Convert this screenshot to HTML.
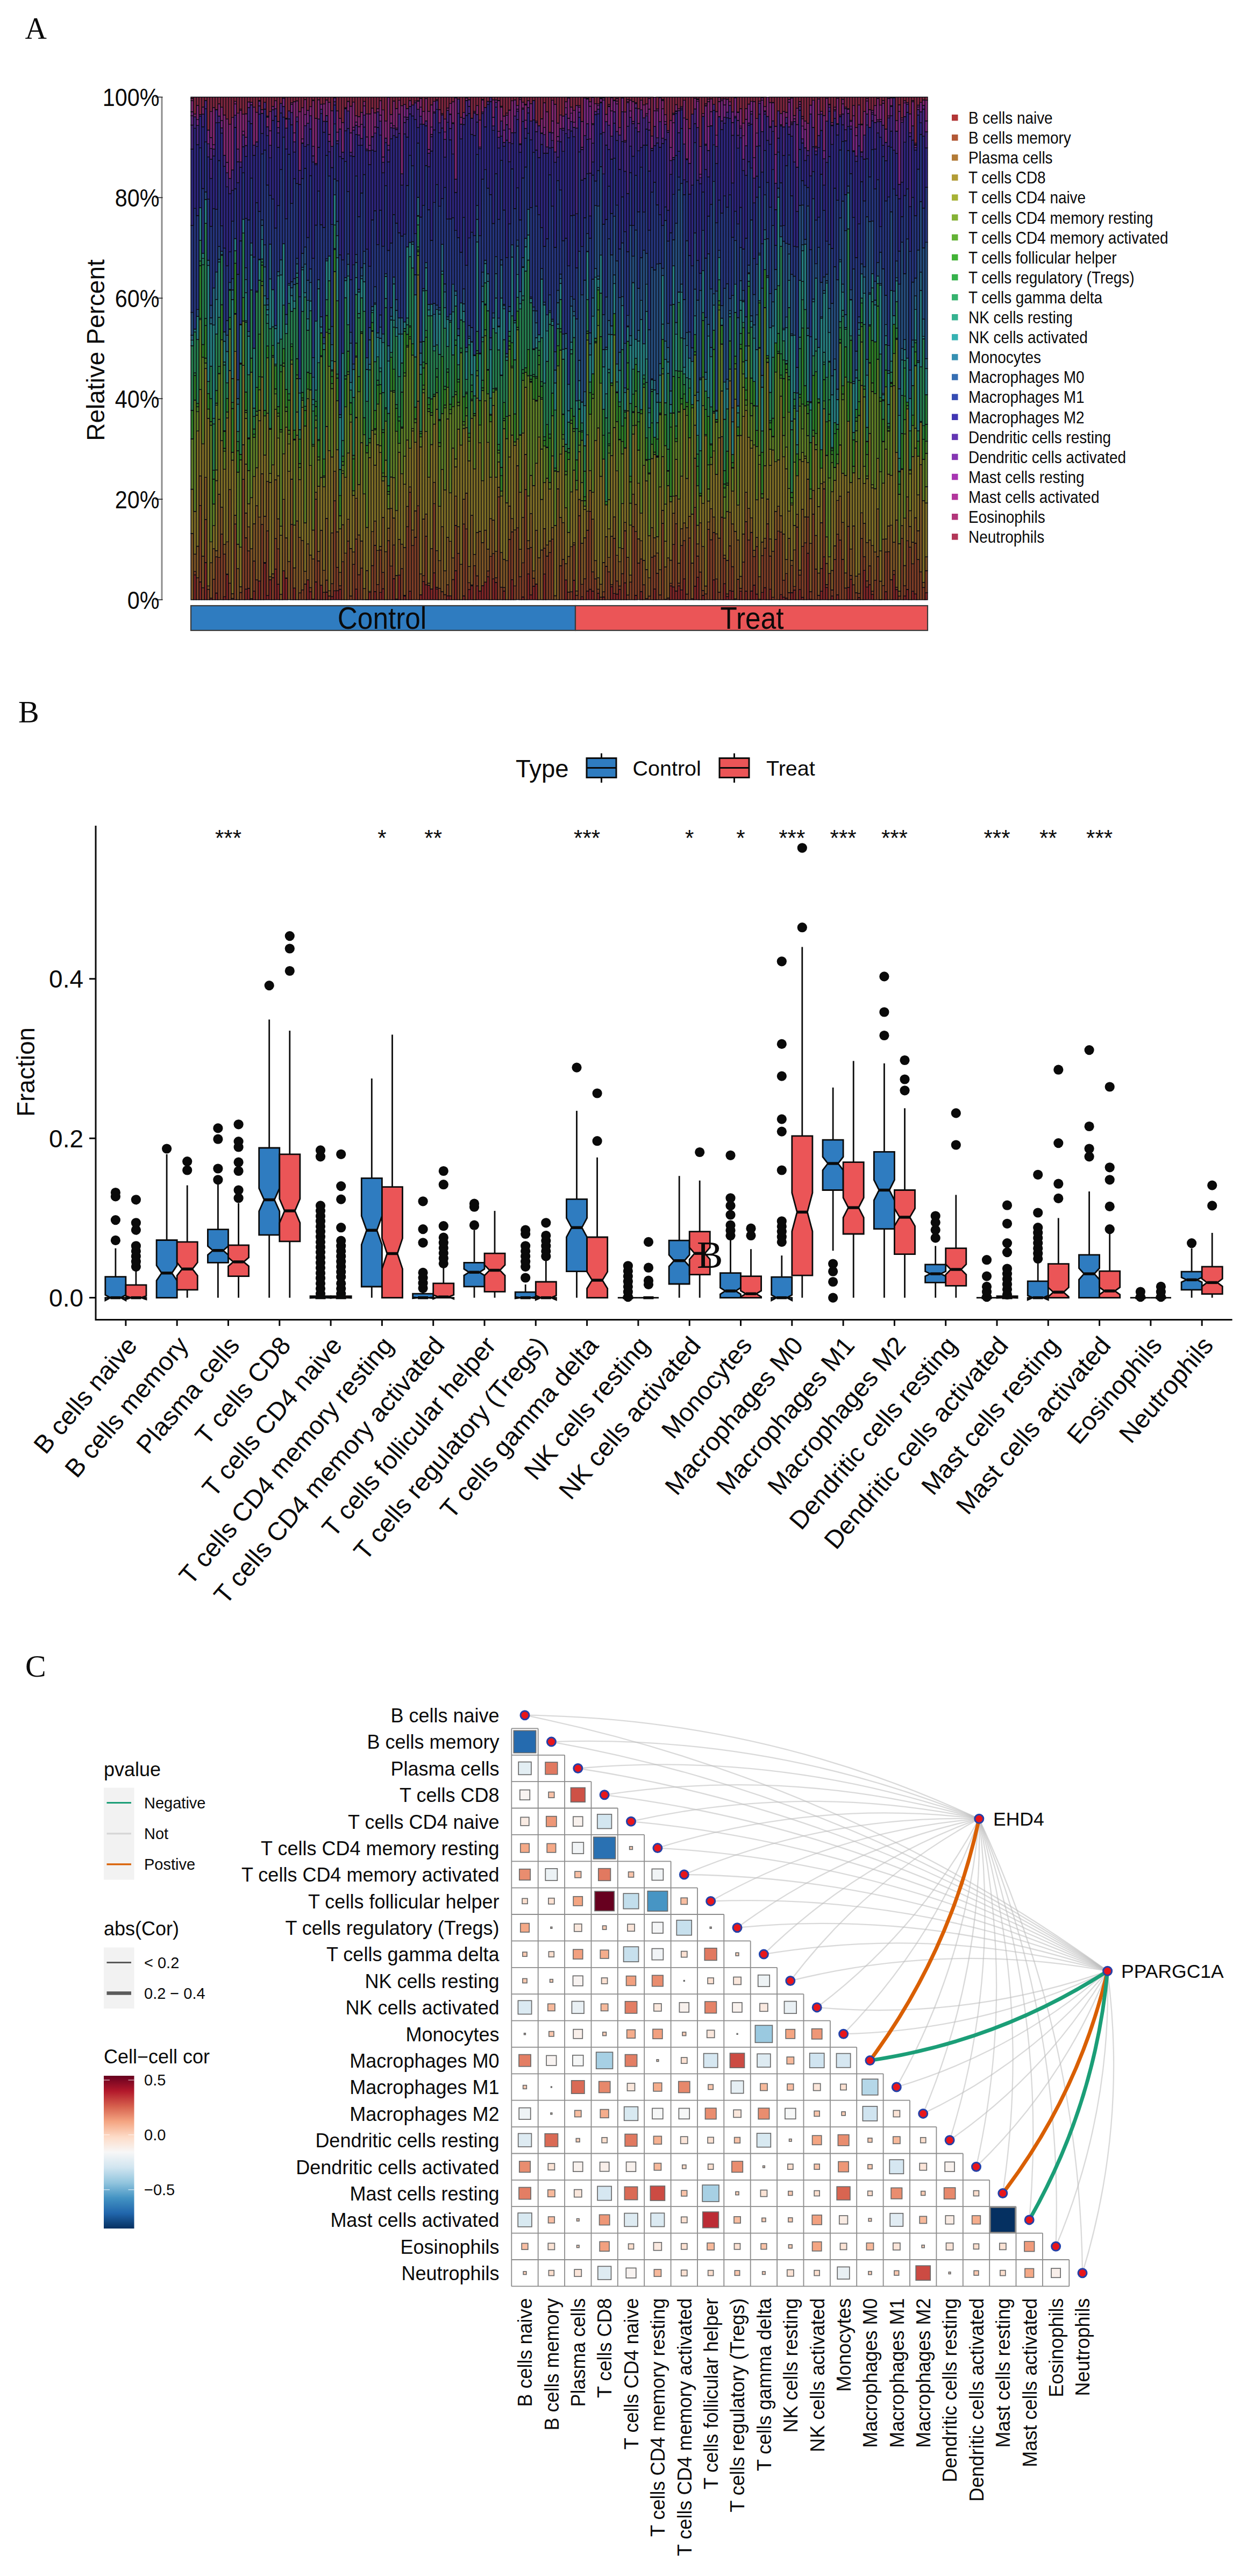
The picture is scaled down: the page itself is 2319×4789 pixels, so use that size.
<!DOCTYPE html>
<html><head><meta charset="utf-8"><title>Figure</title>
<style>html,body{margin:0;padding:0;background:#fff}svg{display:block}text{font-family:"Liberation Sans",sans-serif;fill:#0a0a0a}text.sf{font-family:"Liberation Serif",serif}</style>
</head><body>
<svg width="2319" height="4789" viewBox="0 0 2319 4789">
<rect width="2319" height="4789" fill="#fff"/>
<g id="panelA">
<g stroke="#0b0b12" stroke-width="1.4" stroke-linejoin="miter">
<path fill="#7d2525" d="M360 1115.0v-46.4h5v46.4zM370 1115.0v-33.2h5v33.2zM380 1115.0v-69.2h5v69.2zM390 1115.0v-3.1h5v3.1zM400 1115.0v-12.5h5v12.5zM415 1115.0v-5.6h5v5.6zM420 1115.0v-46.7h5v46.7zM455 1115.0v-19.8h5v19.8zM460 1115.0v-21.3h5v21.3zM470 1115.0v-16.1h5v16.1zM480 1115.0v-34.7h5v34.7zM490 1115.0v-67.8h5v67.8zM495 1115.0v-7.9h5v7.9zM500 1115.0v-37.3h5v37.3zM510 1115.0v-57.1h5v57.1zM515 1115.0v-28.8h5v28.8zM525 1115.0v-53.8h5v53.8zM530 1115.0v-39.8h5v39.8zM545 1115.0v-21.7h5v21.7zM570 1115.0v-37.1h5v37.1zM575 1115.0v-14.8h5v14.8zM580 1115.0v-1.1h5v1.1zM585 1115.0v-33.2h5v33.2zM595 1115.0v-27.1h5v27.1zM605 1115.0v-14.2h5v14.2zM615 1115.0v-5.9h5v5.9zM620 1115.0v-16.6h5v16.6zM625 1115.0v-16.7h5v16.7zM630 1115.0v-19.5h5v19.5zM660 1115.0v-19.8h5v19.8zM685 1115.0v-13.6h5v13.6zM695 1115.0v-15.2h5v15.2zM705 1115.0v-13.6h5v13.6zM710 1115.0v-20.5h5v20.5zM730 1115.0v-39.3h5v39.3zM740 1115.0v-45.8h5v45.8zM750 1115.0v-7.0h5v7.0zM760 1115.0v-15.8h5v15.8zM780 1115.0v-9.2h5v9.2zM785 1115.0v-33.8h5v33.8zM790 1115.0v-27.9h5v27.9zM795 1115.0v-26.8h5v26.8zM800 1115.0v-20.0h5v20.0zM805 1115.0v-50.1h5v50.1zM810 1115.0v-20.1h5v20.1zM830 1115.0v-7.4h5v7.4zM835 1115.0v-7.4h5v7.4zM845 1115.0v-54.0h5v54.0zM860 1115.0v-7.2h5v7.2zM870 1115.0v-19.1h5v19.1zM875 1115.0v-25.9h5v25.9zM885 1115.0v-25.7h5v25.7zM890 1115.0v-16.3h5v16.3zM895 1115.0v-26.3h5v26.3zM900 1115.0v-32.9h5v32.9zM905 1115.0v-42.7h5v42.7zM915 1115.0v-38.9h5v38.9zM920 1115.0v-32.3h5v32.3zM935 1115.0v-16.3h5v16.3zM950 1115.0v-37.4h5v37.4zM970 1115.0v-5.2h5v5.2zM980 1115.0v-48.1h5v48.1zM985 1115.0v-9.1h5v9.1zM990 1115.0v-25.3h5v25.3zM995 1115.0v-29.2h5v29.2zM1010 1115.0v-47.9h5v47.9zM1050 1115.0v-36.7h5v36.7zM1065 1115.0v-36.3h5v36.3zM1080 1115.0v-5.6h5v5.6zM1090 1115.0v-16.3h5v16.3zM1095 1115.0v-19.5h5v19.5zM1100 1115.0v-16.0h5v16.0zM1110 1115.0v-12.1h5v12.1zM1120 1115.0v-5.2h5v5.2zM1135 1115.0v-24.4h5v24.4zM1140 1115.0v-11.6h5v11.6zM1145 1115.0v-10.5h5v10.5zM1150 1115.0v-19.4h5v19.4zM1160 1115.0v-31.5h5v31.5zM1180 1115.0v-8.3h5v8.3zM1190 1115.0v-15.3h5v15.3zM1215 1115.0v-20.1h5v20.1zM1245 1115.0v-25.7h5v25.7zM1250 1115.0v-23.7h5v23.7zM1255 1115.0v-16.2h5v16.2zM1260 1115.0v-25.9h5v25.9zM1265 1115.0v-18.4h5v18.4zM1270 1115.0v-38.9h5v38.9zM1290 1115.0v-25.3h5v25.3zM1295 1115.0v-41.7h5v41.7zM1305 1115.0v-8.2h5v8.2zM1325 1115.0v-37.0h5v37.0zM1345 1115.0v-29.8h5v29.8zM1350 1115.0v-5.9h5v5.9zM1355 1115.0v-16.9h5v16.9zM1360 1115.0v-15.8h5v15.8zM1375 1115.0v-15.9h5v15.9zM1385 1115.0v-16.0h5v16.0zM1395 1115.0v-16.3h5v16.3zM1400 1115.0v-27.3h5v27.3zM1405 1115.0v-10.5h5v10.5zM1415 1115.0v-13.6h5v13.6zM1420 1115.0v-22.5h5v22.5zM1430 1115.0v-19.6h5v19.6zM1450 1115.0v-9.6h5v9.6zM1455 1115.0v-4.9h5v4.9zM1460 1115.0v-3.0h5v3.0zM1470 1115.0v-13.2h5v13.2zM1475 1115.0v-18.0h5v18.0zM1485 1115.0v-19.1h5v19.1zM1490 1115.0v-4.5h5v4.5zM1500 1115.0v-86.5h5v86.5zM1505 1115.0v-0.8h5v0.8zM1525 1115.0v-15.8h5v15.8zM1530 1115.0v-79.9h5v79.9zM1535 1115.0v-22.8h5v22.8zM1545 1115.0v-7.1h5v7.1zM1555 1115.0v-9.3h5v9.3zM1575 1115.0v-22.7h5v22.7zM1580 1115.0v-38.1h5v38.1zM1595 1115.0v-4.0h5v4.0zM1605 1115.0v-54.6h5v54.6zM1610 1115.0v-23.6h5v23.6zM1615 1115.0v-28.1h5v28.1zM1620 1115.0v-9.8h5v9.8zM1645 1115.0v-15.0h5v15.0zM1660 1115.0v-46.9h5v46.9zM1665 1115.0v-18.7h5v18.7zM1680 1115.0v-7.1h5v7.1zM1685 1115.0v-19.2h5v19.2zM1695 1115.0v-15.7h5v15.7zM1700 1115.0v-10.9h5v10.9zM1720 1115.0v-13.1h5v13.1z"/>
<path fill="#7d3d25" d="M360 1068.6v-6.2h5v6.2zM365 1115.0v-40.9h5v40.9zM370 1081.8v-142.2h5v142.2zM375 1115.0v-22.4h5v22.4zM380 1045.8v-80.1h5v80.1zM385 1115.0v-19.4h5v19.4zM395 1115.0v-38.1h5v38.1zM400 1102.5v-67.2h5v67.2zM405 1115.0v-78.6h5v78.6zM410 1115.0v-122.1h5v122.1zM415 1109.4v-79.2h5v79.2zM420 1068.3v-1.1h5v1.1zM425 1115.0v-30.9h5v30.9zM430 1115.0v-2.5h5v2.5zM435 1115.0v-140.9h5v140.9zM445 1115.0v-13.5h5v13.5zM450 1115.0v-223.7h5v223.7zM455 1095.2v-95.5h5v95.5zM460 1093.7v-69.6h5v69.6zM465 1115.0v-2.1h5v2.1zM470 1098.9v-55.9h5v55.9zM475 1115.0v-37.1h5v37.1zM485 1115.0v-140.1h5v140.1zM490 1047.2v-1.4h5v1.4zM495 1107.1v-120.2h5v120.2zM505 1115.0v-41.0h5v41.0zM510 1057.9v-56.6h5v56.6zM515 1086.2v-65.9h5v65.9zM530 1075.2v-0.8h5v0.8zM540 1115.0v-140.1h5v140.1zM555 1115.0v-12.7h5v12.7zM560 1115.0v-18.4h5v18.4zM565 1115.0v-29.3h5v29.3zM575 1100.2v-7.7h5v7.7zM585 1081.8v-153.7h5v153.7zM590 1115.0v-72.2h5v72.2zM600 1115.0v-13.8h5v13.8zM605 1100.8v-22.3h5v22.3zM610 1115.0v-7.0h5v7.0zM615 1109.1v-23.9h5v23.9zM620 1098.4v-167.5h5v167.5zM625 1098.3v-43.7h5v43.7zM630 1095.5v-6.5h5v6.5zM635 1115.0v-70.6h5v70.6zM645 1115.0v-109.1h5v109.1zM650 1115.0v-7.0h5v7.0zM655 1115.0v-65.9h5v65.9zM660 1095.2v-93.0h5v93.0zM665 1115.0v-46.5h5v46.5zM670 1115.0v-58.8h5v58.8zM680 1115.0v-0.4h5v0.4zM690 1115.0v-63.5h5v63.5zM695 1099.8v-86.0h5v86.0zM700 1115.0v-28.4h5v28.4zM705 1101.4v-78.9h5v78.9zM710 1094.5v-30.1h5v30.1zM720 1115.0v-109.7h5v109.7zM725 1115.0v-62.6h5v62.6zM730 1075.7v-62.3h5v62.3zM735 1115.0v-1.3h5v1.3zM745 1115.0v-57.7h5v57.7zM750 1108.0v-1.4h5v1.4zM755 1115.0v-135.9h5v135.9zM760 1099.2v-184.1h5v184.1zM765 1115.0v-100.9h5v100.9zM770 1115.0v-116.3h5v116.3zM775 1115.0v-174.6h5v174.6zM785 1081.2v-11.1h5v11.1zM790 1087.1v-90.2h5v90.2zM805 1064.9v-128.5h5v128.5zM810 1094.9v-3.1h5v3.1zM815 1115.0v-21.4h5v21.4zM820 1115.0v-15.0h5v15.0zM825 1115.0v-9.5h5v9.5zM830 1107.6v-20.3h5v20.3zM840 1115.0v-37.5h5v37.5zM845 1061.0v-84.3h5v84.3zM850 1115.0v-86.4h5v86.4zM860 1107.8v-133.5h5v133.5zM865 1115.0v-131.6h5v131.6zM870 1095.9v-12.5h5v12.5zM875 1089.1v-1.6h5v1.6zM880 1115.0v-63.4h5v63.4zM885 1089.3v-18.8h5v18.8zM905 1072.3v-10.8h5v10.8zM910 1115.0v-80.6h5v80.6zM915 1076.1v-46.9h5v46.9zM920 1082.7v-8.4h5v8.4zM925 1115.0v-191.4h5v191.4zM930 1115.0v-23.4h5v23.4zM935 1098.7v-6.4h5v6.4zM945 1115.0v-112.2h5v112.2zM950 1077.6v-88.9h5v88.9zM955 1115.0v-25.6h5v25.6zM960 1114.8v-133.4h5v133.4zM965 1115.0v-42.7h5v42.7zM970 1109.8v-63.4h5v63.4zM975 1115.0v-204.7h5v204.7zM980 1066.9v-46.9h5v46.9zM985 1105.9v-88.3h5v88.3zM990 1089.7v-14.6h5v14.6zM1010 1067.1v-48.0h5v48.0zM1015 1115.0v-81.2h5v81.2zM1020 1115.0v-87.8h5v87.8zM1025 1115.0v-112.6h5v112.6zM1040 1115.0v-63.3h5v63.3zM1045 1115.0v-75.0h5v75.0zM1055 1115.0v-14.2h5v14.2zM1060 1115.0v-14.9h5v14.9zM1065 1078.7v-65.9h5v65.9zM1070 1115.0v-8.4h5v8.4zM1075 1115.0v-156.2h5v156.2zM1080 1109.4v-23.0h5v23.0zM1085 1115.0v-39.1h5v39.1zM1090 1098.7v-112.9h5v112.9zM1095 1095.5v-144.9h5v144.9zM1100 1099.0v-35.6h5v35.6zM1105 1115.0v-38.9h5v38.9zM1110 1102.9v-7.6h5v7.6zM1115 1115.0v-4.7h5v4.7zM1120 1109.8v-9.6h5v9.6zM1125 1115.0v-62.2h5v62.2zM1130 1115.0v-51.7h5v51.7zM1135 1090.6v-3.7h5v3.7zM1140 1103.4v-102.7h5v102.7zM1145 1104.5v-24.4h5v24.4zM1150 1095.6v-6.2h5v6.2zM1155 1115.0v-48.5h5v48.5zM1160 1083.5v-96.8h5v96.8zM1165 1115.0v-8.8h5v8.8zM1170 1115.0v-32.7h5v32.7zM1175 1115.0v-136.1h5v136.1zM1180 1106.7v-118.6h5v118.6zM1185 1114.9v-68.1h5v68.1zM1190 1099.7v-60.3h5v60.3zM1195 1115.0v-27.8h5v27.8zM1200 1115.0v-2.4h5v2.4zM1205 1115.0v-6.8h5v6.8zM1210 1115.0v-79.1h5v79.1zM1215 1094.9v-61.4h5v61.4zM1220 1115.0v-49.3h5v49.3zM1225 1115.0v-9.0h5v9.0zM1230 1115.0v-142.0h5v142.0zM1235 1115.0v-0.7h5v0.7zM1240 1115.0v-3.3h5v3.3zM1245 1089.3v-4.9h5v4.9zM1250 1091.3v-79.3h5v79.3zM1255 1098.8v-125.2h5v125.2zM1260 1089.1v-5.0h5v5.0zM1265 1096.6v-82.4h5v82.4zM1270 1076.1v-70.8h5v70.8zM1275 1115.0v-10.5h5v10.5zM1280 1115.0v-114.7h5v114.7zM1285 1115.0v-1.9h5v1.9zM1290 1089.7v-146.3h5v146.3zM1295 1073.3v-39.6h5v39.6zM1300 1115.0v-51.5h5v51.5zM1305 1106.8v-9.1h5v9.1zM1310 1115.0v-10.8h5v10.8zM1315 1115.0v-130.7h5v130.7zM1320 1115.0v-111.5h5v111.5zM1325 1078.0v-88.0h5v88.0zM1330 1115.0v-38.6h5v38.6zM1335 1115.0v-14.0h5v14.0zM1340 1115.0v-153.5h5v153.5zM1345 1085.2v-46.9h5v46.9zM1350 1109.1v-4.8h5v4.8zM1355 1098.1v-83.4h5v83.4zM1360 1099.2v-45.7h5v45.7zM1365 1115.0v-1.6h5v1.6zM1370 1115.0v-38.0h5v38.0zM1375 1099.1v-5.5h5v5.5zM1380 1115.0v-70.1h5v70.1zM1385 1099.0v-129.2h5v129.2zM1390 1115.0v-111.1h5v111.1zM1395 1098.7v-108.9h5v108.9zM1400 1087.7v-53.1h5v53.1zM1405 1104.5v-88.4h5v88.4zM1410 1115.0v-0.9h5v0.9zM1415 1101.4v-68.5h5v68.5zM1420 1092.5v-73.2h5v73.2zM1425 1115.0v-141.2h5v141.2zM1430 1095.4v-61.7h5v61.7zM1435 1115.0v-4.6h5v4.6zM1440 1115.0v-112.4h5v112.4zM1445 1115.0v-127.6h5v127.6zM1450 1105.4v-116.2h5v116.2zM1455 1110.1v-31.5h5v31.5zM1460 1112.0v-45.6h5v45.6zM1465 1115.0v-13.3h5v13.3zM1470 1101.8v-50.4h5v50.4zM1475 1097.0v-6.6h5v6.6zM1480 1115.0v-135.2h5v135.2zM1485 1095.9v-26.7h5v26.7zM1490 1110.5v-94.9h5v94.9zM1495 1115.0v-105.7h5v105.7zM1500 1028.5v-67.4h5v67.4zM1505 1114.2v-14.2h5v14.2zM1510 1115.0v-159.2h5v159.2zM1515 1115.0v-57.0h5v57.0zM1520 1115.0v-8.2h5v8.2zM1525 1099.2v-42.3h5v42.3zM1530 1035.1v-126.3h5v126.3zM1535 1092.2v-5.5h5v5.5zM1540 1115.0v-48.6h5v48.6zM1545 1107.9v-11.1h5v11.1zM1550 1115.0v-74.7h5v74.7zM1555 1105.7v-112.5h5v112.5zM1560 1115.0v-111.0h5v111.0zM1565 1115.0v-75.0h5v75.0zM1570 1115.0v-21.8h5v21.8zM1575 1092.3v-113.7h5v113.7zM1580 1076.9v-7.2h5v7.2zM1585 1115.0v-27.7h5v27.7zM1590 1115.0v-13.0h5v13.0zM1595 1111.0v-7.8h5v7.8zM1600 1115.0v-113.7h5v113.7zM1605 1060.4v-25.5h5v25.5zM1610 1091.4v-11.5h5v11.5zM1615 1086.9v-34.9h5v34.9zM1620 1105.2v-6.1h5v6.1zM1625 1115.0v-36.4h5v36.4zM1630 1115.0v-80.3h5v80.3zM1635 1115.0v-0.3h5v0.3zM1640 1115.0v-26.4h5v26.4zM1645 1100.0v-73.8h5v73.8zM1650 1115.0v-89.4h5v89.4zM1655 1115.0v-37.3h5v37.3zM1660 1068.1v-7.5h5v7.5zM1665 1096.3v-4.7h5v4.7zM1670 1115.0v-6.8h5v6.8zM1675 1115.0v-114.1h5v114.1zM1680 1107.9v-19.0h5v19.0zM1685 1095.8v-90.4h5v90.4zM1690 1115.0v-97.7h5v97.7zM1695 1099.3v-51.1h5v51.1zM1700 1104.1v-94.3h5v94.3zM1705 1115.0v-74.7h5v74.7zM1710 1115.0v-51.8h5v51.8zM1715 1115.0v-22.8h5v22.8zM1720 1101.9v-40.9h5v40.9z"/>
<path fill="#7d5525" d="M355 1115.0v-123.2h5v123.2zM360 1062.4v-32.2h5v32.2zM365 1074.1v-58.5h5v58.5zM370 939.6v-55.0h5v55.0zM375 1092.6v-58.6h5v58.6zM380 965.6v-78.2h5v78.2zM385 1095.6v-6.2h5v6.2zM390 1111.9v-65.7h5v65.7zM395 1076.9v-56.7h5v56.7zM400 1035.3v-11.6h5v11.6zM405 1036.4v-117.7h5v117.7zM410 992.9v-50.0h5v50.0zM415 1030.1v-18.0h5v18.0zM420 1067.2v-59.8h5v59.8zM425 1084.1v-173.9h5v173.9zM430 1112.5v-8.9h5v8.9zM435 974.1v-16.1h5v16.1zM440 1115.0v-57.9h5v57.9zM445 1101.5v-10.7h5v10.7zM450 891.3v-64.5h5v64.5zM455 999.7v-45.9h5v45.9zM460 1024.2v-44.7h5v44.7zM465 1112.9v-92.7h5v92.7zM470 1043.0v-69.3h5v69.3zM475 1077.9v-137.7h5v137.7zM480 1080.3v-118.9h5v118.9zM485 974.9v-94.1h5v94.1zM490 1045.7v-85.9h5v85.9zM495 986.9v-92.1h5v92.1zM500 1077.7v-5.6h5v5.6zM505 1074.0v-7.2h5v7.2zM510 1001.3v-109.3h5v109.3zM515 1020.4v-55.9h5v55.9zM520 1115.0v-10.1h5v10.1zM525 1061.2v-132.8h5v132.8zM530 1074.4v-74.4h5v74.4zM535 1114.8v-71.0h5v71.0zM540 974.9v-84.2h5v84.2zM545 1093.3v-37.7h5v37.7zM550 1115.0v-146.5h5v146.5zM555 1102.3v-103.2h5v103.2zM560 1096.6v-91.8h5v91.8zM565 1085.7v-23.7h5v23.7zM570 1077.9v-66.8h5v66.8zM575 1092.4v-60.4h5v60.4zM580 1113.9v-74.7h5v74.7zM585 928.1v-12.8h5v12.8zM590 1042.8v-17.8h5v17.8zM595 1087.9v-101.9h5v101.9zM600 1101.2v-40.9h5v40.9zM605 1078.5v-114.7h5v114.7zM610 1108.0v-9.6h5v9.6zM615 1085.3v-94.7h5v94.7zM620 930.9v-54.8h5v54.8zM625 1054.6v-65.9h5v65.9zM630 1088.9v-24.8h5v24.8zM635 1044.4v-68.9h5v68.9zM640 1115.0v-86.6h5v86.6zM645 1005.9v-40.5h5v40.5zM650 1108.0v-88.2h5v88.2zM655 1049.1v-23.0h5v23.0zM660 1002.1v-75.7h5v75.7zM665 1068.5v-74.0h5v74.0zM670 1056.2v-50.5h5v50.5zM675 1115.0v-20.7h5v20.7zM680 1114.6v-53.9h5v53.9zM685 1101.4v-2.0h5v2.0zM690 1051.5v-63.2h5v63.2zM695 1013.8v-45.2h5v45.2zM700 1086.6v-63.2h5v63.2zM705 1022.5v-6.8h5v6.8zM710 1064.3v-102.3h5v102.3zM715 1115.0v-89.4h5v89.4zM720 1005.3v-23.3h5v23.3zM725 1052.4v-107.3h5v107.3zM730 1013.3v-50.3h5v50.3zM735 1113.7v-43.7h5v43.7zM740 1069.2v-66.5h5v66.5zM745 1057.3v-45.7h5v45.7zM750 1106.6v-88.7h5v88.7zM755 979.1v-37.6h5v37.6zM760 915.2v-10.0h5v10.0zM765 1014.1v-28.7h5v28.7zM770 998.7v-48.9h5v48.9zM775 940.4v-194.7h5v194.7zM780 1105.8v-38.9h5v38.9zM785 1070.1v-105.0h5v105.0zM790 996.9v-41.3h5v41.3zM795 1088.2v-4.0h5v4.0zM800 1095.0v-75.1h5v75.1zM805 936.4v-39.8h5v39.8zM810 1091.8v-68.2h5v68.2zM815 1093.6v-51.2h5v51.2zM820 1100.0v-120.7h5v120.7zM825 1105.5v-44.3h5v44.3zM830 1087.3v-88.4h5v88.4zM835 1107.6v-101.2h5v101.2zM840 1077.5v-40.3h5v40.3zM845 976.7v-54.3h5v54.3zM850 1028.6v-49.4h5v49.4zM855 1115.0v-65.9h5v65.9zM860 974.3v-46.2h5v46.2zM865 983.4v-66.6h5v66.6zM870 1083.4v-30.3h5v30.3zM875 1087.5v-129.5h5v129.5zM880 1051.6v-21.0h5v21.0zM885 1070.5v-80.5h5v80.5zM890 1098.7v-111.0h5v111.0zM895 1088.7v-80.0h5v80.0zM900 1082.1v-96.5h5v96.5zM905 1061.4v-40.5h5v40.5zM910 1034.4v-70.3h5v70.3zM915 1029.2v-62.2h5v62.2zM920 1074.3v-49.4h5v49.4zM925 923.6v-17.9h5v17.9zM930 1091.6v-64.4h5v64.4zM935 1092.2v-52.4h5v52.4zM940 1115.0v-72.6h5v72.6zM945 1002.8v-62.0h5v62.0zM950 988.7v-24.6h5v24.6zM955 1089.4v-104.1h5v104.1zM960 981.4v-115.7h5v115.7zM965 1072.3v-51.2h5v51.2zM970 1046.4v-84.5h5v84.5zM975 910.3v-65.6h5v65.6zM980 1020.0v-14.8h5v14.8zM985 1017.6v-62.9h5v62.9zM990 1075.0v-13.6h5v13.6zM995 1085.8v-99.9h5v99.9zM1000 1115.0v-78.0h5v78.0zM1005 1115.0v-92.5h5v92.5zM1010 1019.2v-36.4h5v36.4zM1015 1033.8v-20.5h5v20.5zM1020 1027.2v-21.5h5v21.5zM1025 1002.4v-21.8h5v21.8zM1030 1115.0v-7.5h5v7.5zM1035 1115.0v-206.3h5v206.3zM1040 1051.7v-89.6h5v89.6zM1045 1040.0v-68.4h5v68.4zM1050 1078.3v-30.4h5v30.4zM1055 1100.8v-66.3h5v66.3zM1060 1100.1v-83.7h5v83.7zM1065 1012.9v-4.0h5v4.0zM1070 1106.6v-8.0h5v8.0zM1075 958.8v-30.3h5v30.3zM1080 1086.4v-76.4h5v76.4zM1085 1075.9v-76.1h5v76.1zM1090 985.8v-35.4h5v35.4zM1095 950.6v-38.9h5v38.9zM1100 1063.3v-98.1h5v98.1zM1105 1076.1v-33.8h5v33.8zM1110 1095.4v-21.2h5v21.2zM1115 1110.3v-24.1h5v24.1zM1120 1100.2v-54.5h5v54.5zM1125 1052.8v-55.1h5v55.1zM1130 1063.3v-26.9h5v26.9zM1135 1086.9v-89.9h5v89.9zM1140 1000.7v-39.8h5v39.8zM1145 1080.1v-47.7h5v47.7zM1150 1089.5v-45.1h5v45.1zM1155 1066.5v-46.9h5v46.9zM1160 986.7v-15.6h5v15.6zM1165 1106.2v-70.0h5v70.0zM1170 1082.3v-13.0h5v13.0zM1175 978.9v-60.3h5v60.3zM1180 988.1v-50.5h5v50.5zM1185 1046.8v-45.1h5v45.1zM1190 1039.3v-33.9h5v33.9zM1195 1087.2v-45.4h5v45.4zM1200 1112.6v-53.6h5v53.6zM1205 1108.2v-34.1h5v34.1zM1210 1035.9v-55.0h5v55.0zM1215 1033.5v-33.9h5v33.9zM1220 1065.7v-37.6h5v37.6zM1225 1106.0v-46.9h5v46.9zM1230 973.0v-24.2h5v24.2zM1235 1114.3v-60.5h5v60.5zM1240 1111.7v-74.4h5v74.4zM1245 1084.4v-42.9h5v42.9zM1250 1012.1v-57.9h5v57.9zM1255 973.6v-52.1h5v52.1zM1260 1084.1v-37.0h5v37.0zM1265 1014.2v-31.3h5v31.3zM1270 1005.2v-33.0h5v33.0zM1275 1104.5v-123.1h5v123.1zM1280 1000.3v-40.3h5v40.3zM1285 1113.1v-66.2h5v66.2zM1290 943.4v-91.5h5v91.5zM1295 1033.8v-22.6h5v22.6zM1300 1063.5v-91.6h5v91.6zM1305 1097.7v-81.8h5v81.8zM1310 1104.2v-14.6h5v14.6zM1315 984.3v-13.9h5v13.9zM1320 1003.5v-58.0h5v58.0zM1325 990.0v-28.8h5v28.8zM1330 1076.4v-84.0h5v84.0zM1335 1101.0v-100.5h5v100.5zM1340 961.5v-149.9h5v149.9zM1345 1038.2v-5.9h5v5.9zM1350 1104.3v-62.6h5v62.6zM1355 1014.7v-62.3h5v62.3zM1360 1053.5v-79.5h5v79.5zM1365 1113.4v-125.4h5v125.4zM1370 1077.0v-73.1h5v73.1zM1375 1093.7v-22.1h5v22.1zM1380 1044.9v-52.2h5v52.2zM1385 969.7v-54.4h5v54.4zM1390 1003.9v-58.7h5v58.7zM1395 989.7v-27.2h5v27.2zM1400 1034.6v-11.4h5v11.4zM1405 1016.2v-17.0h5v17.0zM1410 1114.1v-41.8h5v41.8zM1415 1032.9v-25.1h5v25.1zM1420 1019.3v-18.7h5v18.7zM1425 973.8v-46.0h5v46.0zM1430 1033.7v-31.8h5v31.8zM1435 1110.4v-85.6h5v85.6zM1440 1002.6v-51.7h5v51.7zM1445 987.4v-46.3h5v46.3zM1450 989.2v-30.5h5v30.5zM1455 1078.6v-85.8h5v85.8zM1460 1066.4v-26.1h5v26.1zM1465 1101.7v-101.0h5v101.0zM1470 1051.4v-9.4h5v9.4zM1475 1090.4v-68.0h5v68.0zM1480 979.8v-23.6h5v23.6zM1485 1069.1v-9.4h5v9.4zM1490 1015.6v-68.9h5v68.9zM1495 1009.3v-48.3h5v48.3zM1500 961.1v-70.4h5v70.4zM1505 1100.0v-89.7h5v89.7zM1510 955.8v-44.2h5v44.2zM1515 1058.0v-62.5h5v62.5zM1520 1106.8v-41.3h5v41.3zM1525 1056.9v-85.2h5v85.2zM1530 908.8v-12.6h5v12.6zM1535 1086.7v-39.2h5v39.2zM1540 1066.4v-0.3h5v0.3zM1545 1096.8v-36.3h5v36.3zM1550 1040.3v-25.5h5v25.5zM1555 993.2v-62.9h5v62.9zM1560 1004.0v-81.5h5v81.5zM1565 1040.0v-68.8h5v68.8zM1570 1093.2v-28.0h5v28.0zM1575 978.5v-63.8h5v63.8zM1580 1069.7v-49.1h5v49.1zM1585 1087.3v-109.5h5v109.5zM1590 1102.0v-30.7h5v30.7zM1595 1103.1v-36.0h5v36.0zM1600 1001.3v-47.9h5v47.9zM1605 1034.9v-61.9h5v61.9zM1610 1079.9v-71.3h5v71.3zM1615 1052.0v-48.1h5v48.1zM1620 1099.1v-84.8h5v84.8zM1625 1078.6v-52.4h5v52.4zM1630 1034.7v-88.4h5v88.4zM1635 1114.7v-34.1h5v34.1zM1640 1088.6v-86.2h5v86.2zM1645 1026.2v-24.3h5v24.3zM1650 1025.6v-47.8h5v47.8zM1655 1077.7v-101.3h5v101.3zM1660 1060.6v-52.6h5v52.6zM1665 1091.6v-124.9h5v124.9zM1670 1108.2v-9.2h5v9.2zM1675 1000.9v-23.6h5v23.6zM1680 1088.9v-37.4h5v37.4zM1685 1005.4v-81.8h5v81.8zM1690 1017.3v-38.6h5v38.6zM1695 1048.2v-40.2h5v40.2zM1700 1009.8v-47.3h5v47.3zM1705 1040.3v-53.5h5v53.5zM1710 1063.2v-199.6h5v199.6zM1715 1092.2v-9.6h5v9.6zM1720 1061.0v-25.9h5v25.9z"/>
<path fill="#7d6d25" d="M355 991.8v-82.3h5v82.3zM360 1030.2v-79.5h5v79.5zM365 1015.5v-214.4h5v214.4zM370 884.7v-160.4h5v160.4zM375 1034.0v-208.9h5v208.9zM380 887.4v-202.6h5v202.6zM385 1089.4v-311.7h5v311.7zM390 1046.2v-38.8h5v38.8zM395 1020.1v-43.0h5v43.0zM400 1023.7v-130.2h5v130.2zM405 918.7v-139.2h5v139.2zM410 942.9v-123.7h5v123.7zM415 1012.1v-139.7h5v139.7zM420 1007.4v-230.4h5v230.4zM425 910.2v-221.4h5v221.4zM430 1103.7v-248.1h5v248.1zM435 958.0v-304.6h5v304.6zM440 1057.1v-45.4h5v45.4zM445 1090.8v-73.7h5v73.7zM450 826.8v-147.5h5v147.5zM455 953.8v-91.0h5v91.0zM460 979.4v-42.9h5v42.9zM465 1020.2v-95.1h5v95.1zM470 973.7v-88.1h5v88.1zM475 940.3v-70.8h5v70.8zM480 961.4v-179.1h5v179.1zM485 880.8v-180.1h5v180.1zM490 959.8v-113.8h5v113.8zM495 894.9v-126.6h5v126.6zM500 1072.2v-175.4h5v175.4zM505 1066.8v-202.5h5v202.5zM510 892.0v-131.1h5v131.1zM515 964.5v-80.0h5v80.0zM520 1104.9v-109.6h5v109.6zM525 928.4v-84.8h5v84.8zM530 1000.0v-205.7h5v205.7zM535 1043.9v-167.8h5v167.8zM540 890.7v-213.8h5v213.8zM545 1055.7v-79.4h5v79.4zM550 968.5v-159.1h5v159.1zM555 999.1v-107.5h5v107.5zM560 1004.9v-247.5h5v247.5zM565 1062.1v-90.1h5v90.1zM570 1011.1v-269.9h5v269.9zM575 1032.0v-166.6h5v166.6zM580 1039.2v-53.7h5v53.7zM585 915.3v-119.8h5v119.8zM590 1025.1v-121.1h5v121.1zM595 986.0v-98.5h5v98.5zM600 1060.4v-155.5h5v155.5zM605 963.8v-171.0h5v171.0zM610 1098.4v-260.8h5v260.8zM615 990.6v-141.1h5v141.1zM620 876.1v-203.9h5v203.9zM625 988.7v-152.4h5v152.4zM630 1064.1v-80.9h5v80.9zM635 975.5v-95.2h5v95.2zM640 1028.4v-141.1h5v141.1zM645 965.4v-123.1h5v123.1zM650 1019.8v-235.2h5v235.2zM655 1026.1v-105.1h5v105.1zM660 926.4v-149.9h5v149.9zM665 994.5v-93.7h5v93.7zM670 1005.7v-182.7h5v182.7zM675 1094.3v-176.2h5v176.2zM680 1060.7v-80.2h5v80.2zM685 1099.4v-248.7h5v248.7zM690 988.4v-188.0h5v188.0zM695 968.6v-103.7h5v103.7zM700 1023.4v-196.6h5v196.6zM705 1015.7v-174.6h5v174.6zM710 962.0v-68.0h5v68.0zM715 1025.6v-139.7h5v139.7zM720 982.0v-36.2h5v36.2zM725 945.1v-58.4h5v58.4zM730 963.0v-75.1h5v75.1zM735 1070.0v-120.9h5v120.9zM740 1002.6v-161.8h5v161.8zM745 1011.6v-131.0h5v131.0zM750 1018.0v-117.8h5v117.8zM755 941.4v-123.5h5v123.5zM760 905.1v-71.7h5v71.7zM765 985.4v-184.2h5v184.2zM770 949.8v-127.7h5v127.7zM775 745.7v-234.6h5v234.6zM780 1066.9v-236.2h5v236.2zM785 965.0v-234.9h5v234.9zM790 955.6v-153.2h5v153.2zM795 1084.2v-196.9h5v196.9zM800 1019.9v-193.4h5v193.4zM805 896.6v-108.1h5v108.1zM810 1023.6v-262.7h5v262.7zM815 1042.4v-101.1h5v101.1zM820 979.3v-106.7h5v106.7zM825 1061.2v-150.6h5v150.6zM830 999.0v-220.1h5v220.1zM835 1006.4v-90.1h5v90.1zM840 1037.2v-204.2h5v204.2zM845 922.4v-54.4h5v54.4zM850 979.2v-181.5h5v181.5zM855 1049.1v-221.6h5v221.6zM860 928.1v-131.6h5v131.6zM865 916.8v-121.5h5v121.5zM870 1053.2v-196.4h5v196.4zM875 957.9v-180.3h5v180.3zM880 1030.6v-159.0h5v159.0zM885 990.0v-249.7h5v249.7zM890 987.7v-164.4h5v164.4zM895 1008.6v-115.1h5v115.1zM900 985.6v-240.5h5v240.5zM905 1020.9v-198.6h5v198.6zM910 964.1v-76.9h5v76.9zM915 967.0v-213.3h5v213.3zM920 1024.9v-137.7h5v137.7zM925 905.7v-46.9h5v46.9zM930 1027.2v-105.1h5v105.1zM935 1039.9v-242.9h5v242.9zM940 1042.4v-107.7h5v107.7zM945 940.7v-91.2h5v91.2zM950 964.1v-155.4h5v155.4zM955 985.3v-157.1h5v157.1zM960 865.7v-49.6h5v49.6zM965 1021.1v-106.0h5v106.0zM970 961.9v-156.8h5v156.8zM975 844.7v-124.7h5v124.7zM980 1005.2v-83.3h5v83.3zM985 954.6v-70.9h5v70.9zM990 1061.4v-158.6h5v158.6zM995 985.9v-124.8h5v124.8zM1000 1037.0v-224.6h5v224.6zM1005 1022.5v-94.0h5v94.0zM1010 982.8v-85.6h5v85.6zM1015 1013.3v-124.3h5v124.3zM1020 1005.6v-96.4h5v96.4zM1025 980.6v-133.1h5v133.1zM1030 1107.5v-130.5h5v130.5zM1035 908.7v-31.9h5v31.9zM1040 962.0v-117.9h5v117.9zM1045 971.6v-141.5h5v141.5zM1050 1047.9v-104.0h5v104.0zM1055 1034.5v-44.8h5v44.8zM1060 1016.4v-102.0h5v102.0zM1065 1008.9v-134.9h5v134.9zM1070 1098.6v-188.0h5v188.0zM1075 928.5v-88.9h5v88.9zM1080 1010.0v-79.4h5v79.4zM1085 999.8v-52.7h5v52.7zM1090 950.4v-142.0h5v142.0zM1095 911.8v-36.9h5v36.9zM1100 965.2v-50.1h5v50.1zM1105 1042.2v-223.4h5v223.4zM1110 1074.2v-278.7h5v278.7zM1115 1086.2v-200.7h5v200.7zM1120 1045.7v-192.2h5v192.2zM1125 997.8v-59.2h5v59.2zM1130 1036.4v-53.0h5v53.0zM1135 997.0v-150.0h5v150.0zM1140 961.0v-166.3h5v166.3zM1145 1032.4v-157.0h5v157.0zM1150 1044.4v-26.0h5v26.0zM1155 1019.6v-83.4h5v83.4zM1160 971.1v-138.1h5v138.1zM1165 1036.1v-272.4h5v272.4zM1170 1069.3v-93.1h5v93.1zM1175 918.6v-111.6h5v111.6zM1180 937.6v-147.1h5v147.1zM1185 1001.7v-103.4h5v103.4zM1190 1005.4v-51.5h5v51.5zM1195 1041.8v-176.7h5v176.7zM1200 1059.0v-165.0h5v165.0zM1205 1074.1v-78.1h5v78.1zM1210 980.9v-128.4h5v128.4zM1215 999.7v-155.0h5v155.0zM1220 1028.1v-30.5h5v30.5zM1225 1059.2v-154.0h5v154.0zM1230 948.8v-99.9h5v99.9zM1235 1053.9v-47.7h5v47.7zM1240 1037.3v-134.6h5v134.6zM1245 1041.5v-108.7h5v108.7zM1250 954.2v-31.8h5v31.8zM1255 921.5v-67.5h5v67.5zM1260 1047.0v-119.5h5v119.5zM1265 982.9v-97.7h5v97.7zM1270 972.2v-211.0h5v211.0zM1275 981.3v-91.8h5v91.8zM1280 959.9v-146.2h5v146.2zM1285 1046.8v-91.1h5v91.1zM1290 851.8v-61.3h5v61.3zM1295 1011.2v-34.7h5v34.7zM1300 971.9v-49.6h5v49.6zM1305 1015.9v-80.3h5v80.3zM1310 1089.5v-279.1h5v279.1zM1315 970.4v-38.9h5v38.9zM1320 945.6v-82.0h5v82.0zM1325 961.1v-122.7h5v122.7zM1330 992.5v-110.6h5v110.6zM1335 1000.5v-186.8h5v186.8zM1340 811.6v-84.8h5v84.8zM1345 1032.3v-69.3h5v69.3zM1350 1041.7v-90.7h5v90.7zM1355 952.4v-244.1h5v244.1zM1360 974.0v-61.1h5v61.1zM1365 988.0v-246.0h5v246.0zM1370 1003.9v-65.0h5v65.0zM1375 1071.5v-262.0h5v262.0zM1380 992.7v-218.7h5v218.7zM1385 915.3v-152.4h5v152.4zM1390 945.1v-132.2h5v132.2zM1395 962.6v-129.5h5v129.5zM1400 1023.2v-196.1h5v196.1zM1405 999.2v-70.0h5v70.0zM1410 1072.3v-208.9h5v208.9zM1415 1007.8v-82.0h5v82.0zM1420 1000.6v-134.9h5v134.9zM1425 927.7v-253.8h5v253.8zM1430 1001.9v-136.7h5v136.7zM1435 1024.9v-188.4h5v188.4zM1440 950.8v-92.4h5v92.4zM1445 941.1v-86.1h5v86.1zM1450 958.7v-222.2h5v222.2zM1455 992.8v-143.7h5v143.7zM1460 1040.2v-168.7h5v168.7zM1465 1000.7v-50.4h5v50.4zM1470 1042.0v-103.4h5v103.4zM1475 1022.4v-45.7h5v45.7zM1480 956.2v-71.8h5v71.8zM1485 1059.7v-205.2h5v205.2zM1490 946.6v-88.3h5v88.3zM1495 961.0v-109.0h5v109.0zM1500 890.7v-30.9h5v30.9zM1505 1010.3v-83.1h5v83.1zM1510 911.6v-100.6h5v100.6zM1515 995.4v-159.7h5v159.7zM1520 1065.4v-123.6h5v123.6zM1525 971.7v-72.4h5v72.4zM1530 896.2v-136.2h5v136.2zM1535 1047.5v-49.3h5v49.3zM1540 1066.1v-30.8h5v30.8zM1545 1060.5v-146.4h5v146.4zM1550 1014.8v-121.8h5v121.8zM1555 930.4v-68.3h5v68.3zM1560 922.5v-95.0h5v95.0zM1565 971.2v-91.5h5v91.5zM1570 1065.2v-181.2h5v181.2zM1575 914.7v-131.6h5v131.6zM1580 1020.6v-123.6h5v123.6zM1585 977.8v-98.8h5v98.8zM1590 1071.3v-250.3h5v250.3zM1595 1067.1v-177.3h5v177.3zM1600 953.4v-236.9h5v236.9zM1605 972.9v-74.3h5v74.3zM1610 1008.6v-118.8h5v118.8zM1615 1003.9v-198.0h5v198.0zM1620 1014.3v-107.4h5v107.4zM1625 1026.2v-117.7h5v117.7zM1630 946.3v-94.2h5v94.2zM1635 1080.5v-56.3h5v56.3zM1640 1002.5v-104.3h5v104.3zM1645 1001.9v-167.0h5v167.0zM1650 977.8v-96.3h5v96.3zM1655 976.4v-92.9h5v92.9zM1660 1008.0v-291.0h5v291.0zM1665 966.7v-125.4h5v125.4zM1670 1099.0v-88.1h5v88.1zM1675 977.3v-104.7h5v104.7zM1680 1051.5v-88.4h5v88.4zM1685 923.6v-163.5h5v163.5zM1690 978.7v-29.2h5v29.2zM1695 1008.0v-159.2h5v159.2zM1700 962.5v-129.5h5v129.5zM1705 986.8v-66.9h5v66.9zM1710 863.6v-78.3h5v78.3zM1715 1082.6v-151.8h5v151.8zM1720 1035.1v-100.1h5v100.1z"/>
<path fill="#757d25" d="M400 893.5v-20.0h5v20.0zM455 862.7v-85.1h5v85.1zM480 782.3v-19.6h5v19.6zM500 896.8v-16.6h5v16.6zM515 884.5v-70.1h5v70.1zM520 995.2v-17.0h5v17.0zM535 876.1v-50.7h5v50.7zM550 809.3v-43.3h5v43.3zM635 880.3v-4.9h5v4.9zM660 776.5v-0.8h5v0.8zM695 864.8v-57.7h5v57.7zM705 841.2v-12.6h5v12.6zM715 885.9v-30.4h5v30.4zM750 900.2v-52.1h5v52.1zM765 801.1v-4.6h5v4.6zM845 868.0v-14.7h5v14.7zM945 849.5v-77.0h5v77.0zM1005 928.5v-93.8h5v93.8zM1080 930.7v-33.3h5v33.3zM1085 947.1v-6.1h5v6.1zM1130 983.3v-54.5h5v54.5zM1235 1006.2v-68.8h5v68.8zM1290 790.5v-55.8h5v55.8zM1305 935.6v-181.4h5v181.4zM1325 838.4v-70.6h5v70.6zM1380 774.1v-54.1h5v54.1zM1395 833.1v-14.0h5v14.0zM1410 863.4v-16.9h5v16.9zM1430 865.3v-30.0h5v30.0zM1460 871.5v-40.3h5v40.3zM1465 950.3v-42.0h5v42.0zM1475 976.7v-117.5h5v117.5zM1490 858.3v-17.1h5v17.1zM1495 851.9v-3.9h5v3.9zM1520 941.8v-33.5h5v33.5zM1525 899.3v-28.9h5v28.9zM1560 827.5v-0.6h5v0.6zM1605 898.6v-31.7h5v31.7zM1620 906.9v-5.6h5v5.6zM1690 949.4v-68.6h5v68.6zM1700 833.0v-37.1h5v37.1zM1705 919.9v-71.6h5v71.6zM1720 935.0v-30.3h5v30.3z"/>
<path fill="#5d7d25" d="M355 909.5v-93.4h5v93.4zM360 950.7v-206.9h5v206.9zM365 801.1v-35.7h5v35.7zM370 724.2v-129.8h5v129.8zM375 825.1v-161.0h5v161.0zM380 684.9v-10.2h5v10.2zM385 777.7v-17.3h5v17.3zM390 1007.4v-216.8h5v216.8zM395 977.1v-40.1h5v40.1zM400 873.6v-120.2h5v120.2zM405 779.5v-84.6h5v84.6zM410 819.2v-187.6h5v187.6zM415 872.4v-33.8h5v33.8zM420 776.9v-11.0h5v11.0zM425 688.8v-77.0h5v77.0zM430 855.5v-14.8h5v14.8zM435 653.4v-69.1h5v69.1zM440 1011.7v-134.0h5v134.0zM445 1017.1v-162.2h5v162.2zM450 679.3v-82.5h5v82.5zM455 777.7v-11.0h5v11.0zM460 936.5v-61.7h5v61.7zM465 925.1v-233.1h5v233.1zM470 885.6v-72.6h5v72.6zM475 869.5v-97.7h5v97.7zM480 762.7v-38.1h5v38.1zM485 700.6v-169.9h5v169.9zM490 846.0v-72.7h5v72.7zM495 768.3v-103.0h5v103.0zM500 880.2v-82.0h5v82.0zM505 864.3v-200.6h5v200.6zM510 760.9v-28.5h5v28.5zM515 814.4v-40.8h5v40.8zM520 978.2v-175.0h5v175.0zM525 843.6v-162.7h5v162.7zM530 794.3v-29.6h5v29.6zM535 825.4v-18.4h5v18.4zM540 676.9v-7.5h5v7.5zM545 976.3v-158.4h5v158.4zM550 766.0v-62.2h5v62.2zM555 891.6v-22.3h5v22.3zM560 757.4v-13.7h5v13.7zM565 972.0v-180.0h5v180.0zM570 741.2v-17.8h5v17.8zM575 865.4v-140.6h5v140.6zM580 985.5v-155.9h5v155.9zM585 795.4v-14.5h5v14.5zM590 904.0v-48.7h5v48.7zM595 887.5v-224.5h5v224.5zM600 904.9v-17.7h5v17.7zM605 792.7v-175.2h5v175.2zM610 837.6v-156.7h5v156.7zM615 849.5v-127.0h5v127.0zM620 672.1v-167.4h5v167.4zM625 836.3v-91.4h5v91.4zM630 983.2v-24.4h5v24.4zM635 875.4v-10.6h5v10.6zM640 887.4v-131.0h5v131.0zM645 842.3v-146.2h5v146.2zM650 784.6v-14.1h5v14.1zM655 921.0v-8.6h5v8.6zM660 775.8v-111.4h5v111.4zM665 900.8v-172.4h5v172.4zM670 823.0v-203.2h5v203.2zM675 918.1v-109.8h5v109.8zM680 980.5v-138.7h5v138.7zM685 850.7v-27.6h5v27.6zM690 800.3v-184.5h5v184.5zM695 807.1v-7.9h5v7.9zM700 826.8v-75.7h5v75.7zM705 828.5v-96.6h5v96.6zM710 894.0v-8.3h5v8.3zM715 855.5v-72.6h5v72.6zM720 945.8v-27.2h5v27.2zM725 886.7v-159.7h5v159.7zM730 887.9v-158.7h5v158.7zM735 949.1v-147.5h5v147.5zM740 840.8v-16.7h5v16.7zM745 880.6v-84.6h5v84.6zM750 848.1v-149.0h5v149.0zM755 818.0v-173.0h5v173.0zM760 833.4v-203.5h5v203.5zM765 796.6v-136.4h5v136.4zM770 822.1v-36.5h5v36.5zM775 511.1v-36.4h5v36.4zM780 830.7v-18.7h5v18.7zM785 730.1v-6.4h5v6.4zM790 802.3v-126.3h5v126.3zM795 887.3v-122.3h5v122.3zM800 826.5v-54.5h5v54.5zM805 788.5v-51.5h5v51.5zM810 760.8v-30.6h5v30.6zM815 941.3v-111.4h5v111.4zM820 872.6v-103.6h5v103.6zM825 910.7v-152.4h5v152.4zM830 778.8v-58.9h5v58.9zM835 916.3v-147.1h5v147.1zM840 833.0v-77.1h5v77.1zM845 853.2v-119.7h5v119.7zM850 797.8v-43.5h5v43.5zM855 827.4v-171.5h5v171.5zM860 796.5v-6.2h5v6.2zM865 795.3v-22.4h5v22.4zM870 856.8v-36.7h5v36.7zM875 777.6v-32.8h5v32.8zM880 871.6v-98.9h5v98.9zM885 740.3v-41.8h5v41.8zM890 823.3v-33.1h5v33.1zM895 893.6v-167.5h5v167.5zM900 745.1v-120.8h5v120.8zM905 822.4v-90.2h5v90.2zM910 887.2v-103.3h5v103.3zM915 753.6v-24.6h5v24.6zM920 887.2v-161.8h5v161.8zM925 858.8v-16.6h5v16.6zM930 922.1v-9.2h5v9.2zM935 797.0v-15.3h5v15.3zM940 934.7v-119.2h5v119.2zM945 772.5v-123.2h5v123.2zM950 808.7v-125.1h5v125.1zM955 828.2v-6.7h5v6.7zM960 816.1v-203.1h5v203.1zM965 915.2v-105.8h5v105.8zM970 805.1v-98.0h5v98.0zM975 720.0v-27.8h5v27.8zM980 921.9v-223.4h5v223.4zM985 883.8v-173.3h5v173.3zM990 902.8v-160.4h5v160.4zM995 861.1v-115.6h5v115.6zM1000 812.5v-75.8h5v75.8zM1005 834.7v-92.6h5v92.6zM1010 897.2v-68.1h5v68.1zM1015 889.0v-56.6h5v56.6zM1020 909.2v-12.2h5v12.2zM1025 847.5v-74.8h5v74.8zM1030 977.0v-101.2h5v101.2zM1035 876.8v-196.6h5v196.6zM1040 844.1v-193.3h5v193.3zM1045 830.0v-13.6h5v13.6zM1050 943.9v-61.4h5v61.4zM1055 989.7v-135.5h5v135.5zM1060 914.5v-127.2h5v127.2zM1065 873.9v-71.7h5v71.7zM1075 839.7v-12.2h5v12.2zM1080 897.3v-78.8h5v78.8zM1090 808.4v-176.2h5v176.2zM1095 874.9v-104.8h5v104.8zM1100 915.1v-174.6h5v174.6zM1105 818.9v-181.3h5v181.3zM1110 795.5v-190.4h5v190.4zM1115 885.5v-173.2h5v173.2zM1130 928.8v-86.4h5v86.4zM1135 847.0v-130.4h5v130.4zM1140 794.7v-172.2h5v172.2zM1145 875.4v-91.7h5v91.7zM1150 1018.4v-200.9h5v200.9zM1155 936.3v-92.6h5v92.6zM1165 763.7v-40.2h5v40.2zM1170 976.3v-40.8h5v40.8zM1175 807.0v-15.9h5v15.9zM1180 790.5v-34.7h5v34.7zM1185 898.4v-61.5h5v61.5zM1190 953.9v-184.6h5v184.6zM1195 865.1v-145.0h5v145.0zM1200 894.0v-38.1h5v38.1zM1205 995.9v-114.9h5v114.9zM1210 852.5v-26.8h5v26.8zM1220 997.7v-147.9h5v147.9zM1225 905.1v-134.0h5v134.0zM1230 848.8v-153.8h5v153.8zM1235 937.3v-108.8h5v108.8zM1250 922.4v-154.3h5v154.3zM1255 854.0v-33.1h5v33.1zM1260 927.6v-161.5h5v161.5zM1265 885.2v-134.2h5v134.2zM1275 889.5v-117.2h5v117.2zM1285 955.7v-197.6h5v197.6zM1290 734.7v-74.9h5v74.9zM1295 976.5v-73.6h5v73.6zM1305 754.2v-53.3h5v53.3zM1315 931.5v-22.5h5v22.5zM1320 863.5v-13.4h5v13.4zM1325 767.8v-2.7h5v2.7zM1330 881.8v-97.1h5v97.1zM1335 813.7v-237.3h5v237.3zM1340 726.8v-87.0h5v87.0zM1345 963.1v-39.1h5v39.1zM1350 951.0v-49.2h5v49.2zM1355 708.3v-21.9h5v21.9zM1360 912.9v-42.5h5v42.5zM1365 742.1v-56.2h5v56.2zM1370 938.9v-128.6h5v128.6zM1375 809.5v-161.0h5v161.0zM1380 720.0v-24.7h5v24.7zM1385 762.9v-9.6h5v9.6zM1390 812.9v-170.0h5v170.0zM1395 819.1v-46.3h5v46.3zM1400 827.1v-72.6h5v72.6zM1405 929.2v-99.0h5v99.0zM1410 846.4v-199.0h5v199.0zM1420 865.7v-293.6h5v293.6zM1425 673.9v-0.6h5v0.6zM1430 835.3v-36.8h5v36.8zM1435 836.5v-24.5h5v24.5zM1440 858.4v-166.8h5v166.8zM1445 855.0v-198.0h5v198.0zM1450 736.5v-33.1h5v33.1zM1455 849.1v-39.6h5v39.6zM1460 831.2v-138.4h5v138.4zM1465 908.3v-141.9h5v141.9zM1470 938.6v-3.4h5v3.4zM1475 859.1v-80.4h5v80.4zM1485 854.5v-99.6h5v99.6zM1490 841.3v-43.9h5v43.9zM1495 848.0v-93.4h5v93.4zM1500 859.9v-50.2h5v50.2zM1515 835.8v-8.9h5v8.9zM1520 908.3v-159.2h5v159.2zM1535 998.2v-151.5h5v151.5zM1540 1035.3v-146.8h5v146.8zM1545 914.1v-54.3h5v54.3zM1550 893.0v-23.9h5v23.9zM1560 826.9v-189.1h5v189.1zM1565 879.7v-136.6h5v136.6zM1570 884.0v-182.7h5v182.7zM1580 897.0v-185.6h5v185.6zM1590 821.0v-20.2h5v20.2zM1595 889.8v-117.3h5v117.3zM1600 716.5v-80.9h5v80.9zM1605 866.9v-129.0h5v129.0zM1610 889.8v-5.0h5v5.0zM1615 805.8v-131.1h5v131.1zM1620 901.3v-173.5h5v173.5zM1625 908.5v-176.9h5v176.9zM1630 852.1v-184.2h5v184.2zM1635 1024.2v-147.3h5v147.3zM1640 898.2v-76.9h5v76.9zM1645 834.9v-115.8h5v115.8zM1650 881.5v-80.0h5v80.0zM1655 883.6v-165.1h5v165.1zM1660 716.9v-59.9h5v59.9zM1665 841.3v-210.2h5v210.2zM1670 1010.8v-91.7h5v91.7zM1680 963.1v-156.5h5v156.5zM1690 880.9v-6.9h5v6.9zM1695 848.7v-57.8h5v57.8zM1700 796.0v-116.0h5v116.0zM1715 930.8v-76.7h5v76.7zM1720 904.7v-62.0h5v62.0z"/>
<path fill="#457d25" d="M365 765.4v-9.3h5v9.3zM370 594.4v-2.8h5v2.8zM380 674.7v-9.0h5v9.0zM390 790.5v-6.7h5v6.7zM400 753.4v-3.9h5v3.9zM415 838.6v-5.1h5v5.1zM425 611.9v-0.3h5v0.3zM435 584.3v-1.5h5v1.5zM455 766.6v-3.9h5v3.9zM475 771.8v-7.2h5v7.2zM485 530.7v-7.5h5v7.5zM500 798.2v-1.7h5v1.7zM505 663.7v-3.0h5v3.0zM510 732.4v-9.4h5v9.4zM515 773.6v-5.5h5v5.5zM520 803.2v-4.5h5v4.5zM525 680.9v-5.9h5v5.9zM530 764.7v-7.9h5v7.9zM535 807.1v-7.4h5v7.4zM545 817.9v-1.4h5v1.4zM550 703.8v-6.9h5v6.9zM555 869.3v-7.4h5v7.4zM560 743.7v-4.1h5v4.1zM585 781.0v-7.7h5v7.7zM590 855.3v-5.8h5v5.8zM595 663.0v-1.8h5v1.8zM600 887.2v-2.6h5v2.6zM615 722.5v-9.6h5v9.6zM635 864.8v-6.5h5v6.5zM645 696.1v-5.0h5v5.0zM660 664.4v-2.4h5v2.4zM690 615.8v-1.1h5v1.1zM695 799.2v-2.4h5v2.4zM710 885.6v-6.2h5v6.2zM720 918.6v-4.8h5v4.8zM730 729.3v-3.1h5v3.1zM750 699.1v-5.8h5v5.8zM755 645.0v-2.9h5v2.9zM760 629.9v-3.6h5v3.6zM770 785.6v-6.7h5v6.7zM775 474.6v-6.6h5v6.6zM785 723.7v-7.8h5v7.8zM795 765.0v-5.2h5v5.2zM800 772.0v-4.8h5v4.8zM805 737.0v-0.6h5v0.6zM810 730.3v-0.4h5v0.4zM815 829.9v-6.8h5v6.8zM825 758.3v-5.2h5v5.2zM835 769.3v-7.9h5v7.9zM845 733.5v-5.3h5v5.3zM850 754.3v-6.5h5v6.5zM860 790.3v-6.7h5v6.7zM865 772.9v-14.8h5v14.8zM870 820.1v-6.8h5v6.8zM875 744.8v-2.6h5v2.6zM885 698.5v-9.4h5v9.4zM900 624.3v-11.3h5v11.3zM925 842.2v-5.1h5v5.1zM935 781.7v-3.8h5v3.8zM945 649.3v-6.3h5v6.3zM950 683.6v-3.0h5v3.0zM960 613.0v-4.4h5v4.4zM985 710.5v-1.7h5v1.7zM995 745.5v-1.2h5v1.2zM1000 736.6v-58.7h5v58.7zM1005 742.2v-2.8h5v2.8zM1015 832.4v-1.1h5v1.1zM1045 816.4v-8.8h5v8.8zM1050 882.5v-6.4h5v6.4zM1060 787.2v-6.0h5v6.0zM1065 802.3v-5.5h5v5.5zM1070 910.6v-17.4h5v17.4zM1075 827.5v-25.4h5v25.4zM1085 940.9v-10.1h5v10.1zM1090 632.3v-12.4h5v12.4zM1100 740.5v-7.6h5v7.6zM1110 605.1v-28.8h5v28.8zM1130 842.4v-14.0h5v14.0zM1150 817.5v-0.8h5v0.8zM1155 843.6v-23.0h5v23.0zM1160 833.0v-0.6h5v0.6zM1170 935.5v-39.6h5v39.6zM1175 791.1v-24.4h5v24.4zM1180 755.8v-29.1h5v29.1zM1200 855.9v-1.7h5v1.7zM1205 881.0v-1.9h5v1.9zM1215 844.7v-4.2h5v4.2zM1220 849.8v-0.9h5v0.9zM1225 771.1v-0.8h5v0.8zM1230 695.1v-9.9h5v9.9zM1240 902.7v-26.9h5v26.9zM1245 932.8v-10.0h5v10.0zM1250 768.1v-0.7h5v0.7zM1260 766.0v-0.5h5v0.5zM1275 772.4v-16.6h5v16.6zM1300 922.3v-0.8h5v0.8zM1310 810.4v-2.8h5v2.8zM1315 909.0v-44.9h5v44.9zM1325 765.1v-0.7h5v0.7zM1330 784.7v-0.6h5v0.6zM1335 576.4v-9.3h5v9.3zM1340 639.8v-0.4h5v0.4zM1345 924.0v-16.7h5v16.7zM1350 901.8v-3.6h5v3.6zM1355 686.4v-0.3h5v0.3zM1360 870.4v-1.1h5v1.1zM1365 685.9v-9.8h5v9.8zM1370 810.3v-0.7h5v0.7zM1375 648.5v-0.4h5v0.4zM1380 695.3v-22.7h5v22.7zM1385 753.4v-9.8h5v9.8zM1390 643.0v-23.7h5v23.7zM1395 772.8v-22.9h5v22.9zM1400 754.5v-0.6h5v0.6zM1410 647.5v-1.6h5v1.6zM1415 925.8v-7.8h5v7.8zM1420 572.1v-0.4h5v0.4zM1425 673.3v-7.6h5v7.6zM1430 798.5v-0.7h5v0.7zM1435 812.0v-0.9h5v0.9zM1445 657.0v-0.6h5v0.6zM1455 809.5v-33.4h5v33.4zM1460 692.8v-6.0h5v6.0zM1470 935.3v-10.3h5v10.3zM1475 778.7v-19.6h5v19.6zM1485 754.9v-15.6h5v15.6zM1490 797.4v-46.3h5v46.3zM1495 754.6v-0.4h5v0.4zM1500 809.7v-41.0h5v41.0zM1505 927.2v-18.1h5v18.1zM1510 811.0v-11.4h5v11.4zM1515 826.8v-21.3h5v21.3zM1520 749.2v-1.0h5v1.0zM1530 760.0v-14.6h5v14.6zM1535 846.7v-0.5h5v0.5zM1540 888.5v-106.3h5v106.3zM1545 859.9v-15.2h5v15.2zM1550 869.1v-0.5h5v0.5zM1555 862.1v-17.5h5v17.5zM1560 637.7v-0.7h5v0.7zM1565 743.1v-10.6h5v10.6zM1585 879.0v-12.2h5v12.2zM1590 800.8v-17.8h5v17.8zM1595 772.5v-0.4h5v0.4zM1600 635.7v-28.6h5v28.6zM1605 737.8v-14.4h5v14.4zM1610 884.9v-39.9h5v39.9zM1615 674.7v-0.4h5v0.4zM1620 727.8v-15.9h5v15.9zM1635 876.9v-130.9h5v130.9zM1640 821.3v-0.8h5v0.8zM1650 801.5v-0.9h5v0.9zM1670 919.1v-0.4h5v0.4zM1675 872.6v-1.1h5v1.1zM1680 806.6v-26.5h5v26.5zM1685 760.1v-5.8h5v5.8zM1700 679.9v-0.6h5v0.6zM1720 842.7v-22.4h5v22.4z"/>
<path fill="#2d7d25" d="M355 816.0v-53.0h5v53.0zM360 743.7v-45.5h5v45.5zM365 756.1v-6.2h5v6.2zM370 591.6v-97.9h5v97.9zM375 664.1v-23.5h5v23.5zM380 665.7v-60.7h5v60.7zM385 760.5v-28.9h5v28.9zM390 783.8v-42.6h5v42.6zM395 937.0v-46.4h5v46.4zM400 749.5v-23.6h5v23.6zM405 694.9v-0.7h5v0.7zM410 631.6v-65.1h5v65.1zM415 833.5v-31.2h5v31.2zM420 766.0v-25.4h5v25.4zM425 611.5v-21.4h5v21.4zM430 840.7v-81.2h5v81.2zM435 582.8v-93.4h5v93.4zM440 877.7v-39.7h5v39.7zM445 855.0v-10.2h5v10.2zM450 596.8v-43.5h5v43.5zM455 762.7v-33.9h5v33.9zM460 874.8v-59.0h5v59.0zM465 692.0v-26.2h5v26.2zM470 813.0v-5.9h5v5.9zM475 764.5v-44.2h5v44.2zM480 724.6v-24.2h5v24.2zM485 523.2v-30.5h5v30.5zM490 773.3v-10.3h5v10.3zM495 665.2v-21.9h5v21.9zM505 660.7v-18.5h5v18.5zM510 723.0v-43.1h5v43.1zM515 768.1v-12.1h5v12.1zM520 798.8v-107.7h5v107.7zM525 675.0v-26.8h5v26.8zM530 756.8v-32.8h5v32.8zM535 799.7v-56.0h5v56.0zM540 669.4v-25.3h5v25.3zM545 816.5v-16.9h5v16.9zM550 696.9v-30.1h5v30.1zM555 861.8v-45.4h5v45.4zM560 739.7v-10.2h5v10.2zM565 792.0v-28.9h5v28.9zM570 723.4v-31.0h5v31.0zM575 724.8v-30.6h5v30.6zM580 829.4v-3.1h5v3.1zM585 773.3v-17.5h5v17.5zM590 849.4v-30.4h5v30.4zM595 661.2v-42.2h5v42.2zM600 884.6v-31.3h5v31.3zM605 617.6v-31.1h5v31.1zM610 680.9v-61.0h5v61.0zM615 712.9v-12.6h5v12.6zM620 504.7v-40.8h5v40.8zM625 745.0v-42.3h5v42.3zM630 958.8v-37.4h5v37.4zM635 858.3v-10.4h5v10.4zM640 756.4v-51.9h5v51.9zM645 691.1v-38.4h5v38.4zM650 770.4v-21.3h5v21.3zM655 912.5v-59.4h5v59.4zM660 662.0v-24.3h5v24.3zM665 728.4v-28.0h5v28.0zM670 619.8v-3.0h5v3.0zM675 808.3v-31.8h5v31.8zM680 841.8v-13.5h5v13.5zM685 823.1v-7.8h5v7.8zM690 614.7v-15.2h5v15.2zM695 796.8v-33.7h5v33.7zM700 751.1v-35.3h5v35.3zM705 731.9v-16.9h5v16.9zM710 879.4v-75.4h5v75.4zM715 782.9v-22.5h5v22.5zM720 913.8v-10.8h5v10.8zM725 726.9v-62.8h5v62.8zM730 726.2v-39.8h5v39.8zM735 801.6v-42.5h5v42.5zM740 824.2v-41.6h5v41.6zM745 795.9v-2.2h5v2.2zM750 693.3v-77.5h5v77.5zM755 642.1v-20.6h5v20.6zM760 626.3v-17.9h5v17.9zM765 660.1v-20.9h5v20.9zM770 778.8v-21.8h5v21.8zM775 468.0v-3.1h5v3.1zM780 812.1v-6.0h5v6.0zM785 715.9v-31.9h5v31.9zM790 676.0v-49.1h5v49.1zM795 759.8v-7.4h5v7.4zM800 767.2v-25.7h5v25.7zM805 736.4v-3.5h5v3.5zM810 729.9v-29.1h5v29.1zM815 823.0v-41.2h5v41.2zM820 769.0v-106.4h5v106.4zM825 753.0v-28.9h5v28.9zM830 719.9v-28.2h5v28.2zM835 761.4v-9.9h5v9.9zM840 755.9v-18.4h5v18.4zM845 728.2v-86.5h5v86.5zM850 747.8v-37.6h5v37.6zM855 655.9v-0.7h5v0.7zM860 783.6v-46.1h5v46.1zM865 758.0v-26.3h5v26.3zM870 813.3v-7.9h5v7.9zM875 742.2v-14.2h5v14.2zM880 772.7v-4.0h5v4.0zM885 689.1v-31.9h5v31.9zM890 790.3v-45.7h5v45.7zM895 726.0v-5.1h5v5.1zM900 613.0v-46.2h5v46.2zM905 732.2v-44.1h5v44.1zM910 783.9v-11.8h5v11.8zM915 729.1v-6.6h5v6.6zM920 725.4v-2.2h5v2.2zM930 912.9v-28.5h5v28.5zM935 777.9v-29.7h5v29.7zM940 815.5v-41.2h5v41.2zM945 643.0v-9.0h5v9.0zM950 680.6v-43.4h5v43.4zM955 821.5v-52.0h5v52.0zM960 608.5v-30.1h5v30.1zM965 809.4v-1.1h5v1.1zM970 707.1v-13.2h5v13.2zM975 692.2v-8.6h5v8.6zM980 698.5v-48.9h5v48.9zM985 708.8v-3.7h5v3.7zM990 742.4v-42.5h5v42.5zM995 744.3v-41.4h5v41.4zM1000 678.0v-17.2h5v17.2zM1005 739.4v-21.4h5v21.4zM1010 829.1v-10.5h5v10.5zM1015 831.2v-42.1h5v42.1zM1020 897.0v-82.5h5v82.5zM1025 772.8v-42.1h5v42.1zM1030 875.8v-0.6h5v0.6zM1035 680.1v-37.6h5v37.6zM1040 650.8v-33.8h5v33.8zM1045 807.6v-37.1h5v37.1zM1050 876.1v-37.0h5v37.0zM1055 854.2v-12.7h5v12.7zM1060 781.3v-21.9h5v21.9zM1065 796.8v-22.9h5v22.9zM1070 893.2v-38.2h5v38.2zM1075 802.1v-41.3h5v41.3zM1080 818.5v-15.1h5v15.1zM1085 930.8v-7.4h5v7.4zM1090 619.8v-4.3h5v4.3zM1095 770.0v-40.1h5v40.1zM1100 732.9v-37.9h5v37.9zM1105 637.3v-2.7h5v2.7zM1110 576.3v-37.4h5v37.4zM1115 712.4v-86.6h5v86.6zM1120 853.4v-44.1h5v44.1zM1125 938.5v-6.1h5v6.1zM1130 828.5v-3.2h5v3.2zM1135 716.6v-4.8h5v4.8zM1140 622.5v-39.6h5v39.6zM1145 783.7v-53.7h5v53.7zM1150 816.7v-61.1h5v61.1zM1155 820.6v-28.7h5v28.7zM1160 832.4v-55.4h5v55.4zM1165 723.5v-48.9h5v48.9zM1170 895.8v-10.4h5v10.4zM1175 766.7v-1.6h5v1.6zM1180 726.8v-49.3h5v49.3zM1185 836.8v-52.7h5v52.7zM1190 769.2v-7.6h5v7.6zM1195 720.1v-6.3h5v6.3zM1200 854.2v-40.3h5v40.3zM1205 879.2v-25.0h5v25.0zM1210 825.7v-39.5h5v39.5zM1215 840.5v-27.5h5v27.5zM1220 848.9v-1.4h5v1.4zM1225 770.3v-2.3h5v2.3zM1230 685.1v-53.9h5v53.9zM1235 828.5v-57.5h5v57.5zM1240 875.7v-1.1h5v1.1zM1245 922.8v-129.0h5v129.0zM1250 767.4v-67.7h5v67.7zM1255 820.9v-5.5h5v5.5zM1260 765.5v-63.9h5v63.9zM1265 750.9v-10.1h5v10.1zM1270 760.9v-28.5h5v28.5zM1275 755.8v-7.6h5v7.6zM1280 813.8v-92.4h5v92.4zM1285 758.1v-5.8h5v5.8zM1290 659.8v-5.9h5v5.9zM1295 902.9v-36.4h5v36.4zM1300 921.5v-4.5h5v4.5zM1305 700.9v-105.2h5v105.2zM1310 807.6v-46.5h5v46.5zM1315 864.1v-89.9h5v89.9zM1320 850.2v-22.9h5v22.9zM1325 764.4v-114.9h5v114.9zM1330 784.1v-4.4h5v4.4zM1335 567.1v-8.0h5v8.0zM1340 639.4v-34.0h5v34.0zM1345 907.2v-7.4h5v7.4zM1350 898.1v-59.5h5v59.5zM1355 686.2v-52.4h5v52.4zM1360 869.3v-9.0h5v9.0zM1365 676.1v-13.9h5v13.9zM1370 809.7v-16.1h5v16.1zM1375 648.1v-8.0h5v8.0zM1380 672.5v-63.2h5v63.2zM1385 743.5v-18.4h5v18.4zM1390 619.3v-87.1h5v87.1zM1395 749.9v-47.1h5v47.1zM1400 753.9v-44.8h5v44.8zM1405 830.2v-30.0h5v30.0zM1410 645.9v-82.6h5v82.6zM1415 918.0v-77.1h5v77.1zM1420 571.6v-70.5h5v70.5zM1425 665.8v-4.6h5v4.6zM1430 797.8v-11.8h5v11.8zM1435 811.1v-33.6h5v33.6zM1440 691.6v-54.2h5v54.2zM1445 656.4v-3.3h5v3.3zM1450 703.4v-6.2h5v6.2zM1455 776.1v-72.4h5v72.4zM1460 686.8v-10.0h5v10.0zM1465 766.4v-60.4h5v60.4zM1470 925.0v-9.5h5v9.5zM1475 759.1v-4.5h5v4.5zM1480 884.5v-40.6h5v40.6zM1485 739.2v-6.3h5v6.3zM1490 751.1v-141.5h5v141.5zM1495 754.2v-37.2h5v37.2zM1500 768.7v-16.1h5v16.1zM1505 909.1v-86.4h5v86.4zM1510 799.7v-101.6h5v101.6zM1515 805.6v-114.7h5v114.7zM1520 748.2v-6.7h5v6.7zM1525 870.4v-34.3h5v34.3zM1530 745.4v-39.7h5v39.7zM1535 846.2v-62.1h5v62.1zM1540 782.3v-12.2h5v12.2zM1545 844.6v-7.1h5v7.1zM1550 868.6v-62.4h5v62.4zM1555 844.5v-46.5h5v46.5zM1560 637.0v-5.9h5v5.9zM1565 732.5v-15.3h5v15.3zM1570 701.2v-56.4h5v56.4zM1575 783.1v-72.8h5v72.8zM1580 711.5v-79.0h5v79.0zM1585 866.8v-49.0h5v49.0zM1590 783.0v-6.8h5v6.8zM1595 772.1v-25.5h5v25.5zM1600 607.1v-7.3h5v7.3zM1605 723.5v-5.9h5v5.9zM1610 844.9v-23.6h5v23.6zM1615 674.3v-68.1h5v68.1zM1620 711.8v-78.8h5v78.8zM1625 731.6v-96.1h5v96.1zM1630 667.8v-98.8h5v98.8zM1635 746.0v-6.6h5v6.6zM1640 820.5v-41.0h5v41.0zM1645 719.1v-31.1h5v31.1zM1650 800.6v-5.0h5v5.0zM1655 718.3v-5.6h5v5.6zM1660 657.1v-54.2h5v54.2zM1665 631.0v-2.3h5v2.3zM1670 918.7v-18.6h5v18.6zM1675 871.5v-65.5h5v65.5zM1680 780.1v-43.8h5v43.8zM1685 754.3v-6.7h5v6.7zM1690 873.9v-0.8h5v0.8zM1695 790.9v-19.3h5v19.3zM1700 679.3v-25.1h5v25.1zM1705 848.3v-28.1h5v28.1zM1710 785.2v-1.7h5v1.7zM1715 854.0v-37.5h5v37.5zM1720 820.3v-31.6h5v31.6z"/>
<path fill="#257d35" d="M360 698.2v-4.9h5v4.9zM370 493.7v-8.4h5v8.4zM380 605.1v-13.1h5v13.1zM395 890.7v-16.6h5v16.6zM405 694.2v-13.1h5v13.1zM415 802.3v-1.7h5v1.7zM430 759.5v-11.2h5v11.2zM440 838.0v-17.4h5v17.4zM460 815.8v-1.8h5v1.8zM470 807.1v-9.5h5v9.5zM480 700.4v-79.3h5v79.3zM485 492.8v-5.5h5v5.5zM520 691.1v-12.5h5v12.5zM535 743.7v-11.5h5v11.5zM540 644.1v-4.7h5v4.7zM565 763.1v-7.8h5v7.8zM570 692.5v-0.6h5v0.6zM585 755.7v-9.6h5v9.6zM590 819.1v-2.0h5v2.0zM610 619.9v-7.7h5v7.7zM615 700.3v-10.7h5v10.7zM620 463.9v-1.9h5v1.9zM625 702.7v-7.2h5v7.2zM640 704.5v-6.0h5v6.0zM650 749.1v-0.7h5v0.7zM655 853.1v-6.6h5v6.6zM700 715.8v-9.2h5v9.2zM710 804.0v-5.1h5v5.1zM715 760.4v-2.4h5v2.4zM735 759.1v-6.9h5v6.9zM740 782.5v-7.6h5v7.6zM745 793.7v-64.7h5v64.7zM760 608.4v-2.6h5v2.6zM775 464.9v-6.1h5v6.1zM780 806.1v-3.7h5v3.7zM785 684.0v-10.7h5v10.7zM790 626.9v-12.5h5v12.5zM795 752.4v-12.9h5v12.9zM810 700.7v-15.4h5v15.4zM815 781.9v-2.2h5v2.2zM825 724.1v-5.9h5v5.9zM830 691.7v-6.1h5v6.1zM845 641.7v-9.5h5v9.5zM850 710.2v-4.9h5v4.9zM855 655.2v-8.1h5v8.1zM865 731.7v-2.7h5v2.7zM875 728.0v-12.1h5v12.1zM885 657.2v-5.4h5v5.4zM895 721.0v-14.1h5v14.1zM900 566.8v-1.5h5v1.5zM905 688.1v-1.2h5v1.2zM920 723.2v-1.8h5v1.8zM925 836.9v-10.6h5v10.6zM930 884.4v-15.4h5v15.4zM945 634.0v-9.0h5v9.0zM970 693.9v-6.6h5v6.6zM985 705.0v-7.2h5v7.2zM990 699.9v-3.7h5v3.7zM995 702.9v-3.0h5v3.0zM1000 660.7v-9.7h5v9.7zM1005 718.0v-8.5h5v8.5zM1010 818.6v-6.7h5v6.7zM1020 814.5v-7.6h5v7.6zM1030 875.2v-5.2h5v5.2zM1040 617.1v-6.0h5v6.0zM1045 770.5v-0.7h5v0.7zM1055 841.5v-7.8h5v7.8zM1075 760.8v-0.9h5v0.9zM1080 803.4v-2.8h5v2.8zM1085 923.5v-47.5h5v47.5zM1105 634.7v-6.0h5v6.0zM1120 809.3v-48.5h5v48.5zM1130 825.2v-20.3h5v20.3zM1160 777.0v-11.3h5v11.3zM1165 674.5v-40.0h5v40.0zM1175 765.1v-32.5h5v32.5zM1185 784.1v-17.4h5v17.4zM1195 713.8v-9.5h5v9.5zM1210 786.2v-58.4h5v58.4zM1220 847.5v-31.3h5v31.3zM1225 768.0v-20.1h5v20.1zM1240 874.6v-39.4h5v39.4zM1245 793.9v-25.9h5v25.9zM1255 815.4v-23.5h5v23.5zM1260 701.6v-11.8h5v11.8zM1265 740.8v-50.8h5v50.8zM1270 732.5v-17.5h5v17.5zM1290 654.0v-32.1h5v32.1zM1295 866.6v-22.3h5v22.3zM1310 761.1v-33.8h5v33.8zM1320 827.3v-2.2h5v2.2zM1325 649.5v-35.6h5v35.6zM1345 899.8v-24.9h5v24.9zM1360 860.3v-15.4h5v15.4zM1385 725.1v-22.6h5v22.6zM1410 563.3v-4.4h5v4.4zM1430 786.0v-4.0h5v4.0zM1445 653.1v-33.4h5v33.4zM1450 697.2v-39.6h5v39.6zM1455 703.7v-34.4h5v34.4zM1465 705.9v-6.2h5v6.2zM1475 754.6v-12.4h5v12.4zM1500 752.6v-6.1h5v6.1zM1530 705.8v-28.3h5v28.3zM1540 770.0v-26.8h5v26.8zM1545 837.6v-3.2h5v3.2zM1550 806.3v-20.7h5v20.7zM1560 631.1v-22.0h5v22.0zM1590 776.2v-14.9h5v14.9zM1595 746.6v-39.3h5v39.3zM1600 599.8v-36.4h5v36.4zM1610 821.3v-0.9h5v0.9zM1630 569.0v-41.7h5v41.7zM1650 795.6v-2.5h5v2.5zM1655 712.7v-1.9h5v1.9zM1665 628.7v-18.7h5v18.7zM1670 900.1v-22.7h5v22.7zM1680 736.4v-52.2h5v52.2zM1700 654.2v-17.1h5v17.1zM1715 816.6v-25.2h5v25.2zM1720 788.8v-55.1h5v55.1z"/>
<path fill="#257d4d" d="M355 763.0v-120.3h5v120.3zM360 693.3v-76.0h5v76.0zM365 749.9v-118.8h5v118.8zM370 485.3v-38.7h5v38.7zM375 640.5v-148.3h5v148.3zM380 591.9v-176.7h5v176.7zM385 731.6v-22.3h5v22.3zM390 741.2v-60.4h5v60.4zM395 874.1v-85.9h5v85.9zM400 725.9v-104.9h5v104.9zM405 681.1v-91.2h5v91.2zM410 566.5v-91.9h5v91.9zM415 800.6v-122.1h5v122.1zM420 740.6v-29.0h5v29.0zM425 590.1v-50.5h5v50.5zM430 748.3v-44.5h5v44.5zM435 489.5v-23.4h5v23.4zM440 820.6v-18.4h5v18.4zM445 844.8v-168.0h5v168.0zM450 553.3v-120.0h5v120.0zM455 728.8v-129.9h5v129.9zM460 814.0v-117.4h5v117.4zM465 665.8v-126.8h5v126.8zM470 797.5v-23.4h5v23.4zM475 720.3v-177.2h5v177.2zM480 621.1v-100.4h5v100.4zM485 487.3v-5.8h5v5.8zM490 763.0v-195.8h5v195.8zM495 643.3v-42.0h5v42.0zM500 796.5v-185.3h5v185.3zM505 642.1v-34.6h5v34.6zM510 679.9v-3.0h5v3.0zM515 756.0v-118.3h5v118.3zM520 678.7v-48.2h5v48.2zM525 648.2v-81.1h5v81.1zM530 724.0v-103.7h5v103.7zM535 732.2v-168.1h5v168.1zM540 639.4v-60.6h5v60.6zM545 799.6v-226.2h5v226.2zM550 666.8v-139.8h5v139.8zM555 816.5v-17.7h5v17.7zM560 729.5v-150.6h5v150.6zM565 755.4v-203.2h5v203.2zM570 691.9v-77.9h5v77.9zM575 694.2v-116.6h5v116.6zM580 826.2v-62.0h5v62.0zM585 746.1v-21.0h5v21.0zM590 817.1v-142.7h5v142.7zM595 619.0v-0.3h5v0.3zM600 853.4v-203.6h5v203.6zM605 586.5v-29.1h5v29.1zM610 612.2v-90.2h5v90.2zM615 689.6v-2.1h5v2.1zM620 462.0v-43.6h5v43.6zM625 695.4v-136.2h5v136.2zM630 921.4v-48.7h5v48.7zM635 847.9v-29.0h5v29.0zM640 698.5v-145.0h5v145.0zM645 652.7v-49.1h5v49.1zM650 748.4v-23.2h5v23.2zM655 846.5v-107.8h5v107.8zM660 637.6v-90.1h5v90.1zM665 700.3v-109.4h5v109.4zM670 616.7v-63.1h5v63.1zM675 776.5v-197.9h5v197.9zM680 828.3v-82.2h5v82.2zM685 815.3v-127.8h5v127.8zM690 599.5v-18.6h5v18.6zM695 763.1v-90.7h5v90.7zM700 706.7v-43.3h5v43.3zM705 714.9v-24.1h5v24.1zM710 798.9v-69.1h5v69.1zM715 758.0v-186.1h5v186.1zM720 903.0v-134.4h5v134.4zM725 664.1v-8.8h5v8.8zM730 686.4v-78.1h5v78.1zM735 752.2v-126.8h5v126.8zM740 774.9v-74.6h5v74.6zM745 729.0v-54.2h5v54.2zM750 615.7v-4.9h5v4.9zM755 621.5v-17.9h5v17.9zM760 605.8v-128.7h5v128.7zM765 639.3v-140.9h5v140.9zM770 757.0v-93.5h5v93.5zM775 458.9v-40.7h5v40.7zM780 802.3v-106.7h5v106.7zM785 673.3v-38.5h5v38.5zM790 614.4v-74.3h5v74.3zM795 739.5v-152.3h5v152.3zM800 741.5v-154.7h5v154.7zM805 732.9v-80.5h5v80.5zM810 685.3v-44.2h5v44.2zM815 779.7v-120.9h5v120.9zM820 662.6v-153.0h5v153.0zM825 718.2v-108.0h5v108.0zM830 685.6v-41.3h5v41.3zM835 751.5v-152.7h5v152.7zM840 737.5v-77.7h5v77.7zM845 632.3v-63.2h5v63.2zM850 705.3v-27.0h5v27.0zM855 647.1v-52.4h5v52.4zM860 737.5v-139.2h5v139.2zM865 729.0v-23.6h5v23.6zM870 805.4v-164.5h5v164.5zM875 715.9v-19.4h5v19.4zM880 768.7v-32.7h5v32.7zM885 651.8v-35.8h5v35.8zM895 706.9v-71.5h5v71.5zM900 565.3v-39.5h5v39.5zM905 686.9v-109.1h5v109.1zM910 772.1v-1.8h5v1.8zM915 722.4v-111.9h5v111.9zM920 721.4v-102.5h5v102.5zM925 826.3v-175.8h5v175.8zM930 869.0v-170.6h5v170.6zM935 748.2v-116.7h5v116.7zM940 774.3v-104.4h5v104.4zM945 625.0v-8.9h5v8.9zM950 637.2v-49.9h5v49.9zM955 769.5v-100.5h5v100.5zM960 578.5v-25.9h5v25.9zM965 808.2v-233.9h5v233.9zM970 687.3v-129.5h5v129.5zM975 683.7v-179.7h5v179.7zM980 649.6v-166.1h5v166.1zM985 697.9v-135.1h5v135.1zM990 696.2v-46.5h5v46.5zM995 699.9v-53.2h5v53.2zM1000 651.1v-16.0h5v16.0zM1005 709.4v-81.5h5v81.5zM1010 811.9v-99.9h5v99.9zM1015 789.1v-117.4h5v117.4zM1020 806.9v-204.1h5v204.1zM1025 730.6v-125.6h5v125.6zM1030 870.1v-107.7h5v107.7zM1035 642.6v-32.0h5v32.0zM1040 611.0v-54.2h5v54.2zM1045 769.8v-102.0h5v102.0zM1050 839.0v-13.0h5v13.0zM1055 833.7v-48.9h5v48.9zM1060 759.4v-101.7h5v101.7zM1065 773.8v-146.3h5v146.3zM1070 855.0v-58.4h5v58.4zM1075 759.9v-15.8h5v15.8zM1080 800.6v-14.6h5v14.6zM1085 876.0v-47.3h5v47.3zM1090 615.5v-58.6h5v58.6zM1095 729.9v-19.7h5v19.7zM1115 625.8v-80.7h5v80.7zM1125 932.4v-155.6h5v155.6zM1130 804.9v-112.1h5v112.1zM1145 730.0v-1.5h5v1.5zM1150 755.6v-8.6h5v8.6zM1155 791.9v-142.1h5v142.1zM1160 765.7v-2.7h5v2.7zM1170 885.4v-135.2h5v135.2zM1175 732.6v-46.2h5v46.2zM1180 677.4v-11.3h5v11.3zM1185 766.7v-75.9h5v75.9zM1195 704.3v-7.3h5v7.3zM1200 813.9v-103.0h5v103.0zM1205 854.1v-59.2h5v59.2zM1210 727.8v-4.2h5v4.2zM1220 816.3v-30.4h5v30.4zM1235 771.0v-22.2h5v22.2zM1240 835.2v-140.9h5v140.9zM1250 699.8v-133.9h5v133.9zM1255 791.9v-102.6h5v102.6zM1260 689.7v-127.3h5v127.3zM1265 690.1v-61.8h5v61.8zM1270 715.0v-19.8h5v19.8zM1280 721.4v-17.1h5v17.1zM1295 844.2v-34.9h5v34.9zM1300 917.1v-79.2h5v79.2zM1305 595.6v-14.5h5v14.5zM1315 774.2v-35.0h5v35.0zM1320 825.1v-68.7h5v68.7zM1335 559.1v-39.0h5v39.0zM1340 605.4v-1.0h5v1.0zM1345 874.9v-95.4h5v95.4zM1350 838.7v-78.4h5v78.4zM1355 633.8v-44.9h5v44.9zM1365 662.3v-81.5h5v81.5zM1375 640.1v-20.4h5v20.4zM1380 609.3v-9.9h5v9.9zM1390 532.2v-9.5h5v9.5zM1395 702.8v-94.7h5v94.7zM1405 800.2v-45.5h5v45.5zM1415 840.9v-39.7h5v39.7zM1430 782.1v-52.6h5v52.6zM1435 777.5v-113.2h5v113.2zM1445 619.7v-88.5h5v88.5zM1450 657.6v-199.7h5v199.7zM1455 669.3v-35.7h5v35.7zM1460 676.8v-1.1h5v1.1zM1465 699.7v-128.0h5v128.0zM1470 915.5v-116.5h5v116.5zM1475 742.2v-12.6h5v12.6zM1485 733.0v-84.7h5v84.7zM1490 609.6v-52.2h5v52.2zM1495 717.0v-141.6h5v141.6zM1505 822.7v-60.4h5v60.4zM1510 698.0v-36.6h5v36.6zM1515 690.9v-38.4h5v38.4zM1530 677.4v-4.3h5v4.3zM1535 784.1v-82.7h5v82.7zM1540 743.2v-70.1h5v70.1zM1545 834.4v-2.8h5v2.8zM1555 798.0v-9.0h5v9.0zM1560 609.1v-11.1h5v11.1zM1565 717.2v-129.2h5v129.2zM1570 644.8v-32.6h5v32.6zM1575 710.3v-284.7h5v284.7zM1580 632.5v-8.1h5v8.1zM1585 817.8v-13.9h5v13.9zM1595 707.3v-84.0h5v84.0zM1600 563.4v-9.2h5v9.2zM1605 717.6v-114.4h5v114.4zM1610 820.4v-25.9h5v25.9zM1615 606.2v-2.4h5v2.4zM1620 633.0v-72.2h5v72.2zM1635 739.4v-81.3h5v81.3zM1640 779.5v-34.5h5v34.5zM1645 688.0v-47.3h5v47.3zM1650 793.1v-5.9h5v5.9zM1655 710.8v-18.7h5v18.7zM1665 610.0v-49.4h5v49.4zM1670 877.4v-1.6h5v1.6zM1675 806.0v-70.7h5v70.7zM1680 684.2v-14.0h5v14.0zM1690 873.1v-72.2h5v72.2zM1695 771.6v-54.7h5v54.7zM1700 637.1v-4.9h5v4.9zM1705 820.2v-19.4h5v19.4zM1710 783.5v-101.6h5v101.6zM1715 791.4v-161.3h5v161.3z"/>
<path fill="#257d65" d="M375 492.2v-11.8h5v11.8zM395 788.2v-10.6h5v10.6zM415 678.5v-5.5h5v5.5zM445 676.7v-1.7h5v1.7zM455 598.8v-2.8h5v2.8zM470 774.1v-15.3h5v15.3zM495 601.3v-16.2h5v16.2zM550 527.0v-11.4h5v11.4zM580 764.2v-11.8h5v11.8zM665 590.9v-8.2h5v8.2zM705 690.9v-6.8h5v6.8zM715 571.9v-16.9h5v16.9zM730 608.3v-12.9h5v12.9zM755 603.7v-12.4h5v12.4zM775 418.2v-16.5h5v16.5zM895 635.4v-8.4h5v8.4zM910 770.3v-30.1h5v30.1zM930 698.4v-1.1h5v1.1zM970 557.8v-7.9h5v7.9zM1020 602.8v-21.9h5v21.9zM1060 657.7v-7.8h5v7.8zM1110 538.9v-4.5h5v4.5zM1125 776.8v-44.6h5v44.6zM1130 692.8v-6.3h5v6.3zM1145 728.5v-18.5h5v18.5zM1200 710.9v-43.6h5v43.6zM1230 631.3v-28.8h5v28.8zM1275 748.2v-46.0h5v46.0zM1370 793.6v-26.1h5v26.1zM1375 619.7v-43.0h5v43.0zM1460 675.7v-5.2h5v5.2zM1470 799.0v-16.3h5v16.3zM1480 843.9v-17.2h5v17.2zM1485 648.3v-21.5h5v21.5zM1490 557.4v-34.1h5v34.1zM1515 652.5v-22.0h5v22.0zM1530 673.1v-18.3h5v18.3zM1540 673.1v-1.6h5v1.6zM1565 588.1v-11.3h5v11.3zM1620 560.8v-25.5h5v25.5zM1640 745.0v-2.0h5v2.0zM1650 787.2v-35.1h5v35.1zM1655 692.0v-20.6h5v20.6zM1670 875.9v-23.6h5v23.6z"/>
<path fill="#257d7d" d="M355 642.7v-10.3h5v10.3zM360 617.3v-5.5h5v5.5zM365 631.1v-42.7h5v42.7zM370 446.6v-60.5h5v60.5zM375 480.4v-9.5h5v9.5zM380 415.2v-44.5h5v44.5zM385 709.3v-215.8h5v215.8zM390 680.8v-78.8h5v78.8zM395 777.6v-173.5h5v173.5zM400 620.9v-64.3h5v64.3zM405 589.9v-102.9h5v102.9zM410 474.6v-1.3h5v1.3zM415 673.0v-38.5h5v38.5zM420 711.6v-58.1h5v58.1zM425 539.6v-1.4h5v1.4zM430 703.8v-146.8h5v146.8zM435 466.1v-22.6h5v22.6zM440 802.2v-50.7h5v50.7zM445 675.0v-71.1h5v71.1zM450 433.2v-25.7h5v25.7zM455 596.1v-51.9h5v51.9zM460 696.6v-71.6h5v71.6zM465 539.0v-64.8h5v64.8zM470 758.8v-111.3h5v111.3zM475 543.1v-1.8h5v1.8zM480 520.7v-38.0h5v38.0zM485 481.5v-36.1h5v36.1zM490 567.2v-17.3h5v17.3zM495 585.2v-9.4h5v9.4zM500 611.2v-92.8h5v92.8zM505 607.5v-69.0h5v69.0zM510 676.9v-66.1h5v66.1zM515 637.6v-125.1h5v125.1zM520 630.4v-119.3h5v119.3zM525 567.2v-113.8h5v113.8zM530 620.3v-17.7h5v17.7zM535 564.1v-34.0h5v34.0zM540 578.8v-29.2h5v29.2zM545 573.5v-13.9h5v13.9zM550 515.6v-7.8h5v7.8zM555 798.8v-68.2h5v68.2zM560 578.9v-77.4h5v77.4zM565 552.2v-8.1h5v8.1zM570 614.0v-21.4h5v21.4zM575 577.6v-18.1h5v18.1zM580 752.4v-9.6h5v9.6zM585 725.1v-128.2h5v128.2zM590 674.4v-137.5h5v137.5zM595 618.8v-10.9h5v10.9zM600 649.8v-10.7h5v10.7zM605 557.3v-72.4h5v72.4zM610 521.9v-46.0h5v46.0zM615 687.5v-16.9h5v16.9zM620 418.3v-56.2h5v56.2zM625 559.2v-80.1h5v80.1zM630 872.7v-96.5h5v96.5zM635 818.9v-162.0h5v162.0zM640 553.5v-32.0h5v32.0zM645 603.6v-90.5h5v90.5zM650 725.2v-14.3h5v14.3zM655 738.6v-51.7h5v51.7zM660 547.5v-31.5h5v31.5zM665 582.7v-39.9h5v39.9zM670 553.6v-35.4h5v35.4zM675 578.6v-55.0h5v55.0zM680 746.1v-59.4h5v59.4zM685 687.5v-10.3h5v10.3zM690 580.9v-4.1h5v4.1zM695 672.5v-106.9h5v106.9zM700 663.4v-36.0h5v36.0zM705 684.1v-55.2h5v55.2zM710 729.8v-93.2h5v93.2zM715 554.9v-41.1h5v41.1zM720 768.5v-97.3h5v97.3zM725 655.3v-60.5h5v60.5zM730 595.4v-67.7h5v67.7zM735 625.4v-16.1h5v16.1zM740 700.3v-79.3h5v79.3zM745 674.8v-53.9h5v53.9zM750 610.8v-12.3h5v12.3zM755 591.3v-132.3h5v132.3zM760 477.2v-26.5h5v26.5zM765 498.3v-44.0h5v44.0zM770 663.5v-115.2h5v115.2zM775 401.7v-1.1h5v1.1zM780 695.7v-17.5h5v17.5zM785 634.7v-94.2h5v94.2zM790 540.2v-42.4h5v42.4zM795 587.1v-10.9h5v10.9zM800 586.9v-21.3h5v21.3zM805 652.4v-8.8h5v8.8zM810 641.2v-65.8h5v65.8zM815 658.8v-74.9h5v74.9zM820 509.6v-5.4h5v5.4zM825 610.2v-38.4h5v38.4zM830 644.3v-50.7h5v50.7zM835 598.8v-2.8h5v2.8zM840 659.8v-80.2h5v80.2zM845 569.0v-19.7h5v19.7zM850 678.3v-53.9h5v53.9zM855 594.7v-31.5h5v31.5zM860 598.3v-19.6h5v19.6zM865 705.4v-51.6h5v51.6zM870 640.9v-12.2h5v12.2zM875 696.5v-60.7h5v60.7zM880 736.0v-74.9h5v74.9zM885 616.0v-166.4h5v166.4zM890 744.5v-86.7h5v86.7zM895 626.9v-66.1h5v66.1zM900 525.8v-35.8h5v35.8zM905 577.8v-54.6h5v54.6zM910 740.2v-90.1h5v90.1zM915 610.6v-19.4h5v19.4zM920 618.9v-64.9h5v64.9zM925 650.5v-42.9h5v42.9zM930 697.2v-143.2h5v143.2zM935 631.5v-57.6h5v57.6zM940 669.9v-6.4h5v6.4zM945 616.0v-37.2h5v37.2zM950 587.2v-109.4h5v109.4zM955 669.0v-68.7h5v68.7zM960 552.6v-42.2h5v42.2zM965 574.4v-9.9h5v9.9zM970 549.9v-52.5h5v52.5zM975 504.0v-45.2h5v45.2zM980 483.5v-46.8h5v46.8zM985 562.7v-8.0h5v8.0zM990 649.7v-1.3h5v1.3zM995 646.8v-19.1h5v19.1zM1000 635.1v-12.5h5v12.5zM1005 627.9v-109.2h5v109.2zM1010 712.1v-145.3h5v145.3zM1015 671.7v-56.3h5v56.3zM1020 580.9v-2.9h5v2.9zM1025 605.0v-8.0h5v8.0zM1030 762.4v-50.4h5v50.4zM1035 610.6v-8.1h5v8.1zM1040 556.8v-30.1h5v30.1zM1045 667.8v-18.3h5v18.3zM1050 826.0v-178.2h5v178.2zM1055 784.8v-21.3h5v21.3zM1060 649.9v-13.6h5v13.6zM1065 627.5v-40.3h5v40.3zM1070 796.6v-51.4h5v51.4zM1075 744.1v-36.6h5v36.6zM1080 786.1v-38.4h5v38.4zM1085 828.7v-74.4h5v74.4zM1090 556.9v-89.1h5v89.1zM1095 710.2v-50.3h5v50.3zM1100 695.0v-107.4h5v107.4zM1105 628.7v-113.3h5v113.3zM1110 534.5v-15.7h5v15.7zM1115 545.0v-70.9h5v70.9zM1120 760.9v-78.8h5v78.8zM1125 732.2v-82.6h5v82.6zM1130 686.5v-65.0h5v65.0zM1135 711.8v-89.7h5v89.7zM1140 582.9v-55.8h5v55.8zM1145 709.9v-33.4h5v33.4zM1150 747.1v-58.5h5v58.5zM1155 649.9v-81.6h5v81.6zM1160 763.0v-33.4h5v33.4zM1165 634.5v-27.0h5v27.0zM1170 750.3v-108.2h5v108.2zM1175 686.4v-160.8h5v160.8zM1180 666.2v-35.5h5v35.5zM1185 690.8v-56.7h5v56.7zM1190 761.5v-167.6h5v167.6zM1195 697.1v-57.8h5v57.8zM1200 667.4v-88.4h5v88.4zM1205 794.9v-27.5h5v27.5zM1210 723.6v-17.6h5v17.6zM1215 812.9v-88.1h5v88.1zM1220 785.8v-38.1h5v38.1zM1225 747.9v-50.4h5v50.4zM1230 602.5v-90.3h5v90.3zM1235 748.8v-80.6h5v80.6zM1240 694.3v-21.6h5v21.6zM1245 768.0v-16.0h5v16.0zM1250 565.8v-71.7h5v71.7zM1255 689.3v-67.9h5v67.9zM1260 562.4v-19.2h5v19.2zM1265 628.3v-84.9h5v84.9zM1270 695.3v-12.7h5v12.7zM1275 702.2v-59.8h5v59.8zM1280 704.3v-38.6h5v38.6zM1285 752.3v-80.4h5v80.4zM1290 621.9v-34.6h5v34.6zM1295 809.4v-64.4h5v64.4zM1300 837.9v-132.1h5v132.1zM1305 581.1v-77.9h5v77.9zM1310 727.3v-21.9h5v21.9zM1315 739.2v-114.6h5v114.6zM1320 756.5v-93.4h5v93.4zM1325 613.9v-46.6h5v46.6zM1330 779.7v-15.3h5v15.3zM1335 520.1v-41.5h5v41.5zM1340 604.5v-12.9h5v12.9zM1345 779.5v-69.1h5v69.1zM1350 760.3v-37.1h5v37.1zM1355 588.8v-5.6h5v5.6zM1360 844.9v-60.7h5v60.7zM1365 580.7v-52.4h5v52.4zM1370 767.5v-12.8h5v12.8zM1375 576.7v-18.2h5v18.2zM1380 599.4v-38.6h5v38.6zM1385 702.6v-32.4h5v32.4zM1390 522.7v-14.0h5v14.0zM1395 608.1v-10.7h5v10.7zM1400 709.1v-80.5h5v80.5zM1405 754.6v-104.7h5v104.7zM1410 558.9v-85.2h5v85.2zM1415 801.2v-81.4h5v81.4zM1420 501.1v-56.0h5v56.0zM1425 661.2v-145.3h5v145.3zM1430 729.5v-120.4h5v120.4zM1435 664.3v-58.3h5v58.3zM1440 637.5v-99.1h5v99.1zM1445 531.3v-164.8h5v164.8zM1450 457.9v-17.7h5v17.7zM1455 633.6v-20.6h5v20.6zM1460 670.4v-61.3h5v61.3zM1465 571.7v-50.6h5v50.6zM1470 782.7v-159.1h5v159.1zM1475 729.6v-106.5h5v106.5zM1480 826.6v-62.2h5v62.2zM1485 626.8v-105.6h5v105.6zM1490 523.3v-56.9h5v56.9zM1495 575.5v-121.5h5v121.5zM1500 746.5v-122.8h5v122.8zM1505 762.4v-13.8h5v13.8zM1510 661.5v-100.6h5v100.6zM1515 630.5v-113.5h5v113.5zM1520 741.5v-95.7h5v95.7zM1525 836.1v-244.5h5v244.5zM1530 654.8v-109.6h5v109.6zM1535 701.4v-175.3h5v175.3zM1540 671.5v-53.4h5v53.4zM1545 831.6v-97.5h5v97.5zM1550 785.6v-98.5h5v98.5zM1555 789.0v-46.3h5v46.3zM1560 598.0v-111.4h5v111.4zM1565 576.7v-33.6h5v33.6zM1570 612.2v-3.5h5v3.5zM1575 425.5v-67.0h5v67.0zM1580 624.4v-66.9h5v66.9zM1585 804.0v-90.9h5v90.9zM1590 761.3v-58.8h5v58.8zM1595 623.3v-10.9h5v10.9zM1600 554.2v-45.0h5v45.0zM1605 603.2v-58.1h5v58.1zM1610 794.5v-97.1h5v97.1zM1615 603.8v-56.7h5v56.7zM1620 535.3v-26.6h5v26.6zM1625 635.5v-68.9h5v68.9zM1630 527.3v-14.1h5v14.1zM1635 658.1v-128.0h5v128.0zM1640 743.0v-9.3h5v9.3zM1645 640.7v-16.4h5v16.4zM1650 752.0v-58.1h5v58.1zM1655 671.5v-131.4h5v131.4zM1660 602.9v-16.2h5v16.2zM1665 560.7v-38.5h5v38.5zM1670 852.3v-79.9h5v79.9zM1675 735.3v-66.1h5v66.1zM1680 670.2v-20.5h5v20.5zM1685 747.6v-82.0h5v82.0zM1690 800.9v-60.1h5v60.1zM1695 716.8v-71.9h5v71.9zM1700 632.1v-56.8h5v56.8zM1705 800.9v-127.2h5v127.2zM1710 681.9v-142.0h5v142.0zM1715 630.0v-4.6h5v4.6zM1720 733.7v-48.4h5v48.4z"/>
<path fill="#25657d" d="M355 632.4v-9.3h5v9.3zM385 493.4v-9.6h5v9.6zM390 602.0v-11.2h5v11.2zM395 604.1v-68.6h5v68.6zM400 556.6v-51.1h5v51.1zM405 487.0v-5.0h5v5.0zM410 473.3v-6.1h5v6.1zM415 634.5v-17.1h5v17.1zM420 653.5v-30.2h5v30.2zM425 538.2v-13.4h5v13.4zM430 557.0v-18.0h5v18.0zM440 751.4v-10.4h5v10.4zM445 603.9v-1.2h5v1.2zM455 544.2v-24.6h5v24.6zM460 625.0v-8.6h5v8.6zM465 474.2v-22.6h5v22.6zM480 482.7v-0.8h5v0.8zM485 445.4v-26.4h5v26.4zM490 549.9v-53.6h5v53.6zM495 575.8v-9.0h5v9.0zM500 518.5v-64.6h5v64.6zM510 610.8v-5.7h5v5.7zM515 512.6v-7.4h5v7.4zM520 511.2v-27.9h5v27.9zM535 530.1v-2.9h5v2.9zM540 549.5v-14.6h5v14.6zM545 559.6v-30.9h5v30.9zM550 507.8v-17.3h5v17.3zM555 730.6v-26.5h5v26.5zM560 501.4v-4.5h5v4.5zM565 544.1v-53.2h5v53.2zM570 592.6v-34.2h5v34.2zM575 559.5v-34.4h5v34.4zM580 742.9v-41.5h5v41.5zM590 536.8v-16.9h5v16.9zM595 607.8v-19.1h5v19.1zM615 670.6v-30.0h5v30.0zM625 479.2v-40.8h5v40.8zM630 776.2v-5.4h5v5.4zM640 521.5v-5.3h5v5.3zM645 513.1v-21.7h5v21.7zM650 710.9v-73.0h5v73.0zM660 516.0v-28.0h5v28.0zM670 518.2v-5.3h5v5.3zM675 523.7v-33.5h5v33.5zM680 686.7v-21.4h5v21.4zM685 677.2v-45.4h5v45.4zM690 576.9v-7.1h5v7.1zM695 565.5v-2.3h5v2.3zM700 627.4v-8.6h5v8.6zM705 628.8v-20.8h5v20.8zM710 636.6v-15.7h5v15.7zM715 513.8v-5.0h5v5.0zM720 671.2v-28.6h5v28.6zM725 594.8v-6.8h5v6.8zM730 527.7v-12.7h5v12.7zM735 609.3v-32.3h5v32.3zM740 621.0v-30.1h5v30.1zM745 621.0v-30.1h5v30.1zM765 454.3v-4.8h5v4.8zM775 400.7v-34.0h5v34.0zM780 678.2v-21.7h5v21.7zM785 540.5v-4.0h5v4.0zM790 497.8v-9.7h5v9.7zM795 576.2v-10.1h5v10.1zM805 643.6v-59.2h5v59.2zM815 584.0v-7.5h5v7.5zM820 504.2v-49.9h5v49.9zM825 571.9v-29.3h5v29.3zM830 593.5v-4.2h5v4.2zM835 595.9v-11.8h5v11.8zM840 579.6v-51.2h5v51.2zM845 549.4v-8.1h5v8.1zM850 624.4v-0.5h5v0.5zM860 578.7v-14.0h5v14.0zM865 653.9v-7.7h5v7.7zM870 628.8v-3.7h5v3.7zM875 635.9v-0.8h5v0.8zM880 661.1v-1.1h5v1.1zM885 449.7v-42.0h5v42.0zM890 657.8v-1.3h5v1.3zM895 560.8v-28.6h5v28.6zM900 490.0v-6.3h5v6.3zM905 523.2v-14.3h5v14.3zM920 554.0v-45.3h5v45.3zM925 607.5v-1.2h5v1.2zM930 554.0v-61.5h5v61.5zM935 573.9v-5.7h5v5.7zM940 663.5v-5.9h5v5.9zM950 477.8v-22.5h5v22.5zM955 600.3v-4.4h5v4.4zM960 510.4v-52.8h5v52.8zM965 564.5v-22.2h5v22.2zM970 497.4v-1.4h5v1.4zM975 458.7v-15.8h5v15.8zM980 436.7v-47.6h5v47.6zM990 648.4v-70.9h5v70.9zM995 627.7v-27.4h5v27.4zM1015 615.4v-30.0h5v30.0zM1025 597.0v-3.5h5v3.5zM1030 711.9v-23.9h5v23.9zM1035 602.5v-39.7h5v39.7zM1040 526.7v-9.1h5v9.1zM1050 647.8v-27.8h5v27.8zM1055 763.5v-49.0h5v49.0zM1060 636.3v-67.3h5v67.3zM1065 587.2v-8.1h5v8.1zM1075 707.5v-37.7h5v37.7zM1080 747.6v-0.5h5v0.5zM1085 754.3v-26.0h5v26.0zM1090 467.9v-0.8h5v0.8zM1095 659.8v-20.7h5v20.7zM1100 587.6v-33.9h5v33.9zM1105 515.4v-16.2h5v16.2zM1110 518.8v-5.4h5v5.4zM1120 682.0v-32.2h5v32.2zM1125 649.6v-4.0h5v4.0zM1130 621.5v-25.9h5v25.9zM1135 622.0v-16.2h5v16.2zM1140 527.1v-16.1h5v16.1zM1150 688.5v-33.8h5v33.8zM1155 568.3v-16.9h5v16.9zM1160 729.6v-8.5h5v8.5zM1165 607.5v-1.6h5v1.6zM1170 642.0v-18.0h5v18.0zM1175 525.6v-0.4h5v0.4zM1185 634.0v-19.9h5v19.9zM1190 594.0v-35.6h5v35.6zM1200 578.9v-50.5h5v50.5zM1205 767.4v-8.8h5v8.8zM1210 706.0v-1.7h5v1.7zM1215 724.8v-17.5h5v17.5zM1220 747.7v-15.7h5v15.7zM1225 697.5v-21.6h5v21.6zM1235 668.2v-34.1h5v34.1zM1240 672.7v-26.4h5v26.4zM1245 752.0v-25.3h5v25.3zM1255 621.4v-21.9h5v21.9zM1260 543.2v-0.6h5v0.6zM1265 543.4v-15.1h5v15.1zM1270 682.6v-53.0h5v53.0zM1275 642.4v-24.3h5v24.3zM1290 587.3v-49.8h5v49.8zM1295 744.9v-15.7h5v15.7zM1300 705.8v-3.0h5v3.0zM1310 705.4v-13.4h5v13.4zM1315 624.6v-21.8h5v21.8zM1320 663.1v-17.3h5v17.3zM1325 567.3v-21.2h5v21.2zM1330 764.5v-1.9h5v1.9zM1350 723.2v-18.3h5v18.3zM1355 583.2v-5.8h5v5.8zM1360 784.2v-25.8h5v25.8zM1375 558.4v-36.8h5v36.8zM1380 560.8v-2.4h5v2.4zM1385 670.2v-27.0h5v27.0zM1390 508.7v-1.8h5v1.8zM1395 597.5v-10.5h5v10.5zM1400 628.6v-24.6h5v24.6zM1405 650.0v-64.6h5v64.6zM1410 473.7v-3.1h5v3.1zM1415 719.8v-22.1h5v22.1zM1420 445.1v-17.8h5v17.8zM1425 515.9v-3.1h5v3.1zM1435 606.0v-44.8h5v44.8zM1455 612.9v-2.6h5v2.6zM1460 609.1v-19.7h5v19.7zM1465 521.1v-48.9h5v48.9zM1470 623.7v-3.0h5v3.0zM1480 764.4v-33.9h5v33.9zM1490 466.3v-11.5h5v11.5zM1500 623.7v-13.7h5v13.7zM1505 748.6v-1.7h5v1.7zM1510 560.9v-5.0h5v5.0zM1525 591.6v-2.4h5v2.4zM1530 545.2v-5.0h5v5.0zM1535 526.1v-4.4h5v4.4zM1540 618.1v-44.6h5v44.6zM1545 734.0v-35.5h5v35.5zM1550 687.0v-19.6h5v19.6zM1555 742.7v-19.2h5v19.2zM1560 486.6v-3.7h5v3.7zM1565 543.1v-14.9h5v14.9zM1570 608.7v-23.7h5v23.7zM1580 557.5v-0.7h5v0.7zM1585 713.1v-4.0h5v4.0zM1590 702.5v-14.8h5v14.8zM1595 612.4v-12.5h5v12.5zM1605 545.1v-30.3h5v30.3zM1610 697.5v-29.4h5v29.4zM1615 547.1v-2.6h5v2.6zM1625 566.7v-8.6h5v8.6zM1635 530.1v-2.8h5v2.8zM1640 733.7v-2.3h5v2.3zM1645 624.3v-21.0h5v21.0zM1650 694.0v-4.7h5v4.7zM1665 522.1v-5.7h5v5.7zM1670 772.4v-49.6h5v49.6zM1675 669.2v-21.6h5v21.6zM1680 649.7v-18.5h5v18.5zM1695 644.9v-12.7h5v12.7zM1700 575.4v-25.5h5v25.5zM1705 673.7v-3.0h5v3.0zM1710 540.0v-34.1h5v34.1zM1715 625.4v-32.2h5v32.2zM1720 685.3v-18.7h5v18.7z"/>
<path fill="#254d7d" d="M355 623.2v-42.6h5v42.6zM365 588.3v-12.9h5v12.9zM380 370.7v-14.0h5v14.0zM390 590.8v-23.3h5v23.3zM405 482.0v-23.8h5v23.8zM415 617.4v-0.4h5v0.4zM420 623.3v-27.3h5v27.3zM430 539.0v-20.8h5v20.8zM440 741.0v-34.8h5v34.8zM455 519.6v-22.0h5v22.0zM485 419.0v-10.4h5v10.4zM490 496.3v-41.2h5v41.2zM495 566.8v-11.3h5v11.3zM530 602.6v-18.1h5v18.1zM540 534.9v-11.2h5v11.2zM545 528.7v-10.8h5v10.8zM550 490.5v-10.3h5v10.3zM560 496.9v-25.9h5v25.9zM565 490.9v-31.7h5v31.7zM570 558.4v-37.4h5v37.4zM575 525.1v-25.3h5v25.3zM580 701.4v-36.8h5v36.8zM600 639.1v-11.6h5v11.6zM605 484.9v-3.8h5v3.8zM615 640.6v-33.8h5v33.8zM620 362.1v-29.3h5v29.3zM625 438.3v-26.8h5v26.8zM645 491.5v-19.4h5v19.4zM650 637.9v-20.3h5v20.3zM655 686.9v-10.3h5v10.3zM660 488.0v-14.7h5v14.7zM665 542.8v-5.0h5v5.0zM670 512.9v-15.4h5v15.4zM675 490.2v-23.1h5v23.1zM685 631.8v-23.0h5v23.0zM695 563.3v-30.4h5v30.4zM705 608.1v-22.5h5v22.5zM725 587.9v-16.1h5v16.1zM735 577.0v-19.9h5v19.9zM770 548.3v-37.5h5v37.5zM780 656.5v-20.7h5v20.7zM805 584.4v-20.4h5v20.4zM810 575.4v-8.2h5v8.2zM815 576.4v-4.3h5v4.3zM825 542.6v-14.9h5v14.9zM845 541.2v-0.4h5v0.4zM850 623.8v-12.4h5v12.4zM860 564.7v-27.8h5v27.8zM870 625.1v-19.9h5v19.9zM875 635.1v-26.4h5v26.4zM885 407.6v-25.8h5v25.8zM895 532.2v-26.3h5v26.3zM910 650.1v-22.1h5v22.1zM915 591.1v-9.6h5v9.6zM920 508.6v-31.5h5v31.5zM925 606.3v-14.9h5v14.9zM930 492.5v-9.5h5v9.5zM935 568.3v-2.6h5v2.6zM945 578.8v-9.0h5v9.0zM960 457.5v-11.2h5v11.2zM970 496.0v-17.3h5v17.3zM985 554.8v-2.5h5v2.5zM990 577.6v-7.0h5v7.0zM995 600.3v-22.4h5v22.4zM1005 518.7v-19.5h5v19.5zM1010 566.8v-5.2h5v5.2zM1020 578.0v-29.8h5v29.8zM1030 688.0v-34.1h5v34.1zM1035 562.8v-23.2h5v23.2zM1040 517.6v-8.1h5v8.1zM1045 649.4v-28.5h5v28.5zM1060 569.0v-17.6h5v17.6zM1065 579.1v-22.9h5v22.9zM1070 745.2v-152.4h5v152.4zM1075 669.8v-202.6h5v202.6zM1080 747.2v-198.9h5v198.9zM1085 728.4v-207.5h5v207.5zM1090 467.1v-32.8h5v32.8zM1095 639.2v-20.5h5v20.5zM1100 553.6v-34.6h5v34.6zM1105 499.2v-117.3h5v117.3zM1110 513.4v-130.5h5v130.5zM1115 474.1v-164.3h5v164.3zM1120 649.8v-64.9h5v64.9zM1125 645.5v-93.2h5v93.2zM1130 595.7v-151.8h5v151.8zM1135 605.8v-132.0h5v132.0zM1140 511.0v-109.1h5v109.1zM1145 676.6v-191.6h5v191.6zM1150 654.8v-101.5h5v101.5zM1155 551.5v-99.9h5v99.9zM1160 721.1v-82.7h5v82.7zM1165 605.9v-19.5h5v19.5zM1170 624.0v-205.2h5v205.2zM1175 525.2v-49.1h5v49.1zM1180 630.6v-203.1h5v203.1zM1185 614.2v-78.1h5v78.1zM1190 558.4v-79.4h5v79.4zM1195 639.3v-174.0h5v174.0zM1200 528.4v-57.5h5v57.5zM1205 758.6v-145.6h5v145.6zM1210 704.3v-207.2h5v207.2zM1215 707.3v-205.5h5v205.5zM1220 732.0v-241.4h5v241.4zM1225 675.9v-186.1h5v186.1zM1230 512.2v-13.6h5v13.6zM1235 634.1v-224.2h5v224.2zM1240 646.3v-45.2h5v45.2zM1245 726.8v-159.4h5v159.4zM1250 494.1v-48.4h5v48.4zM1255 599.5v-184.6h5v184.6zM1260 542.7v-189.5h5v189.5zM1265 528.3v-187.4h5v187.4zM1270 629.6v-72.8h5v72.8zM1275 618.1v-170.6h5v170.6zM1280 665.6v-48.5h5v48.5zM1285 671.9v-25.4h5v25.4zM1290 537.5v-104.5h5v104.5zM1295 729.2v-171.2h5v171.2zM1300 702.7v-162.8h5v162.8zM1305 503.1v-74.7h5v74.7zM1310 692.0v-101.8h5v101.8zM1315 602.9v-131.1h5v131.1zM1320 645.8v-108.4h5v108.4zM1325 546.1v-208.7h5v208.7zM1330 762.6v-221.5h5v221.5zM1335 478.6v-13.2h5v13.2zM1340 591.5v-23.3h5v23.3zM1345 710.4v-174.5h5v174.5zM1350 704.9v-177.3h5v177.3zM1355 577.4v-22.5h5v22.5zM1360 758.4v-209.2h5v209.2zM1365 528.4v-81.3h5v81.3zM1370 754.5v-164.0h5v164.0zM1375 521.7v-61.4h5v61.4zM1380 558.5v-18.6h5v18.6zM1385 643.2v-54.2h5v54.2zM1390 506.9v-14.2h5v14.2zM1395 587.0v-178.3h5v178.3zM1400 604.0v-56.5h5v56.5zM1405 585.4v-94.0h5v94.0zM1410 470.6v-122.8h5v122.8zM1415 697.7v-162.1h5v162.1zM1420 427.2v-65.1h5v65.1zM1425 512.8v-69.2h5v69.2zM1430 609.1v-63.5h5v63.5zM1435 561.2v-142.0h5v142.0zM1440 538.3v-37.3h5v37.3zM1445 366.5v-16.7h5v16.7zM1450 440.2v-20.0h5v20.0zM1455 610.4v-161.9h5v161.9zM1460 589.4v-137.0h5v137.0zM1465 472.2v-18.2h5v18.2zM1470 620.6v-110.8h5v110.8zM1475 623.1v-109.6h5v109.6zM1480 730.5v-47.5h5v47.5zM1485 521.2v-139.4h5v139.4zM1490 454.9v-73.7h5v73.7zM1495 453.9v-9.0h5v9.0zM1500 610.0v-227.1h5v227.1zM1505 746.8v-120.9h5v120.9zM1510 555.9v-186.4h5v186.4zM1515 517.0v-26.6h5v26.6zM1520 645.8v-186.2h5v186.2zM1525 589.3v-64.5h5v64.5zM1530 540.3v-25.6h5v25.6zM1535 521.7v-12.1h5v12.1zM1540 573.4v-119.0h5v119.0zM1545 698.5v-134.5h5v134.5zM1550 667.4v-171.7h5v171.7zM1555 723.5v-203.2h5v203.2zM1560 482.9v-77.9h5v77.9zM1565 528.3v-154.6h5v154.6zM1570 585.0v-156.4h5v156.4zM1575 358.5v-12.7h5v12.7zM1580 556.8v-18.2h5v18.2zM1585 709.1v-209.1h5v209.1zM1590 687.7v-35.0h5v35.0zM1595 600.0v-11.0h5v11.0zM1600 509.2v-18.7h5v18.7zM1605 514.9v-18.9h5v18.9zM1610 668.1v-265.1h5v265.1zM1615 544.5v-132.8h5v132.8zM1620 508.6v-97.7h5v97.7zM1625 558.0v-35.1h5v35.1zM1630 513.1v-24.8h5v24.8zM1635 527.2v-58.2h5v58.2zM1640 731.4v-231.6h5v231.6zM1645 603.4v-54.4h5v54.4zM1650 689.2v-46.9h5v46.9zM1655 540.1v-146.3h5v146.3zM1660 586.7v-45.6h5v45.6zM1665 516.4v-31.3h5v31.3zM1670 722.8v-194.7h5v194.7zM1675 647.6v-197.3h5v197.3zM1680 631.2v-122.5h5v122.5zM1685 665.7v-221.5h5v221.5zM1690 740.8v-53.0h5v53.0zM1695 632.3v-107.8h5v107.8zM1700 549.9v-32.9h5v32.9zM1705 670.7v-205.8h5v205.8zM1710 505.9v-131.2h5v131.2zM1715 593.3v-132.4h5v132.4zM1720 666.6v-216.2h5v216.2z"/>
<path fill="#25357d" d="M355 580.6v-161.4h5v161.4zM360 611.8v-224.4h5v224.4zM365 575.4v-174.7h5v174.7zM370 386.1v-111.5h5v111.5zM375 470.9v-120.4h5v120.4zM380 356.7v-93.1h5v93.1zM385 483.8v-113.5h5v113.5zM390 567.5v-146.8h5v146.8zM395 535.4v-147.5h5v147.5zM400 505.6v-116.5h5v116.5zM405 458.2v-159.7h5v159.7zM410 467.2v-47.6h5v47.6zM415 617.0v-155.8h5v155.8zM420 595.9v-101.7h5v101.7zM425 524.9v-56.6h5v56.6zM430 518.2v-107.1h5v107.1zM435 443.5v-92.5h5v92.5zM440 706.2v-196.2h5v196.2zM445 602.7v-154.9h5v154.9zM450 407.6v-86.4h5v86.4zM455 497.6v-91.7h5v91.7zM460 616.4v-207.7h5v207.7zM465 451.6v-120.5h5v120.5zM470 647.5v-169.9h5v169.9zM475 541.3v-164.5h5v164.5zM480 481.9v-88.9h5v88.9zM485 408.6v-122.4h5v122.4zM490 455.1v-176.0h5v176.0zM495 555.4v-211.4h5v211.4zM500 453.8v-90.5h5v90.5zM505 538.5v-168.6h5v168.6zM510 605.1v-181.2h5v181.2zM515 505.1v-122.8h5v122.8zM520 483.2v-167.9h5v167.9zM525 453.3v-198.5h5v198.5zM530 584.5v-177.9h5v177.9zM535 527.2v-240.5h5v240.5zM540 523.7v-145.6h5v145.6zM545 517.9v-185.8h5v185.8zM550 480.2v-138.9h5v138.9zM555 704.1v-152.5h5v152.5zM560 471.0v-139.1h5v139.1zM565 459.3v-146.2h5v146.2zM570 521.0v-79.5h5v79.5zM575 499.8v-173.3h5v173.3zM580 664.6v-184.4h5v184.4zM585 596.9v-178.4h5v178.4zM590 520.0v-164.8h5v164.8zM595 588.7v-170.9h5v170.9zM600 627.4v-204.7h5v204.7zM605 481.1v-192.3h5v192.3zM610 476.0v-148.7h5v148.7zM615 606.9v-189.5h5v189.5zM620 332.8v-102.4h5v102.4zM625 411.5v-75.3h5v75.3zM630 770.8v-297.1h5v297.1zM635 656.9v-173.7h5v173.7zM640 516.3v-215.9h5v215.9zM645 472.1v-116.0h5v116.0zM650 617.6v-97.6h5v97.6zM655 676.6v-184.2h5v184.2zM660 473.3v-146.2h5v146.2zM665 537.8v-135.1h5v135.1zM670 497.5v-138.7h5v138.7zM675 467.1v-142.6h5v142.6zM680 665.3v-202.2h5v202.2zM685 608.8v-113.9h5v113.9zM690 569.8v-161.1h5v161.1zM695 532.9v-141.2h5v141.2zM700 618.8v-164.2h5v164.2zM705 585.5v-194.9h5v194.9zM710 620.9v-163.3h5v163.3zM715 508.9v-163.7h5v163.7zM720 642.7v-177.2h5v177.2zM725 571.8v-120.2h5v120.2zM730 515.0v-115.9h5v115.9zM735 557.0v-142.2h5v142.2zM740 591.0v-158.2h5v158.2zM745 590.9v-152.2h5v152.2zM750 598.5v-163.1h5v163.1zM755 459.0v-114.3h5v114.3zM760 450.4v-161.8h5v161.8zM765 449.5v-141.3h5v141.3zM770 510.7v-76.4h5v76.4zM775 366.7v-100.7h5v100.7zM780 635.8v-232.3h5v232.3zM785 536.5v-154.9h5v154.9zM790 488.1v-180.3h5v180.3zM795 566.0v-176.0h5v176.0zM800 565.5v-118.7h5v118.7zM805 564.0v-187.6h5v187.6zM810 567.2v-224.0h5v224.0zM815 572.1v-188.7h5v188.7zM820 454.3v-85.2h5v85.2zM825 527.7v-179.2h5v179.2zM830 589.3v-182.1h5v182.1zM835 584.1v-177.1h5v177.1zM840 528.4v-123.8h5v123.8zM845 540.9v-112.5h5v112.5zM850 611.4v-169.8h5v169.8zM855 563.3v-94.3h5v94.3zM860 536.9v-132.8h5v132.8zM865 646.1v-152.9h5v152.9zM870 605.2v-162.8h5v162.8zM875 608.7v-177.1h5v177.1zM880 659.9v-222.1h5v222.1zM885 381.9v-94.5h5v94.5zM890 656.5v-218.3h5v218.3zM895 505.9v-172.8h5v172.8zM900 483.8v-168.4h5v168.4zM905 509.0v-159.3h5v159.3zM910 628.0v-266.3h5v266.3zM915 581.6v-166.0h5v166.0zM920 477.1v-154.1h5v154.1zM925 591.4v-183.8h5v183.8zM930 483.0v-184.9h5v184.9zM935 565.7v-175.2h5v175.2zM940 657.5v-178.9h5v178.9zM945 569.8v-153.6h5v153.6zM950 455.3v-141.3h5v141.3zM955 595.8v-208.1h5v208.1zM960 446.4v-97.0h5v97.0zM965 542.3v-133.5h5v133.5zM970 478.6v-147.8h5v147.8zM975 443.0v-132.5h5v132.5zM980 389.1v-141.5h5v141.5zM985 552.3v-166.6h5v166.6zM990 570.6v-287.4h5v287.4zM995 577.9v-194.6h5v194.6zM1000 622.3v-223.2h5v223.2zM1005 499.2v-76.0h5v76.0zM1010 561.6v-103.6h5v103.6zM1015 585.4v-141.6h5v141.6zM1020 548.2v-223.3h5v223.3zM1025 593.5v-210.4h5v210.4zM1030 653.9v-194.2h5v194.2zM1035 539.6v-204.0h5v204.0zM1040 509.5v-156.2h5v156.2zM1045 620.9v-173.4h5v173.4zM1050 620.0v-177.3h5v177.3zM1055 714.4v-220.3h5v220.3zM1060 551.4v-150.7h5v150.7zM1065 556.2v-156.1h5v156.1zM1070 592.8v-94.8h5v94.8zM1075 467.3v-184.8h5v184.8zM1080 548.2v-89.8h5v89.8zM1085 520.8v-116.1h5v116.1zM1090 434.3v-111.4h5v111.4zM1095 618.7v-175.8h5v175.8zM1100 519.0v-193.5h5v193.5zM1105 381.9v-45.4h5v45.4zM1110 382.9v-65.6h5v65.6zM1115 309.8v-61.1h5v61.1zM1120 584.9v-168.1h5v168.1zM1125 552.3v-144.3h5v144.3zM1130 443.9v-97.5h5v97.5zM1135 473.8v-77.1h5v77.1zM1140 401.9v-107.8h5v107.8zM1145 485.0v-103.6h5v103.6zM1150 553.3v-90.5h5v90.5zM1155 451.5v-85.5h5v85.5zM1160 638.4v-207.8h5v207.8zM1165 586.4v-118.4h5v118.4zM1170 418.9v-97.9h5v97.9zM1175 476.2v-57.0h5v57.0zM1180 427.6v-101.7h5v101.7zM1185 536.0v-142.3h5v142.3zM1190 479.0v-168.4h5v168.4zM1195 465.3v-71.1h5v71.1zM1200 470.9v-201.2h5v201.2zM1205 613.0v-185.1h5v185.1zM1210 497.1v-139.8h5v139.8zM1215 501.8v-163.0h5v163.0zM1220 490.6v-109.8h5v109.8zM1225 489.8v-90.5h5v90.5zM1230 498.6v-79.4h5v79.4zM1235 409.8v-25.3h5v25.3zM1240 601.1v-152.9h5v152.9zM1245 567.3v-134.5h5v134.5zM1250 445.7v-84.3h5v84.3zM1255 414.9v-125.6h5v125.6zM1260 353.1v-24.0h5v24.0zM1265 340.9v-102.0h5v102.0zM1270 556.8v-194.8h5v194.8zM1275 447.5v-109.6h5v109.6zM1280 617.2v-142.2h5v142.2zM1285 646.5v-152.4h5v152.4zM1290 433.0v-167.9h5v167.9zM1295 558.0v-73.9h5v73.9zM1300 539.9v-32.0h5v32.0zM1305 428.4v-71.5h5v71.5zM1310 590.2v-110.5h5v110.5zM1315 471.7v-69.9h5v69.9zM1320 537.3v-157.4h5v157.4zM1325 337.4v-68.0h5v68.0zM1330 541.1v-126.7h5v126.7zM1335 465.4v-93.5h5v93.5zM1340 568.2v-172.0h5v172.0zM1345 535.9v-171.8h5v171.8zM1350 527.5v-142.5h5v142.5zM1355 554.9v-192.7h5v192.7zM1360 549.2v-107.9h5v107.9zM1365 447.1v-54.5h5v54.5zM1370 590.5v-174.1h5v174.1zM1375 460.3v-74.8h5v74.8zM1380 539.9v-76.8h5v76.8zM1385 589.0v-146.1h5v146.1zM1390 492.7v-192.2h5v192.2zM1395 408.7v-96.3h5v96.3zM1400 547.5v-66.9h5v66.9zM1405 491.4v-124.9h5v124.9zM1410 347.8v-76.6h5v76.6zM1415 535.6v-82.6h5v82.6zM1420 362.2v-82.6h5v82.6zM1425 443.7v-104.5h5v104.5zM1430 545.6v-160.3h5v160.3zM1435 419.2v-103.9h5v103.9zM1440 501.0v-44.8h5v44.8zM1445 349.8v-67.2h5v67.2zM1450 420.2v-80.4h5v80.4zM1455 448.5v-29.1h5v29.1zM1460 452.4v-144.4h5v144.4zM1465 454.0v-165.9h5v165.9zM1470 509.9v-145.8h5v145.8zM1475 513.5v-55.6h5v55.6zM1480 683.0v-224.2h5v224.2zM1485 381.8v-104.0h5v104.0zM1490 381.2v-45.4h5v45.4zM1495 445.0v-100.5h5v100.5zM1500 382.9v-34.3h5v34.3zM1505 625.9v-161.6h5v161.6zM1510 369.4v-50.5h5v50.5zM1515 490.4v-81.3h5v81.3zM1520 459.6v-56.0h5v56.0zM1525 524.8v-200.8h5v200.8zM1530 514.7v-123.5h5v123.5zM1535 509.7v-61.3h5v61.3zM1540 454.5v-163.5h5v163.5zM1545 564.0v-102.3h5v102.3zM1550 495.7v-146.0h5v146.0zM1555 520.3v-148.1h5v148.1zM1560 405.0v-126.3h5v126.3zM1565 373.7v-110.8h5v110.8zM1570 428.6v-66.9h5v66.9zM1575 345.8v-66.1h5v66.1zM1580 538.6v-215.9h5v215.9zM1585 499.9v-95.9h5v95.9zM1590 652.7v-174.0h5v174.0zM1595 589.0v-172.8h5v172.8zM1600 490.5v-152.8h5v152.8zM1605 495.9v-122.4h5v122.4zM1610 403.0v-107.8h5v107.8zM1615 411.7v-82.9h5v82.9zM1620 410.9v-132.8h5v132.8zM1625 522.9v-171.6h5v171.6zM1630 488.3v-154.2h5v154.2zM1635 469.0v-47.6h5v47.6zM1640 499.8v-208.6h5v208.6zM1645 549.0v-175.4h5v175.4zM1650 642.4v-276.1h5v276.1zM1655 393.8v-120.2h5v120.2zM1660 541.1v-189.7h5v189.7zM1665 485.2v-122.0h5v122.0zM1670 528.2v-61.4h5v61.4zM1675 450.3v-47.6h5v47.6zM1680 508.7v-145.2h5v145.2zM1685 444.2v-92.9h5v92.9zM1690 687.9v-220.5h5v220.5zM1695 524.5v-157.6h5v157.6zM1700 517.0v-116.0h5v116.0zM1705 464.9v-150.4h5v150.4zM1710 374.7v-125.0h5v125.0zM1715 460.8v-73.9h5v73.9zM1720 450.4v-102.2h5v102.2z"/>
<path fill="#2d257d" d="M355 419.1v-141.8h5v141.8zM360 387.4v-149.0h5v149.0zM365 400.8v-131.8h5v131.8zM370 274.6v-58.3h5v58.3zM375 350.5v-114.7h5v114.7zM380 263.6v-61.3h5v61.3zM385 370.3v-78.7h5v78.7zM390 420.6v-89.1h5v89.1zM395 387.9v-97.9h5v97.9zM400 389.1v-160.8h5v160.8zM405 298.5v-70.7h5v70.7zM410 419.6v-172.2h5v172.2zM415 461.2v-151.9h5v151.9zM420 494.3v-146.9h5v146.9zM425 468.3v-108.1h5v108.1zM430 411.1v-57.6h5v57.6zM435 350.9v-114.2h5v114.2zM440 510.0v-170.4h5v170.4zM445 447.8v-136.6h5v136.6zM450 321.1v-48.3h5v48.3zM455 405.9v-115.4h5v115.4zM460 408.7v-183.3h5v183.3zM465 331.1v-101.3h5v101.3zM470 477.7v-188.9h5v188.9zM475 376.8v-104.4h5v104.4zM480 393.0v-180.6h5v180.6zM485 286.2v-38.0h5v38.0zM490 279.0v-76.3h5v76.3zM495 344.0v-91.9h5v91.9zM500 363.3v-69.9h5v69.9zM505 369.9v-146.2h5v146.2zM510 423.9v-208.2h5v208.2zM515 382.3v-108.3h5v108.3zM520 315.3v-105.3h5v105.3zM525 254.9v-37.3h5v37.3zM530 406.6v-129.7h5v129.7zM535 286.7v-65.7h5v65.7zM540 378.1v-146.1h5v146.1zM545 332.1v-49.5h5v49.5zM550 341.3v-115.2h5v115.2zM555 551.6v-208.8h5v208.8zM560 331.9v-65.4h5v65.4zM565 313.0v-40.6h5v40.6zM570 441.5v-172.3h5v172.3zM575 326.5v-86.8h5v86.8zM580 480.2v-179.1h5v179.1zM585 418.5v-112.1h5v112.1zM590 355.2v-81.4h5v81.4zM595 417.8v-206.6h5v206.6zM600 422.7v-177.0h5v177.0zM605 288.8v-63.1h5v63.1zM610 327.2v-45.0h5v45.0zM615 417.4v-105.8h5v105.8zM620 230.4v-35.2h5v35.2zM625 336.2v-69.1h5v69.1zM630 473.7v-182.4h5v182.4zM635 483.2v-188.5h5v188.5zM640 300.3v-57.0h5v57.0zM645 356.1v-117.5h5v117.5zM650 520.0v-230.4h5v230.4zM655 492.4v-201.7h5v201.7zM660 327.1v-76.9h5v76.9zM665 402.7v-132.6h5v132.6zM670 358.8v-88.9h5v88.9zM675 324.5v-88.4h5v88.4zM680 463.1v-182.8h5v182.8zM685 494.9v-188.9h5v188.9zM690 408.7v-129.6h5v129.6zM695 391.7v-110.5h5v110.5zM700 454.6v-217.9h5v217.9zM705 390.7v-139.6h5v139.6zM710 457.6v-136.4h5v136.4zM715 345.1v-80.0h5v80.0zM720 465.5v-164.5h5v164.5zM725 451.7v-193.8h5v193.8zM730 399.0v-146.7h5v146.7zM735 414.8v-159.8h5v159.8zM740 432.7v-184.5h5v184.5zM745 438.7v-94.4h5v94.4zM750 435.4v-186.5h5v186.5zM755 344.7v-89.9h5v89.9zM760 288.6v-76.7h5v76.7zM765 308.1v-92.6h5v92.6zM770 434.4v-212.1h5v212.1zM775 266.0v-28.8h5v28.8zM780 403.5v-172.9h5v172.9zM785 381.6v-150.5h5v150.5zM790 307.8v-74.1h5v74.1zM795 390.0v-80.1h5v80.1zM800 446.8v-166.1h5v166.1zM805 376.4v-134.9h5v134.9zM810 343.2v-139.8h5v139.8zM815 383.4v-136.8h5v136.8zM820 369.1v-131.1h5v131.1zM825 348.4v-56.3h5v56.3zM830 407.2v-179.8h5v179.8zM835 407.0v-147.0h5v147.0zM840 404.6v-118.3h5v118.3zM845 428.4v-70.6h5v70.6zM850 441.7v-231.1h5v231.1zM855 469.0v-210.7h5v210.7zM860 404.1v-172.6h5v172.6zM865 493.2v-278.7h5v278.7zM870 442.4v-231.4h5v231.4zM875 431.6v-181.7h5v181.7zM880 437.9v-185.9h5v185.9zM885 287.3v-60.3h5v60.3zM890 438.2v-161.7h5v161.7zM895 333.1v-121.8h5v121.8zM900 315.4v-79.6h5v79.6zM905 349.6v-155.4h5v155.4zM910 361.7v-173.0h5v173.0zM915 415.5v-173.1h5v173.1zM920 323.0v-124.0h5v124.0zM925 407.6v-132.5h5v132.5zM930 298.1v-44.7h5v44.7zM935 390.5v-118.8h5v118.8zM940 478.6v-218.1h5v218.1zM945 416.2v-115.6h5v115.6zM950 314.0v-47.0h5v47.0zM955 387.7v-141.1h5v141.1zM960 349.3v-127.2h5v127.2zM965 408.8v-125.5h5v125.5zM970 330.8v-105.2h5v105.2zM975 310.5v-53.6h5v53.6zM980 247.6v-37.6h5v37.6zM985 385.6v-125.7h5v125.7zM990 283.1v-60.2h5v60.2zM995 383.3v-104.3h5v104.3zM1000 399.1v-106.1h5v106.1zM1005 423.2v-154.7h5v154.7zM1010 458.0v-173.1h5v173.1zM1015 443.8v-159.0h5v159.0zM1020 325.0v-50.0h5v50.0zM1025 383.2v-108.9h5v108.9zM1030 459.7v-158.1h5v158.1zM1035 335.6v-43.3h5v43.3zM1040 353.3v-89.8h5v89.8zM1045 447.5v-166.1h5v166.1zM1050 442.7v-194.3h5v194.3zM1055 494.1v-237.9h5v237.9zM1060 400.7v-157.2h5v157.2zM1065 400.0v-145.9h5v145.9zM1070 497.9v-100.5h5v100.5zM1075 282.4v-64.2h5v64.2zM1080 458.4v-123.7h5v123.7zM1085 404.7v-72.9h5v72.9zM1090 322.9v-63.7h5v63.7zM1095 442.8v-41.4h5v41.4zM1100 325.5v-24.2h5v24.2zM1105 336.5v-123.5h5v123.5zM1110 317.3v-105.7h5v105.7zM1115 248.7v-57.6h5v57.6zM1120 416.7v-93.3h5v93.3zM1125 408.0v-138.2h5v138.2zM1130 346.3v-68.4h5v68.4zM1135 396.7v-101.0h5v101.0zM1140 294.1v-65.0h5v65.0zM1145 381.4v-120.2h5v120.2zM1150 462.8v-147.8h5v147.8zM1155 366.0v-102.8h5v102.8zM1160 430.6v-112.1h5v112.1zM1165 468.0v-108.1h5v108.1zM1170 321.0v-49.4h5v49.4zM1175 419.2v-128.7h5v128.7zM1180 325.9v-88.3h5v88.3zM1185 393.7v-113.4h5v113.4zM1190 310.6v-36.5h5v36.5zM1195 394.2v-124.5h5v124.5zM1200 269.7v-29.6h5v29.6zM1205 427.9v-109.9h5v109.9zM1210 357.2v-77.5h5v77.5zM1215 338.8v-68.1h5v68.1zM1220 380.8v-115.0h5v115.0zM1225 399.3v-125.5h5v125.5zM1230 419.3v-152.6h5v152.6zM1235 384.6v-125.1h5v125.1zM1240 448.1v-57.3h5v57.3zM1245 432.8v-108.6h5v108.6zM1250 361.4v-64.8h5v64.8zM1255 289.2v-78.2h5v78.2zM1260 329.1v-47.8h5v47.8zM1265 238.9v-34.6h5v34.6zM1270 362.0v-27.6h5v27.6zM1275 337.9v-41.3h5v41.3zM1280 475.0v-114.0h5v114.0zM1285 494.1v-149.8h5v149.8zM1290 265.1v-35.4h5v35.4zM1295 484.1v-149.1h5v149.1zM1300 508.0v-166.4h5v166.4zM1305 357.0v-140.5h5v140.5zM1310 479.8v-164.7h5v164.7zM1315 401.8v-73.0h5v73.0zM1320 379.9v-145.7h5v145.7zM1325 269.4v-64.2h5v64.2zM1330 414.3v-110.4h5v110.4zM1335 371.9v-154.6h5v154.6zM1340 396.2v-155.3h5v155.3zM1345 364.1v-135.0h5v135.0zM1350 385.1v-166.1h5v166.1zM1355 362.2v-142.0h5v142.0zM1360 441.3v-101.1h5v101.1zM1365 392.6v-173.9h5v173.9zM1370 416.4v-141.1h5v141.1zM1375 385.5v-129.4h5v129.4zM1380 463.0v-145.9h5v145.9zM1385 442.8v-116.9h5v116.9zM1390 300.5v-67.9h5v67.9zM1395 312.4v-81.5h5v81.5zM1400 480.6v-103.5h5v103.5zM1405 366.5v-39.0h5v39.0zM1410 271.3v-58.9h5v58.9zM1415 453.1v-133.2h5v133.2zM1420 279.6v-67.4h5v67.4zM1425 339.1v-78.2h5v78.2zM1430 385.3v-116.9h5v116.9zM1435 315.4v-71.0h5v71.0zM1440 456.2v-66.4h5v66.4zM1445 282.6v-25.8h5v25.8zM1450 339.8v-105.8h5v105.8zM1455 419.4v-130.4h5v130.4zM1460 308.0v-79.0h5v79.0zM1465 288.1v-38.3h5v38.3zM1470 364.0v-110.7h5v110.7zM1475 457.9v-156.8h5v156.8zM1480 458.9v-65.7h5v65.7zM1485 277.8v-73.1h5v73.1zM1490 335.8v-70.1h5v70.1zM1495 344.4v-46.0h5v46.0zM1500 348.5v-59.4h5v59.4zM1505 464.3v-137.4h5v137.4zM1510 319.0v-46.3h5v46.3zM1515 409.1v-121.6h5v121.6zM1520 403.6v-129.2h5v129.2zM1525 324.0v-81.5h5v81.5zM1530 391.2v-47.1h5v47.1zM1535 448.4v-146.5h5v146.5zM1540 291.0v-84.5h5v84.5zM1545 461.7v-193.2h5v193.2zM1550 349.7v-129.4h5v129.4zM1555 372.2v-121.2h5v121.2zM1560 278.7v-61.6h5v61.6zM1565 262.9v-30.9h5v30.9zM1570 361.8v-100.1h5v100.1zM1575 279.7v-44.5h5v44.5zM1580 322.7v-82.7h5v82.7zM1585 404.1v-122.4h5v122.4zM1590 478.7v-178.4h5v178.4zM1595 416.2v-144.8h5v144.8zM1600 337.7v-46.3h5v46.3zM1605 373.5v-77.8h5v77.8zM1610 295.2v-62.8h5v62.8zM1615 328.8v-92.0h5v92.0zM1620 278.1v-53.6h5v53.6zM1625 351.3v-74.2h5v74.2zM1630 334.1v-86.9h5v86.9zM1635 421.4v-166.2h5v166.2zM1640 291.2v-21.1h5v21.1zM1645 373.5v-74.9h5v74.9zM1650 366.3v-94.6h5v94.6zM1655 273.6v-29.8h5v29.8zM1660 351.4v-72.1h5v72.1zM1665 363.2v-77.8h5v77.8zM1670 466.7v-97.2h5v97.2zM1675 402.6v-64.0h5v64.0zM1680 363.5v-99.1h5v99.1zM1685 351.3v-142.4h5v142.4zM1690 467.4v-83.3h5v83.3zM1695 366.9v-106.4h5v106.4zM1700 401.0v-121.8h5v121.8zM1705 314.5v-100.6h5v100.6zM1710 249.7v-21.4h5v21.4zM1715 386.9v-133.9h5v133.9zM1720 348.2v-73.3h5v73.3z"/>
<path fill="#45257d" d="M355 277.3v-44.8h5v44.8zM360 238.4v-21.1h5v21.1zM365 268.9v-35.6h5v35.6zM370 216.3v-3.3h5v3.3zM375 235.8v-23.6h5v23.6zM380 202.3v-15.5h5v15.5zM385 291.6v-24.2h5v24.2zM390 331.6v-35.6h5v35.6zM395 290.0v-12.8h5v12.8zM400 228.3v-23.9h5v23.9zM405 227.9v-12.1h5v12.1zM410 247.5v-9.9h5v9.9zM415 309.3v-20.5h5v20.5zM420 347.4v-26.0h5v26.0zM425 360.1v-28.6h5v28.6zM430 353.6v-37.6h5v37.6zM435 236.8v-22.7h5v22.7zM440 339.6v-38.8h5v38.8zM445 311.3v-10.2h5v10.2zM450 272.8v-22.1h5v22.1zM455 290.6v-20.1h5v20.1zM460 225.4v-25.4h5v25.4zM465 229.8v-34.9h5v34.9zM470 288.7v-18.9h5v18.9zM475 272.4v-8.6h5v8.6zM480 212.3v-15.6h5v15.6zM485 248.2v-37.4h5v37.4zM490 202.7v-12.6h5v12.6zM495 252.1v-16.3h5v16.3zM500 293.4v-23.2h5v23.2zM505 223.8v-19.8h5v19.8zM510 215.7v-13.5h5v13.5zM515 274.0v-26.8h5v26.8zM520 210.0v-17.8h5v17.8zM525 217.6v-19.6h5v19.6zM530 276.9v-38.6h5v38.6zM535 221.0v-14.7h5v14.7zM540 232.0v-22.8h5v22.8zM545 282.6v-19.0h5v19.0zM550 226.1v-8.7h5v8.7zM555 342.8v-26.2h5v26.2zM560 266.4v-0.8h5v0.8zM565 272.4v-38.8h5v38.8zM570 269.3v-40.0h5v40.0zM575 239.7v-24.4h5v24.4zM580 301.1v-11.4h5v11.4zM585 306.4v-2.4h5v2.4zM590 273.8v-52.6h5v52.6zM595 211.3v-8.1h5v8.1zM600 245.8v-20.3h5v20.3zM605 225.7v-10.7h5v10.7zM610 282.2v-19.5h5v19.5zM615 311.5v-39.2h5v39.2zM620 195.1v-5.9h5v5.9zM625 267.1v-5.3h5v5.3zM630 291.3v-51.6h5v51.6zM635 294.7v-11.6h5v11.6zM640 243.3v-41.3h5v41.3zM645 238.7v-32.3h5v32.3zM650 289.6v-6.4h5v6.4zM655 290.7v-48.8h5v48.8zM660 250.2v-17.2h5v17.2zM665 270.1v-19.2h5v19.2zM670 269.9v-12.4h5v12.4zM675 236.2v-22.3h5v22.3zM680 280.3v-3.3h5v3.3zM685 306.0v-26.0h5v26.0zM690 279.1v-24.5h5v24.5zM695 281.3v-33.9h5v33.9zM700 236.7v-28.9h5v28.9zM705 251.1v-25.9h5v25.9zM710 321.2v-19.6h5v19.6zM715 265.1v-8.3h5v8.3zM720 301.0v-22.2h5v22.2zM725 257.9v-20.4h5v20.4zM730 252.3v-14.2h5v14.2zM735 255.0v-14.2h5v14.2zM740 248.3v-36.0h5v36.0zM745 344.3v-21.2h5v21.2zM750 248.9v-21.1h5v21.1zM755 254.8v-33.2h5v33.2zM760 211.8v-14.1h5v14.1zM765 215.5v-20.3h5v20.3zM770 222.3v-31.3h5v31.3zM775 237.2v-34.0h5v34.0zM780 230.6v-14.4h5v14.4zM785 231.1v-0.3h5v0.3zM790 233.8v-9.0h5v9.0zM795 309.9v-25.2h5v25.2zM800 280.7v-26.5h5v26.5zM805 241.5v-31.3h5v31.3zM810 203.4v-16.2h5v16.2zM815 246.6v-18.2h5v18.2zM820 238.0v-24.5h5v24.5zM825 292.1v-33.0h5v33.0zM830 227.4v-22.2h5v22.2zM835 260.0v-21.0h5v21.0zM840 286.4v-56.8h5v56.8zM845 357.8v-24.6h5v24.6zM850 210.6v-26.5h5v26.5zM855 258.3v-27.5h5v27.5zM860 231.5v-11.7h5v11.7zM865 214.5v-27.8h5v27.8zM870 211.0v-13.3h5v13.3zM875 249.9v-30.1h5v30.1zM880 251.9v-41.6h5v41.6zM885 227.0v-14.0h5v14.0zM890 276.4v-3.1h5v3.1zM895 211.3v-3.2h5v3.2zM900 235.8v-36.1h5v36.1zM905 194.3v-5.7h5v5.7zM910 188.7v-7.9h5v7.9zM915 242.4v-8.3h5v8.3zM920 199.1v-8.8h5v8.8zM925 275.1v-19.8h5v19.8zM930 253.3v-28.4h5v28.4zM935 271.7v-7.0h5v7.0zM940 260.5v-28.6h5v28.6zM945 300.6v-35.5h5v35.5zM950 267.1v-20.4h5v20.4zM955 246.6v-31.0h5v31.0zM960 222.1v-15.5h5v15.5zM965 283.3v-14.5h5v14.5zM970 225.6v-22.4h5v22.4zM975 256.9v-18.3h5v18.3zM980 210.0v-10.0h5v10.0zM985 259.9v-35.1h5v35.1zM990 222.9v-36.2h5v36.2zM995 279.0v-34.3h5v34.3zM1000 293.0v-59.1h5v59.1zM1005 268.5v-20.1h5v20.1zM1010 284.8v-34.5h5v34.5zM1015 284.8v-11.6h5v11.6zM1020 274.9v-28.9h5v28.9zM1025 274.2v-12.8h5v12.8zM1030 301.6v-19.1h5v19.1zM1035 292.3v-29.9h5v29.9zM1040 263.5v-24.2h5v24.2zM1045 281.4v-39.3h5v39.3zM1050 248.4v-36.0h5v36.0zM1055 256.2v-14.9h5v14.9zM1060 243.5v-17.6h5v17.6zM1065 254.1v-17.3h5v17.3zM1070 397.4v-159.3h5v159.3zM1075 218.2v-9.7h5v9.7zM1080 334.7v-56.7h5v56.7zM1085 331.8v-79.6h5v79.6zM1090 259.2v-29.1h5v29.1zM1095 401.5v-79.5h5v79.5zM1100 301.2v-35.0h5v35.0zM1105 213.0v-5.6h5v5.6zM1110 211.6v-8.7h5v8.7zM1115 191.1v-1.3h5v1.3zM1120 323.4v-77.3h5v77.3zM1125 269.8v-43.5h5v43.5zM1130 277.9v-45.3h5v45.3zM1135 295.7v-42.5h5v42.5zM1140 229.0v-21.3h5v21.3zM1145 261.1v-16.7h5v16.7zM1150 315.0v-63.7h5v63.7zM1155 263.2v-55.6h5v55.6zM1160 318.5v-54.7h5v54.7zM1165 359.8v-125.3h5v125.3zM1170 271.6v-53.3h5v53.3zM1175 290.5v-60.6h5v60.6zM1180 237.6v-36.5h5v36.5zM1185 280.4v-35.6h5v35.6zM1190 274.1v-69.8h5v69.8zM1195 269.7v-50.6h5v50.6zM1200 240.0v-24.6h5v24.6zM1205 318.0v-76.3h5v76.3zM1210 279.8v-4.0h5v4.0zM1215 270.8v-35.8h5v35.8zM1220 265.8v-9.7h5v9.7zM1225 273.8v-47.7h5v47.7zM1230 266.7v-9.9h5v9.9zM1235 259.5v-28.5h5v28.5zM1240 390.9v-145.2h5v145.2zM1245 324.2v-25.7h5v25.7zM1250 296.6v-4.0h5v4.0zM1255 211.1v-3.8h5v3.8zM1260 281.3v-34.6h5v34.6zM1265 204.3v-3.6h5v3.6zM1270 334.4v-66.8h5v66.8zM1275 296.7v-0.9h5v0.9zM1280 361.0v-57.2h5v57.2zM1285 344.3v-132.0h5v132.0zM1290 229.7v-27.2h5v27.2zM1295 334.9v-97.6h5v97.6zM1300 341.5v-11.1h5v11.1zM1310 315.1v-45.1h5v45.1zM1315 328.9v-49.2h5v49.2zM1320 234.2v-0.5h5v0.5zM1325 205.2v-11.3h5v11.3zM1330 303.9v-31.5h5v31.5zM1340 240.9v-16.2h5v16.2zM1345 229.1v-11.2h5v11.2zM1350 218.9v-10.4h5v10.4zM1355 220.2v-24.3h5v24.3zM1360 340.2v-88.7h5v88.7zM1365 218.7v-2.5h5v2.5zM1370 275.4v-23.9h5v23.9zM1375 256.2v-18.2h5v18.2zM1380 317.1v-20.7h5v20.7zM1385 325.9v-55.0h5v55.0zM1390 232.6v-3.9h5v3.9zM1395 230.9v-18.9h5v18.9zM1400 377.1v-46.0h5v46.0zM1405 327.5v-55.6h5v55.6zM1410 212.3v-20.4h5v20.4zM1415 319.9v-75.3h5v75.3zM1420 212.2v-4.7h5v4.7zM1425 260.9v-44.4h5v44.4zM1430 268.3v-31.6h5v31.6zM1435 244.4v-19.7h5v19.7zM1440 389.8v-49.2h5v49.2zM1445 256.8v-50.4h5v50.4zM1450 234.0v-2.3h5v2.3zM1455 289.0v-53.0h5v53.0zM1460 229.0v-10.7h5v10.7zM1465 249.7v-13.8h5v13.8zM1470 253.3v-21.8h5v21.8zM1475 301.1v-75.5h5v75.5zM1480 393.2v-82.4h5v82.4zM1485 204.7v-6.8h5v6.8zM1490 265.7v-7.4h5v7.4zM1495 298.5v-23.7h5v23.7zM1500 289.1v-9.2h5v9.2zM1505 326.9v-114.8h5v114.8zM1510 272.7v-35.9h5v35.9zM1515 287.5v-6.9h5v6.9zM1520 274.4v-22.3h5v22.3zM1525 242.5v-30.3h5v30.3zM1530 344.1v-49.0h5v49.0zM1535 301.9v-76.6h5v76.6zM1540 206.6v-7.4h5v7.4zM1545 268.4v-34.9h5v34.9zM1550 220.3v-14.2h5v14.2zM1555 251.0v-19.9h5v19.9zM1560 217.1v-0.9h5v0.9zM1565 232.0v-20.0h5v20.0zM1570 261.7v-20.5h5v20.5zM1575 235.2v-24.5h5v24.5zM1580 240.0v-5.6h5v5.6zM1585 281.6v-1.3h5v1.3zM1590 300.3v-10.1h5v10.1zM1595 271.3v-40.1h5v40.1zM1600 291.4v-8.6h5v8.6zM1605 295.7v-44.6h5v44.6zM1610 232.4v-20.3h5v20.3zM1620 224.5v-12.3h5v12.3zM1625 277.2v-49.4h5v49.4zM1630 247.2v-21.1h5v21.1zM1635 255.3v-29.3h5v29.3zM1640 270.2v-37.5h5v37.5zM1645 298.7v-33.8h5v33.8zM1650 271.6v-52.3h5v52.3zM1655 243.8v-28.6h5v28.6zM1660 279.3v-97.5h5v97.5zM1665 285.3v-41.0h5v41.0zM1670 369.5v-26.8h5v26.8zM1675 338.6v-111.4h5v111.4zM1680 264.4v-47.7h5v47.7zM1685 208.8v-15.2h5v15.2zM1690 384.1v-130.3h5v130.3zM1695 260.5v-26.5h5v26.5zM1700 279.2v-4.8h5v4.8zM1705 213.9v-10.4h5v10.4zM1710 228.3v-20.3h5v20.3zM1715 253.1v-50.3h5v50.3zM1720 274.9v-29.9h5v29.9z"/>
<path fill="#5d257d" d="M355 232.5v-17.2h5v17.2zM390 295.9v-19.7h5v19.7zM440 300.8v-23.5h5v23.5zM480 196.7v-8.7h5v8.7zM515 247.1v-10.0h5v10.0zM580 289.7v-17.8h5v17.8zM620 189.2v-7.5h5v7.5zM690 254.6v-0.9h5v0.9zM720 278.8v-8.5h5v8.5zM750 227.7v-10.3h5v10.3zM755 221.6v-3.6h5v3.6zM800 254.3v-4.2h5v4.2zM805 210.2v-2.3h5v2.3zM835 239.0v-26.1h5v26.1zM870 197.7v-12.2h5v12.2zM880 210.3v-0.9h5v0.9zM960 206.6v-3.9h5v3.9zM995 244.7v-16.9h5v16.9zM1005 248.4v-1.0h5v1.0zM1025 261.4v-14.7h5v14.7zM1045 242.1v-3.5h5v3.5zM1095 322.0v-63.6h5v63.6zM1100 266.2v-34.7h5v34.7zM1165 234.6v-44.0h5v44.0zM1180 201.0v-8.4h5v8.4zM1205 241.7v-14.3h5v14.3zM1260 246.7v-41.1h5v41.1zM1275 295.7v-0.6h5v0.6zM1310 269.9v-2.0h5v2.0zM1360 251.5v-23.8h5v23.8zM1370 251.5v-27.8h5v27.8zM1395 211.9v-4.7h5v4.7zM1470 231.5v-2.2h5v2.2zM1570 241.1v-39.4h5v39.4zM1620 212.2v-3.6h5v3.6zM1655 215.2v-17.4h5v17.4zM1690 253.8v-7.0h5v7.0zM1715 202.7v-7.0h5v7.0z"/>
<path fill="#75257d" d="M355 215.2v-7.5h5v7.5zM365 233.3v-11.0h5v11.0zM385 267.4v-25.7h5v25.7zM390 276.2v-20.5h5v20.5zM395 277.2v-8.3h5v8.3zM410 237.6v-13.3h5v13.3zM420 321.3v-19.5h5v19.5zM435 214.1v-21.0h5v21.0zM450 250.8v-6.9h5v6.9zM455 270.5v-15.3h5v15.3zM460 200.0v-10.5h5v10.5zM465 194.8v-4.5h5v4.5zM500 270.2v-27.0h5v27.0zM505 204.0v-6.2h5v6.2zM525 198.0v-15.5h5v15.5zM540 209.2v-15.3h5v15.3zM545 263.6v-16.7h5v16.7zM560 265.7v-7.4h5v7.4zM565 233.6v-21.0h5v21.0zM570 229.3v-23.9h5v23.9zM595 203.2v-9.6h5v9.6zM605 215.0v-0.4h5v0.4zM610 262.7v-13.0h5v13.0zM625 261.8v-16.2h5v16.2zM650 283.2v-36.2h5v36.2zM655 241.9v-5.4h5v5.4zM660 233.0v-6.1h5v6.1zM665 251.0v-15.4h5v15.4zM670 257.4v-26.2h5v26.2zM675 213.9v-17.2h5v17.2zM680 277.1v-22.6h5v22.6zM685 280.0v-9.7h5v9.7zM695 247.4v-11.3h5v11.3zM705 225.2v-11.2h5v11.2zM710 301.6v-9.8h5v9.8zM725 237.4v-8.6h5v8.6zM730 238.1v-4.6h5v4.6zM735 240.8v-2.6h5v2.6zM750 217.5v-23.1h5v23.1zM755 218.0v-16.2h5v16.2zM760 197.7v-10.8h5v10.8zM780 216.3v-17.0h5v17.0zM795 284.7v-7.0h5v7.0zM800 250.0v-13.9h5v13.9zM805 207.9v-19.5h5v19.5zM810 187.2v-2.2h5v2.2zM825 259.2v-13.8h5v13.8zM835 212.9v-0.9h5v0.9zM840 229.5v-1.4h5v1.4zM860 219.9v-10.8h5v10.8zM870 185.5v-0.3h5v0.3zM915 234.1v-16.1h5v16.1zM920 190.3v-4.6h5v4.6zM925 255.3v-11.2h5v11.2zM935 264.7v-22.9h5v22.9zM940 231.8v-17.6h5v17.6zM945 265.1v-25.5h5v25.5zM955 215.6v-29.9h5v29.9zM960 202.7v-6.6h5v6.6zM965 268.7v-1.6h5v1.6zM970 203.2v-2.4h5v2.4zM975 238.6v-15.2h5v15.2zM980 200.0v-12.7h5v12.7zM1010 250.4v-13.8h5v13.8zM1025 246.7v-22.0h5v22.0zM1035 262.4v-8.7h5v8.7zM1045 238.5v-22.9h5v22.9zM1050 212.4v-12.0h5v12.0zM1055 241.4v-21.6h5v21.6zM1060 225.9v-15.5h5v15.5zM1065 236.8v-9.5h5v9.5zM1070 238.1v-41.8h5v41.8zM1075 208.5v-9.2h5v9.2zM1080 278.0v-4.3h5v4.3zM1085 252.2v-69.8h5v69.8zM1090 230.0v-45.8h5v45.8zM1095 258.4v-60.9h5v60.9zM1100 231.5v-1.9h5v1.9zM1110 203.0v-6.6h5v6.6zM1115 189.8v-6.3h5v6.3zM1120 246.1v-60.2h5v60.2zM1130 232.6v-34.4h5v34.4zM1135 253.2v-47.1h5v47.1zM1140 207.7v-20.3h5v20.3zM1145 244.5v-51.3h5v51.3zM1155 207.6v-25.4h5v25.4zM1160 263.8v-2.6h5v2.6zM1170 218.3v-12.1h5v12.1zM1175 229.8v-4.1h5v4.1zM1185 244.8v-15.3h5v15.3zM1200 215.4v-3.9h5v3.9zM1205 227.5v-24.7h5v24.7zM1215 234.9v-29.0h5v29.0zM1220 256.1v-50.2h5v50.2zM1230 256.9v-54.5h5v54.5zM1235 231.0v-4.7h5v4.7zM1240 245.7v-3.1h5v3.1zM1245 298.4v-24.3h5v24.3zM1250 292.7v-64.4h5v64.4zM1255 207.3v-1.0h5v1.0zM1265 200.7v-2.6h5v2.6zM1270 267.6v-48.2h5v48.2zM1280 303.8v-64.6h5v64.6zM1295 237.3v-48.9h5v48.9zM1300 330.4v-6.5h5v6.5zM1310 267.9v-71.2h5v71.2zM1315 279.7v-44.4h5v44.4zM1320 233.7v-26.2h5v26.2zM1330 272.4v-21.1h5v21.1zM1335 217.1v-0.4h5v0.4zM1340 224.7v-37.4h5v37.4zM1345 217.9v-22.9h5v22.9zM1350 208.5v-23.9h5v23.9zM1360 227.7v-19.5h5v19.5zM1365 216.2v-34.6h5v34.6zM1370 223.7v-14.6h5v14.6zM1375 238.0v-3.6h5v3.6zM1380 296.3v-43.9h5v43.9zM1385 270.9v-49.1h5v49.1zM1390 228.8v-35.3h5v35.3zM1395 207.3v-18.9h5v18.9zM1400 331.1v-38.1h5v38.1zM1405 271.9v-24.5h5v24.5zM1410 191.9v-4.0h5v4.0zM1415 244.6v-58.5h5v58.5zM1420 207.5v-1.6h5v1.6zM1430 236.8v-1.7h5v1.7zM1435 224.6v-33.8h5v33.8zM1440 340.6v-53.4h5v53.4zM1450 231.6v-20.3h5v20.3zM1465 235.9v-46.1h5v46.1zM1470 229.4v-2.7h5v2.7zM1475 225.6v-4.9h5v4.9zM1480 310.8v-79.3h5v79.3zM1485 197.9v-3.9h5v3.9zM1490 258.2v-23.8h5v23.8zM1495 274.7v-34.2h5v34.2zM1505 212.0v-16.5h5v16.5zM1510 236.7v-50.3h5v50.3zM1515 280.6v-5.9h5v5.9zM1520 252.0v-39.5h5v39.5zM1525 212.2v-5.3h5v5.3zM1530 295.1v-15.1h5v15.1zM1540 199.2v-3.8h5v3.8zM1545 233.5v-1.0h5v1.0zM1550 206.1v-2.5h5v2.5zM1555 231.1v-1.1h5v1.1zM1560 216.2v-2.6h5v2.6zM1565 212.0v-19.0h5v19.0zM1575 210.6v-7.5h5v7.5zM1580 234.4v-8.8h5v8.8zM1585 280.3v-65.1h5v65.1zM1590 290.2v-38.0h5v38.0zM1595 231.2v-36.0h5v36.0zM1600 282.8v-0.7h5v0.7zM1610 212.0v-24.4h5v24.4zM1620 208.6v-3.4h5v3.4zM1625 227.8v-13.5h5v13.5zM1630 226.2v-3.5h5v3.5zM1635 226.0v-3.9h5v3.9zM1640 232.7v-40.7h5v40.7zM1650 219.3v-3.9h5v3.9zM1655 197.8v-1.3h5v1.3zM1665 244.4v-0.6h5v0.6zM1670 342.7v-135.6h5v135.6zM1675 227.2v-4.4h5v4.4zM1680 216.7v-25.4h5v25.4zM1685 193.6v-3.0h5v3.0zM1695 234.0v-44.8h5v44.8zM1700 274.4v-4.0h5v4.0zM1705 203.5v-4.6h5v4.6zM1710 208.0v-17.7h5v17.7zM1720 245.0v-20.3h5v20.3z"/>
<path fill="#7d256d" d="M355 207.7v-20.6h5v20.6zM360 217.3v-5.4h5v5.4zM365 222.4v-26.3h5v26.3zM375 212.2v-13.2h5v13.2zM390 255.7v-48.3h5v48.3zM395 268.9v-68.9h5v68.9zM405 215.7v-22.8h5v22.8zM410 224.3v-25.1h5v25.1zM415 288.8v-75.0h5v75.0zM420 301.8v-80.5h5v80.5zM425 331.6v-100.7h5v100.7zM430 315.9v-97.5h5v97.5zM435 193.1v-4.7h5v4.7zM440 277.3v-66.9h5v66.9zM445 301.1v-95.9h5v95.9zM450 243.9v-31.7h5v31.7zM455 255.2v-43.7h5v43.7zM470 269.9v-70.8h5v70.8zM475 263.8v-55.2h5v55.2zM480 188.0v-1.3h5v1.3zM485 210.8v-7.1h5v7.1zM495 235.7v-18.1h5v18.1zM500 243.2v-35.8h5v35.8zM510 202.2v-15.1h5v15.1zM515 237.2v-11.5h5v11.5zM530 238.3v-16.8h5v16.8zM540 193.9v-3.0h5v3.0zM545 246.9v-57.9h5v57.9zM550 217.4v-29.9h5v29.9zM555 316.6v-109.1h5v109.1zM560 258.2v-57.9h5v57.9zM565 212.6v-27.3h5v27.3zM575 215.3v-17.2h5v17.2zM580 271.9v-85.0h5v85.0zM585 304.0v-84.0h5v84.0zM590 221.2v-35.6h5v35.6zM600 225.5v-32.4h5v32.4zM605 214.6v-28.8h5v28.8zM610 249.7v-59.4h5v59.4zM615 272.3v-66.4h5v66.4zM625 245.6v-39.4h5v39.4zM630 239.7v-19.7h5v19.7zM635 283.0v-55.4h5v55.4zM640 202.0v-1.2h5v1.2zM645 206.4v-17.9h5v17.9zM650 247.0v-49.5h5v49.5zM655 236.5v-47.0h5v47.0zM660 226.9v-11.6h5v11.6zM665 235.5v-18.8h5v18.8zM670 231.2v-22.3h5v22.3zM675 196.6v-8.2h5v8.2zM680 254.5v-42.9h5v42.9zM685 270.3v-58.6h5v58.6zM690 253.7v-52.7h5v52.7zM695 236.0v-26.2h5v26.2zM700 207.9v-5.9h5v5.9zM705 214.0v-26.9h5v26.9zM710 291.7v-87.3h5v87.3zM715 256.8v-32.0h5v32.0zM720 270.3v-89.4h5v89.4zM725 228.8v-16.1h5v16.1zM730 233.6v-45.9h5v45.9zM735 238.3v-36.5h5v36.5zM740 212.3v-25.9h5v25.9zM745 323.1v-126.6h5v126.6zM770 191.0v-3.4h5v3.4zM775 203.2v-15.2h5v15.2zM780 199.3v-16.6h5v16.6zM785 230.9v-23.7h5v23.7zM790 224.7v-41.6h5v41.6zM795 277.7v-70.8h5v70.8zM800 236.1v-41.1h5v41.1zM815 228.4v-24.6h5v24.6zM825 245.4v-24.0h5v24.0zM830 205.2v-4.5h5v4.5zM835 212.0v-19.6h5v19.6zM840 228.1v-38.9h5v38.9zM845 333.2v-151.5h5v151.5zM855 230.7v-12.4h5v12.4zM865 186.7v-4.5h5v4.5zM880 209.4v-2.5h5v2.5zM885 213.0v-16.7h5v16.7zM890 273.4v-50.0h5v50.0zM895 208.2v-22.3h5v22.3zM915 218.0v-32.4h5v32.4zM925 244.1v-56.8h5v56.8zM930 224.9v-25.6h5v25.6zM935 241.9v-26.0h5v26.0zM945 239.6v-34.9h5v34.9zM950 246.6v-59.3h5v59.3zM965 267.1v-82.0h5v82.0zM970 200.7v-10.8h5v10.8zM975 223.5v-28.1h5v28.1zM985 224.9v-32.3h5v32.3zM995 227.8v-2.5h5v2.5zM1005 247.3v-26.5h5v26.5zM1010 236.6v-45.6h5v45.6zM1015 273.3v-65.5h5v65.5zM1025 224.7v-38.3h5v38.3zM1030 282.5v-88.6h5v88.6zM1035 253.7v-24.9h5v24.9zM1040 239.3v-25.7h5v25.7zM1050 200.4v-11.2h5v11.2zM1055 219.8v-37.5h5v37.5zM1060 210.4v-11.4h5v11.4zM1065 227.3v-22.2h5v22.2zM1075 199.3v-3.2h5v3.2zM1080 273.7v-48.0h5v48.0zM1090 184.3v-1.6h5v1.6zM1095 197.5v-8.3h5v8.3zM1100 229.6v-48.4h5v48.4zM1105 207.3v-14.7h5v14.7zM1110 196.4v-3.3h5v3.3zM1115 183.4v-0.9h5v0.9zM1120 185.9v-4.0h5v4.0zM1125 226.3v-13.7h5v13.7zM1130 198.2v-0.9h5v0.9zM1135 206.2v-24.6h5v24.6zM1140 187.4v-1.2h5v1.2zM1145 193.2v-5.3h5v5.3zM1150 251.3v-14.2h5v14.2zM1160 261.2v-52.9h5v52.9zM1165 190.6v-2.0h5v2.0zM1170 206.1v-20.1h5v20.1zM1175 225.7v-37.0h5v37.0zM1180 192.6v-1.9h5v1.9zM1185 229.5v-27.2h5v27.2zM1190 204.3v-18.0h5v18.0zM1195 219.1v-24.2h5v24.2zM1200 211.5v-18.3h5v18.3zM1205 202.8v-19.5h5v19.5zM1210 275.7v-22.8h5v22.8zM1215 205.9v-25.2h5v25.2zM1220 205.9v-3.3h5v3.3zM1225 226.1v-44.6h5v44.6zM1230 202.3v-15.6h5v15.6zM1235 226.3v-13.2h5v13.2zM1245 274.2v-50.3h5v50.3zM1250 228.3v-15.6h5v15.6zM1255 206.3v-11.9h5v11.9zM1260 205.6v-3.6h5v3.6zM1270 219.4v-33.1h5v33.1zM1275 295.1v-73.3h5v73.3zM1290 202.5v-19.9h5v19.9zM1295 188.4v-3.3h5v3.3zM1300 323.9v-51.5h5v51.5zM1305 216.3v-5.2h5v5.2zM1310 196.7v-0.5h5v0.5zM1315 235.3v-46.3h5v46.3zM1320 207.5v-23.8h5v23.8zM1330 251.4v-43.9h5v43.9zM1335 216.7v-27.9h5v27.9zM1340 187.3v-3.0h5v3.0zM1345 195.0v-11.4h5v11.4zM1350 184.6v-0.3h5v0.3zM1355 195.9v-6.5h5v6.5zM1370 209.0v-0.9h5v0.9zM1375 234.4v-32.2h5v32.2zM1380 252.4v-23.6h5v23.6zM1385 221.8v-19.9h5v19.9zM1400 293.1v-104.2h5v104.2zM1405 247.4v-27.1h5v27.1zM1415 186.1v-4.6h5v4.6zM1420 205.9v-7.8h5v7.8zM1425 216.5v-35.9h5v35.9zM1430 235.1v-44.6h5v44.6zM1435 190.8v-0.3h5v0.3zM1440 287.2v-52.5h5v52.5zM1455 236.0v-28.7h5v28.7zM1460 218.2v-9.5h5v9.5zM1465 189.8v-4.9h5v4.9zM1470 226.6v-44.5h5v44.5zM1475 220.7v-6.0h5v6.0zM1480 231.5v-30.4h5v30.4zM1485 193.9v-5.2h5v5.2zM1490 234.4v-13.9h5v13.9zM1495 240.5v-15.5h5v15.5zM1500 280.0v-50.8h5v50.8zM1515 274.7v-2.4h5v2.4zM1520 212.6v-28.7h5v28.7zM1530 280.1v-65.4h5v65.4zM1535 225.3v-42.7h5v42.7zM1540 195.4v-1.7h5v1.7zM1545 232.5v-4.6h5v4.6zM1555 230.0v-47.5h5v47.5zM1565 192.9v-8.4h5v8.4zM1570 201.7v-2.5h5v2.5zM1575 203.1v-1.2h5v1.2zM1580 225.6v-2.0h5v2.0zM1585 215.2v-19.3h5v19.3zM1590 252.2v-15.4h5v15.4zM1600 282.2v-50.0h5v50.0zM1605 251.1v-43.9h5v43.9zM1610 187.6v-4.4h5v4.4zM1615 236.7v-33.0h5v33.0zM1625 214.3v-18.1h5v18.1zM1630 222.7v-39.6h5v39.6zM1635 222.1v-26.7h5v26.7zM1640 192.0v-5.4h5v5.4zM1645 264.8v-24.8h5v24.8zM1650 215.5v-32.7h5v32.7zM1655 196.5v-14.8h5v14.8zM1665 243.8v-19.5h5v19.5zM1670 207.1v-12.3h5v12.3zM1675 222.9v-3.8h5v3.8zM1680 191.4v-4.0h5v4.0zM1690 246.9v-35.2h5v35.2zM1695 189.2v-2.4h5v2.4zM1700 270.4v-1.7h5v1.7zM1705 198.9v-3.4h5v3.4zM1715 195.8v-10.1h5v10.1zM1720 224.7v-38.6h5v38.6z"/>
<path fill="#7d2555" d="M355 187.1v-4.1h5v4.1zM400 204.4v-0.5h5v0.5zM445 205.2v-2.7h5v2.7zM495 217.7v-2.0h5v2.0zM530 221.4v-1.7h5v1.7zM580 186.9v-1.0h5v1.0zM640 200.8v-0.6h5v0.6zM645 188.5v-0.4h5v0.4zM775 188.1v-0.8h5v0.8zM820 213.5v-2.3h5v2.3zM895 185.9v-1.2h5v1.2zM925 187.3v-0.8h5v0.8zM930 199.3v-1.8h5v1.8zM940 214.2v-4.1h5v4.1zM945 204.7v-0.3h5v0.3zM965 185.1v-3.5h5v3.5zM975 195.4v-1.6h5v1.6zM1115 182.5v-0.8h5v0.8zM1130 197.3v-3.0h5v3.0zM1145 187.9v-5.0h5v5.0zM1165 188.6v-4.0h5v4.0zM1230 186.7v-1.9h5v1.9zM1250 212.7v-2.2h5v2.2zM1295 185.1v-1.4h5v1.4zM1310 196.2v-3.2h5v3.2zM1315 188.9v-4.8h5v4.8zM1335 188.8v-7.9h5v7.9zM1375 202.2v-0.3h5v0.3zM1490 220.6v-4.1h5v4.1zM1550 203.6v-4.3h5v4.3zM1600 232.1v-1.5h5v1.5zM1700 268.7v-2.6h5v2.6z"/>
<path fill="#7d253d" d="M355 183.0v-2.5h5v2.5zM360 211.9v-31.4h5v31.4zM365 196.0v-15.5h5v15.5zM370 213.0v-32.5h5v32.5zM375 199.0v-18.5h5v18.5zM380 186.8v-6.3h5v6.3zM385 241.7v-61.2h5v61.2zM390 207.4v-26.9h5v26.9zM395 200.0v-19.5h5v19.5zM400 203.8v-23.3h5v23.3zM405 193.0v-12.5h5v12.5zM410 199.2v-18.7h5v18.7zM415 213.8v-33.3h5v33.3zM420 221.3v-40.8h5v40.8zM425 230.9v-50.4h5v50.4zM430 218.4v-37.9h5v37.9zM435 188.4v-7.9h5v7.9zM440 210.4v-29.9h5v29.9zM445 202.6v-22.1h5v22.1zM450 212.2v-31.7h5v31.7zM455 211.5v-31.0h5v31.0zM460 189.5v-9.0h5v9.0zM465 190.3v-9.8h5v9.8zM470 199.1v-18.6h5v18.6zM475 208.6v-28.1h5v28.1zM480 186.6v-6.1h5v6.1zM485 203.6v-23.1h5v23.1zM490 190.1v-9.6h5v9.6zM495 215.7v-35.2h5v35.2zM500 207.4v-26.9h5v26.9zM505 197.7v-17.2h5v17.2zM510 187.1v-6.6h5v6.6zM515 225.7v-45.2h5v45.2zM520 192.2v-11.7h5v11.7zM525 182.5v-2.0h5v2.0zM530 219.8v-39.3h5v39.3zM535 206.2v-25.7h5v25.7zM540 190.9v-10.4h5v10.4zM545 189.0v-8.5h5v8.5zM550 187.5v-7.0h5v7.0zM555 207.5v-27.0h5v27.0zM560 200.3v-19.8h5v19.8zM565 185.3v-4.8h5v4.8zM570 205.3v-24.8h5v24.8zM575 198.1v-17.6h5v17.6zM580 185.9v-5.4h5v5.4zM585 220.0v-39.5h5v39.5zM590 185.5v-5.0h5v5.0zM595 193.6v-13.1h5v13.1zM600 193.1v-12.6h5v12.6zM605 185.7v-5.2h5v5.2zM610 190.3v-9.8h5v9.8zM615 205.9v-25.4h5v25.4zM620 181.8v-1.3h5v1.3zM625 206.2v-25.7h5v25.7zM630 219.9v-39.4h5v39.4zM635 227.7v-47.2h5v47.2zM640 200.2v-19.7h5v19.7zM645 188.1v-7.6h5v7.6zM650 197.5v-17.0h5v17.0zM655 189.6v-9.1h5v9.1zM660 215.3v-34.8h5v34.8zM665 216.7v-36.2h5v36.2zM670 209.0v-28.5h5v28.5zM675 188.5v-8.0h5v8.0zM680 211.6v-31.1h5v31.1zM685 211.7v-31.2h5v31.2zM690 201.0v-20.5h5v20.5zM695 209.8v-29.3h5v29.3zM700 202.0v-21.5h5v21.5zM705 187.1v-6.6h5v6.6zM710 204.4v-23.9h5v23.9zM715 224.9v-44.4h5v44.4zM720 180.9v-0.4h5v0.4zM725 212.7v-32.2h5v32.2zM730 187.7v-7.2h5v7.2zM735 201.7v-21.2h5v21.2zM740 186.4v-5.9h5v5.9zM745 196.4v-15.9h5v15.9zM750 194.3v-13.8h5v13.8zM755 201.8v-21.3h5v21.3zM760 187.0v-6.5h5v6.5zM765 195.3v-14.8h5v14.8zM770 187.6v-7.1h5v7.1zM775 187.3v-6.8h5v6.8zM780 182.7v-2.2h5v2.2zM785 207.2v-26.7h5v26.7zM790 183.2v-2.7h5v2.7zM795 206.9v-26.4h5v26.4zM800 195.0v-14.5h5v14.5zM805 188.4v-7.9h5v7.9zM810 185.1v-4.6h5v4.6zM815 203.7v-23.2h5v23.2zM820 211.2v-30.7h5v30.7zM825 221.4v-40.9h5v40.9zM830 200.7v-20.2h5v20.2zM835 192.4v-11.9h5v11.9zM840 189.2v-8.7h5v8.7zM845 181.7v-1.2h5v1.2zM850 184.1v-3.6h5v3.6zM855 218.3v-37.8h5v37.8zM860 209.1v-28.6h5v28.6zM865 182.3v-1.8h5v1.8zM870 185.2v-4.7h5v4.7zM875 219.7v-39.2h5v39.2zM880 206.9v-26.4h5v26.4zM885 196.3v-15.8h5v15.8zM890 223.4v-42.9h5v42.9zM895 184.6v-4.1h5v4.1zM900 199.6v-19.1h5v19.1zM905 188.5v-8.0h5v8.0zM910 180.8v-0.3h5v0.3zM915 185.6v-5.1h5v5.1zM920 185.6v-5.1h5v5.1zM925 186.6v-6.1h5v6.1zM930 197.5v-17.0h5v17.0zM935 215.8v-35.3h5v35.3zM940 210.2v-29.7h5v29.7zM945 204.4v-23.9h5v23.9zM950 187.4v-6.9h5v6.9zM955 185.6v-5.1h5v5.1zM960 196.1v-15.6h5v15.6zM965 181.6v-1.1h5v1.1zM970 189.9v-9.4h5v9.4zM975 193.8v-13.3h5v13.3zM980 187.3v-6.8h5v6.8zM985 192.6v-12.1h5v12.1zM990 186.7v-6.2h5v6.2zM995 225.3v-44.8h5v44.8zM1000 233.8v-53.3h5v53.3zM1005 220.8v-40.3h5v40.3zM1010 191.0v-10.5h5v10.5zM1015 207.8v-27.3h5v27.3zM1020 246.0v-65.5h5v65.5zM1025 186.4v-5.9h5v5.9zM1030 193.8v-13.3h5v13.3zM1035 228.8v-48.3h5v48.3zM1040 213.6v-33.1h5v33.1zM1045 215.7v-35.2h5v35.2zM1050 189.1v-8.6h5v8.6zM1055 182.3v-1.8h5v1.8zM1060 199.0v-18.5h5v18.5zM1065 205.1v-24.6h5v24.6zM1070 196.3v-15.8h5v15.8zM1075 196.2v-15.7h5v15.7zM1080 225.7v-45.2h5v45.2zM1085 182.4v-1.9h5v1.9zM1090 182.6v-2.1h5v2.1zM1095 189.2v-8.7h5v8.7zM1100 181.3v-0.8h5v0.8zM1105 192.6v-12.1h5v12.1zM1110 193.1v-12.6h5v12.6zM1115 181.7v-1.2h5v1.2zM1120 181.9v-1.4h5v1.4zM1125 212.5v-32.0h5v32.0zM1130 194.2v-13.7h5v13.7zM1135 181.6v-1.1h5v1.1zM1140 186.2v-5.7h5v5.7zM1145 182.8v-2.3h5v2.3zM1150 237.1v-56.6h5v56.6zM1155 182.2v-1.7h5v1.7zM1160 208.3v-27.8h5v27.8zM1165 184.6v-4.1h5v4.1zM1170 186.0v-5.5h5v5.5zM1175 188.7v-8.2h5v8.2zM1180 190.7v-10.2h5v10.2zM1185 202.3v-21.8h5v21.8zM1190 186.3v-5.8h5v5.8zM1195 194.9v-14.4h5v14.4zM1200 193.2v-12.7h5v12.7zM1205 183.3v-2.8h5v2.8zM1210 252.9v-72.4h5v72.4zM1220 202.5v-22.0h5v22.0zM1225 181.6v-1.1h5v1.1zM1230 184.8v-4.3h5v4.3zM1235 213.1v-32.6h5v32.6zM1240 242.6v-62.1h5v62.1zM1245 223.9v-43.4h5v43.4zM1250 210.5v-30.0h5v30.0zM1255 194.5v-14.0h5v14.0zM1260 202.1v-21.6h5v21.6zM1265 198.1v-17.6h5v17.6zM1270 186.4v-5.9h5v5.9zM1275 221.8v-41.3h5v41.3zM1280 239.2v-58.7h5v58.7zM1285 212.3v-31.8h5v31.8zM1290 182.6v-2.1h5v2.1zM1295 183.7v-3.2h5v3.2zM1300 272.4v-91.9h5v91.9zM1305 211.1v-30.6h5v30.6zM1310 193.0v-12.5h5v12.5zM1315 184.1v-3.6h5v3.6zM1320 183.6v-3.1h5v3.1zM1325 193.9v-13.4h5v13.4zM1330 207.5v-27.0h5v27.0zM1335 180.9v-0.4h5v0.4zM1340 184.3v-3.8h5v3.8zM1345 183.6v-3.1h5v3.1zM1350 184.3v-3.8h5v3.8zM1355 189.4v-8.9h5v8.9zM1360 208.2v-27.7h5v27.7zM1365 181.7v-1.2h5v1.2zM1370 208.2v-27.7h5v27.7zM1375 201.9v-21.4h5v21.4zM1380 228.9v-48.4h5v48.4zM1385 201.9v-21.4h5v21.4zM1390 193.5v-13.0h5v13.0zM1395 188.4v-7.9h5v7.9zM1400 188.8v-8.3h5v8.3zM1405 220.4v-39.9h5v39.9zM1410 187.9v-7.4h5v7.4zM1415 181.5v-1.0h5v1.0zM1420 198.1v-17.6h5v17.6zM1430 190.5v-10.0h5v10.0zM1435 190.5v-10.0h5v10.0zM1440 234.8v-54.3h5v54.3zM1445 206.3v-25.8h5v25.8zM1450 211.3v-30.8h5v30.8zM1455 207.3v-26.8h5v26.8zM1460 208.7v-28.2h5v28.2zM1465 184.8v-4.3h5v4.3zM1470 182.1v-1.6h5v1.6zM1475 214.7v-34.2h5v34.2zM1480 201.1v-20.6h5v20.6zM1485 188.7v-8.2h5v8.2zM1490 216.5v-36.0h5v36.0zM1495 224.9v-44.4h5v44.4zM1500 229.2v-48.7h5v48.7zM1505 195.5v-15.0h5v15.0zM1510 186.4v-5.9h5v5.9zM1515 272.3v-91.8h5v91.8zM1520 183.9v-3.4h5v3.4zM1525 206.9v-26.4h5v26.4zM1530 214.7v-34.2h5v34.2zM1535 182.6v-2.1h5v2.1zM1540 193.6v-13.1h5v13.1zM1545 227.9v-47.4h5v47.4zM1550 199.3v-18.8h5v18.8zM1555 182.6v-2.1h5v2.1zM1560 213.6v-33.1h5v33.1zM1565 184.5v-4.0h5v4.0zM1570 199.2v-18.7h5v18.7zM1575 201.9v-21.4h5v21.4zM1580 223.6v-43.1h5v43.1zM1585 195.9v-15.4h5v15.4zM1590 236.9v-56.4h5v56.4zM1595 195.2v-14.7h5v14.7zM1600 230.6v-50.1h5v50.1zM1605 207.2v-26.7h5v26.7zM1610 183.2v-2.7h5v2.7zM1615 203.7v-23.2h5v23.2zM1620 205.3v-24.8h5v24.8zM1625 196.2v-15.7h5v15.7zM1630 183.0v-2.5h5v2.5zM1635 195.4v-14.9h5v14.9zM1640 186.7v-6.2h5v6.2zM1645 240.0v-59.5h5v59.5zM1650 182.7v-2.2h5v2.2zM1655 181.7v-1.2h5v1.2zM1660 181.7v-1.2h5v1.2zM1665 224.2v-43.7h5v43.7zM1670 194.7v-14.2h5v14.2zM1675 219.1v-38.6h5v38.6zM1680 187.3v-6.8h5v6.8zM1685 190.6v-10.1h5v10.1zM1690 211.6v-31.1h5v31.1zM1695 186.8v-6.3h5v6.3zM1700 266.1v-85.6h5v85.6zM1705 195.5v-15.0h5v15.0zM1710 190.4v-9.9h5v9.9zM1715 185.7v-5.2h5v5.2zM1720 186.1v-5.6h5v5.6z"/>
</g>
<line x1="301" y1="180.5" x2="301" y2="1115.5" stroke="#8c8c8c" stroke-width="3"/>
<line x1="289" y1="1115.0" x2="302.5" y2="1115.0" stroke="#222" stroke-width="1.6"/>
<text transform="translate(296.5 1131.5) scale(0.9 1)" text-anchor="end" font-size="46">0%</text>
<line x1="289" y1="928.1" x2="302.5" y2="928.1" stroke="#222" stroke-width="1.6"/>
<text transform="translate(296.5 944.6) scale(0.9 1)" text-anchor="end" font-size="46">20%</text>
<line x1="289" y1="741.2" x2="302.5" y2="741.2" stroke="#222" stroke-width="1.6"/>
<text transform="translate(296.5 757.7) scale(0.9 1)" text-anchor="end" font-size="46">40%</text>
<line x1="289" y1="554.3" x2="302.5" y2="554.3" stroke="#222" stroke-width="1.6"/>
<text transform="translate(296.5 570.8) scale(0.9 1)" text-anchor="end" font-size="46">60%</text>
<line x1="289" y1="367.4" x2="302.5" y2="367.4" stroke="#222" stroke-width="1.6"/>
<text transform="translate(296.5 383.9) scale(0.9 1)" text-anchor="end" font-size="46">80%</text>
<line x1="289" y1="180.5" x2="302.5" y2="180.5" stroke="#222" stroke-width="1.6"/>
<text transform="translate(296.5 197.0) scale(0.9 1)" text-anchor="end" font-size="46">100%</text>
<text transform="translate(194 651) rotate(-90)" text-anchor="middle" font-size="46">Relative Percent</text>
<rect x="355.0" y="1126" width="715.0" height="46" fill="#2f7cc0" stroke="#3a3a3a" stroke-width="2.2"/>
<rect x="1070.0" y="1126" width="655.0" height="46" fill="#eb5557" stroke="#3a3a3a" stroke-width="2.2"/>
<text transform="translate(710.5 1168.5) scale(0.9 1)" text-anchor="middle" font-size="57">Control</text>
<text transform="translate(1398.5 1168.5) scale(0.9 1)" text-anchor="middle" font-size="57">Treat</text>
<rect x="1770" y="213.0" width="11.5" height="11.5" fill="#b23636"/>
<text transform="translate(1801 230.0) scale(0.9 1)" font-size="31">B cells naive</text>
<rect x="1770" y="250.1" width="11.5" height="11.5" fill="#b25836"/>
<text transform="translate(1801 267.1) scale(0.9 1)" font-size="31">B cells memory</text>
<rect x="1770" y="287.2" width="11.5" height="11.5" fill="#b27a36"/>
<text transform="translate(1801 304.2) scale(0.9 1)" font-size="31">Plasma cells</text>
<rect x="1770" y="324.3" width="11.5" height="11.5" fill="#b29c36"/>
<text transform="translate(1801 341.3) scale(0.9 1)" font-size="31">T cells CD8</text>
<rect x="1770" y="361.4" width="11.5" height="11.5" fill="#a7b236"/>
<text transform="translate(1801 378.4) scale(0.9 1)" font-size="31">T cells CD4 naive</text>
<rect x="1770" y="398.5" width="11.5" height="11.5" fill="#85b236"/>
<text transform="translate(1801 415.5) scale(0.9 1)" font-size="31">T cells CD4 memory resting</text>
<rect x="1770" y="435.6" width="11.5" height="11.5" fill="#63b236"/>
<text transform="translate(1801 452.6) scale(0.9 1)" font-size="31">T cells CD4 memory activated</text>
<rect x="1770" y="472.7" width="11.5" height="11.5" fill="#41b236"/>
<text transform="translate(1801 489.7) scale(0.9 1)" font-size="31">T cells follicular helper</text>
<rect x="1770" y="509.8" width="11.5" height="11.5" fill="#36b24c"/>
<text transform="translate(1801 526.8) scale(0.9 1)" font-size="31">T cells regulatory (Tregs)</text>
<rect x="1770" y="546.9" width="11.5" height="11.5" fill="#36b26e"/>
<text transform="translate(1801 563.9) scale(0.9 1)" font-size="31">T cells gamma delta</text>
<rect x="1770" y="584.0" width="11.5" height="11.5" fill="#36b290"/>
<text transform="translate(1801 601.0) scale(0.9 1)" font-size="31">NK cells resting</text>
<rect x="1770" y="621.1" width="11.5" height="11.5" fill="#36b2b2"/>
<text transform="translate(1801 638.1) scale(0.9 1)" font-size="31">NK cells activated</text>
<rect x="1770" y="658.2" width="11.5" height="11.5" fill="#3690b2"/>
<text transform="translate(1801 675.2) scale(0.9 1)" font-size="31">Monocytes</text>
<rect x="1770" y="695.3" width="11.5" height="11.5" fill="#366eb2"/>
<text transform="translate(1801 712.3) scale(0.9 1)" font-size="31">Macrophages M0</text>
<rect x="1770" y="732.4" width="11.5" height="11.5" fill="#364cb2"/>
<text transform="translate(1801 749.4) scale(0.9 1)" font-size="31">Macrophages M1</text>
<rect x="1770" y="769.5" width="11.5" height="11.5" fill="#4136b2"/>
<text transform="translate(1801 786.5) scale(0.9 1)" font-size="31">Macrophages M2</text>
<rect x="1770" y="806.6" width="11.5" height="11.5" fill="#6336b2"/>
<text transform="translate(1801 823.6) scale(0.9 1)" font-size="31">Dendritic cells resting</text>
<rect x="1770" y="843.7" width="11.5" height="11.5" fill="#8536b2"/>
<text transform="translate(1801 860.7) scale(0.9 1)" font-size="31">Dendritic cells activated</text>
<rect x="1770" y="880.8" width="11.5" height="11.5" fill="#a736b2"/>
<text transform="translate(1801 897.8) scale(0.9 1)" font-size="31">Mast cells resting</text>
<rect x="1770" y="917.9" width="11.5" height="11.5" fill="#b2369c"/>
<text transform="translate(1801 934.9) scale(0.9 1)" font-size="31">Mast cells activated</text>
<rect x="1770" y="955.0" width="11.5" height="11.5" fill="#b2367a"/>
<text transform="translate(1801 972.0) scale(0.9 1)" font-size="31">Eosinophils</text>
<rect x="1770" y="992.1" width="11.5" height="11.5" fill="#b23658"/>
<text transform="translate(1801 1009.1) scale(0.9 1)" font-size="31">Neutrophils</text>
<text x="46.5" y="71.5" class="sf" font-size="56">A</text>
</g>
<g id="panelB">
<g stroke="#0a0a0a" stroke-width="2.8" stroke-linejoin="miter" fill="none">
<line x1="214.9" y1="2373.6" x2="214.9" y2="2320.7"/>
<polygon fill="#2f7cc0" points="195.8,2373.6 195.8,2407.5 205.3,2412.6 195.8,2417.7 195.8,2412.6 233.9,2412.6 233.9,2417.7 224.4,2412.6 233.9,2407.5 233.9,2373.6"/>
<line stroke-width="5.4" x1="205.3" y1="2412.6" x2="224.4" y2="2412.6"/>
<line x1="252.9" y1="2388.9" x2="252.9" y2="2359.2"/>
<polygon fill="#eb5557" points="233.9,2388.9 233.9,2409.3 243.4,2412.6 233.9,2415.9 233.9,2412.6 272.0,2412.6 272.0,2415.9 262.5,2412.6 272.0,2409.3 272.0,2388.9"/>
<line stroke-width="5.4" x1="243.4" y1="2412.6" x2="262.5" y2="2412.6"/>
<line x1="310.1" y1="2305.5" x2="310.1" y2="2145.8"/>
<polygon fill="#2f7cc0" points="291.1,2305.5 291.1,2352.5 300.6,2366.7 291.1,2380.8 291.1,2412.6 329.2,2412.6 329.2,2380.8 319.7,2366.7 329.2,2352.5 329.2,2305.5"/>
<line stroke-width="5.4" x1="300.6" y1="2366.7" x2="319.7" y2="2366.7"/>
<line x1="348.2" y1="2308.9" x2="348.2" y2="2203.6"/>
<line x1="348.2" y1="2397.8" x2="348.2" y2="2412.6"/>
<polygon fill="#eb5557" points="329.2,2308.9 329.2,2347.0 338.7,2359.2 329.2,2371.5 329.2,2397.8 367.3,2397.8 367.3,2371.5 357.8,2359.2 367.3,2347.0 367.3,2308.9"/>
<line stroke-width="5.4" x1="338.7" y1="2359.2" x2="357.8" y2="2359.2"/>
<line x1="405.4" y1="2285.7" x2="405.4" y2="2200.7"/>
<line x1="405.4" y1="2347.4" x2="405.4" y2="2412.6"/>
<polygon fill="#2f7cc0" points="386.4,2285.7 386.4,2316.6 395.9,2324.7 386.4,2332.9 386.4,2347.4 424.5,2347.4 424.5,2332.9 415.0,2324.7 424.5,2316.6 424.5,2285.7"/>
<line stroke-width="5.4" x1="395.9" y1="2324.7" x2="415.0" y2="2324.7"/>
<line x1="443.6" y1="2314.8" x2="443.6" y2="2236.8"/>
<line x1="443.6" y1="2372.6" x2="443.6" y2="2412.6"/>
<polygon fill="#eb5557" points="424.5,2314.8 424.5,2337.9 434.0,2345.9 424.5,2353.9 424.5,2372.6 462.6,2372.6 462.6,2353.9 453.1,2345.9 462.6,2337.9 462.6,2314.8"/>
<line stroke-width="5.4" x1="434.0" y1="2345.9" x2="453.1" y2="2345.9"/>
<line x1="500.7" y1="2134.0" x2="500.7" y2="1895.4"/>
<line x1="500.7" y1="2295.8" x2="500.7" y2="2412.6"/>
<polygon fill="#2f7cc0" points="481.7,2134.0 481.7,2209.1 491.2,2230.5 481.7,2251.8 481.7,2295.8 519.8,2295.8 519.8,2251.8 510.3,2230.5 519.8,2209.1 519.8,2134.0"/>
<line stroke-width="5.4" x1="491.2" y1="2230.5" x2="510.3" y2="2230.5"/>
<line x1="538.8" y1="2145.8" x2="538.8" y2="1916.1"/>
<line x1="538.8" y1="2307.8" x2="538.8" y2="2412.6"/>
<polygon fill="#eb5557" points="519.8,2145.8 519.8,2228.7 529.3,2251.1 519.8,2273.4 519.8,2307.8 557.9,2307.8 557.9,2273.4 548.4,2251.1 557.9,2228.7 557.9,2145.8"/>
<line stroke-width="5.4" x1="529.3" y1="2251.1" x2="548.4" y2="2251.1"/>
<line x1="596.0" y1="2409.6" x2="596.0" y2="2406.7"/>
<polygon fill="#2f7cc0" points="577.0,2409.6 577.0,2412.2 586.5,2412.6 577.0,2413.0 577.0,2412.6 615.1,2412.6 615.1,2413.0 605.6,2412.6 615.1,2412.2 615.1,2409.6"/>
<line stroke-width="5.4" x1="586.5" y1="2412.6" x2="605.6" y2="2412.6"/>
<line x1="634.2" y1="2409.6" x2="634.2" y2="2406.7"/>
<polygon fill="#eb5557" points="615.1,2409.6 615.1,2412.2 624.6,2412.6 615.1,2413.0 615.1,2412.6 653.2,2412.6 653.2,2413.0 643.7,2412.6 653.2,2412.2 653.2,2409.6"/>
<line stroke-width="5.4" x1="624.6" y1="2412.6" x2="643.7" y2="2412.6"/>
<line x1="691.3" y1="2190.3" x2="691.3" y2="2005.0"/>
<line x1="691.3" y1="2392.0" x2="691.3" y2="2412.6"/>
<polygon fill="#2f7cc0" points="672.3,2190.3 672.3,2260.6 681.8,2287.2 672.3,2313.9 672.3,2392.0 710.4,2392.0 710.4,2313.9 700.9,2287.2 710.4,2260.6 710.4,2190.3"/>
<line stroke-width="5.4" x1="681.8" y1="2287.2" x2="700.9" y2="2287.2"/>
<line x1="729.5" y1="2206.6" x2="729.5" y2="1923.5"/>
<polygon fill="#eb5557" points="710.4,2206.6 710.4,2302.1 719.9,2330.5 710.4,2358.9 710.4,2412.6 748.5,2412.6 748.5,2358.9 739.0,2330.5 748.5,2302.1 748.5,2206.6"/>
<line stroke-width="5.4" x1="719.9" y1="2330.5" x2="739.0" y2="2330.5"/>
<line x1="786.6" y1="2405.2" x2="786.6" y2="2397.8"/>
<polygon fill="#2f7cc0" points="767.6,2405.2 767.6,2411.6 777.1,2412.6 767.6,2413.6 767.6,2412.6 805.7,2412.6 805.7,2413.6 796.2,2412.6 805.7,2411.6 805.7,2405.2"/>
<line stroke-width="5.4" x1="777.1" y1="2412.6" x2="796.2" y2="2412.6"/>
<line x1="824.8" y1="2385.9" x2="824.8" y2="2354.8"/>
<polygon fill="#eb5557" points="805.7,2385.9 805.7,2407.4 815.2,2411.1 805.7,2414.8 805.7,2412.6 843.8,2412.6 843.8,2414.8 834.3,2411.1 843.8,2407.4 843.8,2385.9"/>
<line stroke-width="5.4" x1="815.2" y1="2411.1" x2="834.3" y2="2411.1"/>
<line x1="882.0" y1="2347.4" x2="882.0" y2="2286.6"/>
<line x1="882.0" y1="2391.9" x2="882.0" y2="2412.6"/>
<polygon fill="#2f7cc0" points="862.9,2347.4 862.9,2359.3 872.4,2365.2 862.9,2371.1 862.9,2391.9 901.0,2391.9 901.0,2371.1 891.5,2365.2 901.0,2359.3 901.0,2347.4"/>
<line stroke-width="5.4" x1="872.4" y1="2365.2" x2="891.5" y2="2365.2"/>
<line x1="920.0" y1="2330.2" x2="920.0" y2="2251.1"/>
<line x1="920.0" y1="2401.3" x2="920.0" y2="2412.6"/>
<polygon fill="#eb5557" points="901.0,2330.2 901.0,2351.7 910.5,2361.5 901.0,2371.3 901.0,2401.3 939.1,2401.3 939.1,2371.3 929.6,2361.5 939.1,2351.7 939.1,2330.2"/>
<line stroke-width="5.4" x1="910.5" y1="2361.5" x2="929.6" y2="2361.5"/>
<line x1="977.2" y1="2402.2" x2="977.2" y2="2387.9"/>
<polygon fill="#2f7cc0" points="958.2,2402.2 958.2,2411.2 967.7,2412.6 958.2,2414.0 958.2,2412.6 996.3,2412.6 996.3,2414.0 986.8,2412.6 996.3,2411.2 996.3,2402.2"/>
<line stroke-width="5.4" x1="967.7" y1="2412.6" x2="986.8" y2="2412.6"/>
<line x1="1015.3" y1="2383.0" x2="1015.3" y2="2342.2"/>
<polygon fill="#eb5557" points="996.3,2383.0 996.3,2408.5 1005.8,2412.6 996.3,2416.7 996.3,2412.6 1034.4,2412.6 1034.4,2416.7 1024.9,2412.6 1034.4,2408.5 1034.4,2383.0"/>
<line stroke-width="5.4" x1="1005.8" y1="2412.6" x2="1024.9" y2="2412.6"/>
<line x1="1072.5" y1="2229.4" x2="1072.5" y2="2065.1"/>
<line x1="1072.5" y1="2363.7" x2="1072.5" y2="2412.6"/>
<polygon fill="#2f7cc0" points="1053.5,2229.4 1053.5,2264.4 1063.0,2282.2 1053.5,2299.9 1053.5,2363.7 1091.6,2363.7 1091.6,2299.9 1082.1,2282.2 1091.6,2264.4 1091.6,2229.4"/>
<line stroke-width="5.4" x1="1063.0" y1="2282.2" x2="1082.1" y2="2282.2"/>
<line x1="1110.6" y1="2300.0" x2="1110.6" y2="2151.8"/>
<polygon fill="#eb5557" points="1091.6,2300.0 1091.6,2364.4 1101.1,2380.0 1091.6,2395.5 1091.6,2412.6 1129.7,2412.6 1129.7,2395.5 1120.2,2380.0 1129.7,2364.4 1129.7,2300.0"/>
<line stroke-width="5.4" x1="1101.1" y1="2380.0" x2="1120.2" y2="2380.0"/>
<polygon fill="#2f7cc0" points="1148.8,2412.6 1148.8,2412.6 1158.3,2412.6 1148.8,2412.6 1148.8,2412.6 1186.9,2412.6 1186.9,2412.6 1177.4,2412.6 1186.9,2412.6 1186.9,2412.6"/>
<line stroke-width="5.4" x1="1158.3" y1="2412.6" x2="1177.4" y2="2412.6"/>
<polygon fill="#eb5557" points="1186.9,2412.6 1186.9,2412.6 1196.4,2412.6 1186.9,2412.6 1186.9,2412.6 1225.0,2412.6 1225.0,2412.6 1215.5,2412.6 1225.0,2412.6 1225.0,2412.6"/>
<line stroke-width="5.4" x1="1196.4" y1="2412.6" x2="1215.5" y2="2412.6"/>
<line x1="1263.2" y1="2306.2" x2="1263.2" y2="2186.2"/>
<line x1="1263.2" y1="2387.0" x2="1263.2" y2="2412.6"/>
<polygon fill="#2f7cc0" points="1244.1,2306.2 1244.1,2333.0 1253.6,2343.7 1244.1,2354.4 1244.1,2387.0 1282.2,2387.0 1282.2,2354.4 1272.7,2343.7 1282.2,2333.0 1282.2,2306.2"/>
<line stroke-width="5.4" x1="1253.6" y1="2343.7" x2="1272.7" y2="2343.7"/>
<line x1="1301.2" y1="2289.6" x2="1301.2" y2="2194.7"/>
<line x1="1301.2" y1="2369.6" x2="1301.2" y2="2412.6"/>
<polygon fill="#eb5557" points="1282.2,2289.6 1282.2,2319.2 1291.7,2330.2 1282.2,2341.2 1282.2,2369.6 1320.3,2369.6 1320.3,2341.2 1310.8,2330.2 1320.3,2319.2 1320.3,2289.6"/>
<line stroke-width="5.4" x1="1291.7" y1="2330.2" x2="1310.8" y2="2330.2"/>
<line x1="1358.5" y1="2366.7" x2="1358.5" y2="2304.4"/>
<polygon fill="#2f7cc0" points="1339.4,2366.7 1339.4,2393.9 1348.9,2400.0 1339.4,2406.1 1339.4,2412.6 1377.5,2412.6 1377.5,2406.1 1368.0,2400.0 1377.5,2393.9 1377.5,2366.7"/>
<line stroke-width="5.4" x1="1348.9" y1="2400.0" x2="1368.0" y2="2400.0"/>
<line x1="1396.5" y1="2372.6" x2="1396.5" y2="2322.2"/>
<polygon fill="#eb5557" points="1377.5,2372.6 1377.5,2399.7 1387.0,2405.2 1377.5,2410.7 1377.5,2412.6 1415.6,2412.6 1415.6,2410.7 1406.1,2405.2 1415.6,2399.7 1415.6,2372.6"/>
<line stroke-width="5.4" x1="1387.0" y1="2405.2" x2="1406.1" y2="2405.2"/>
<line x1="1453.8" y1="2374.1" x2="1453.8" y2="2334.1"/>
<polygon fill="#2f7cc0" points="1434.7,2374.1 1434.7,2407.5 1444.2,2412.6 1434.7,2417.7 1434.7,2412.6 1472.8,2412.6 1472.8,2417.7 1463.3,2412.6 1472.8,2407.5 1472.8,2374.1"/>
<line stroke-width="5.4" x1="1444.2" y1="2412.6" x2="1463.3" y2="2412.6"/>
<line x1="1491.8" y1="2111.8" x2="1491.8" y2="1760.5"/>
<line x1="1491.8" y1="2371.1" x2="1491.8" y2="2412.6"/>
<polygon fill="#eb5557" points="1472.8,2111.8 1472.8,2217.6 1482.3,2253.4 1472.8,2289.2 1472.8,2371.1 1510.9,2371.1 1510.9,2289.2 1501.4,2253.4 1510.9,2217.6 1510.9,2111.8"/>
<line stroke-width="5.4" x1="1482.3" y1="2253.4" x2="1501.4" y2="2253.4"/>
<line x1="1549.1" y1="2119.2" x2="1549.1" y2="2021.8"/>
<line x1="1549.1" y1="2212.5" x2="1549.1" y2="2325.2"/>
<polygon fill="#2f7cc0" points="1530.0,2119.2 1530.0,2150.7 1539.5,2163.0 1530.0,2175.4 1530.0,2212.5 1568.1,2212.5 1568.1,2175.4 1558.6,2163.0 1568.1,2150.7 1568.1,2119.2"/>
<line stroke-width="5.4" x1="1539.5" y1="2163.0" x2="1558.6" y2="2163.0"/>
<line x1="1587.2" y1="2160.7" x2="1587.2" y2="1972.4"/>
<line x1="1587.2" y1="2294.0" x2="1587.2" y2="2412.6"/>
<polygon fill="#eb5557" points="1568.1,2160.7 1568.1,2226.7 1577.6,2245.1 1568.1,2263.5 1568.1,2294.0 1606.2,2294.0 1606.2,2263.5 1596.7,2245.1 1606.2,2226.7 1606.2,2160.7"/>
<line stroke-width="5.4" x1="1577.6" y1="2245.1" x2="1596.7" y2="2245.1"/>
<line x1="1644.4" y1="2141.4" x2="1644.4" y2="1976.9"/>
<line x1="1644.4" y1="2284.6" x2="1644.4" y2="2412.6"/>
<polygon fill="#2f7cc0" points="1625.3,2141.4 1625.3,2193.6 1634.8,2212.5 1625.3,2231.4 1625.3,2284.6 1663.4,2284.6 1663.4,2231.4 1653.9,2212.5 1663.4,2193.6 1663.4,2141.4"/>
<line stroke-width="5.4" x1="1634.8" y1="2212.5" x2="1653.9" y2="2212.5"/>
<line x1="1682.5" y1="2212.5" x2="1682.5" y2="2060.3"/>
<line x1="1682.5" y1="2331.7" x2="1682.5" y2="2412.6"/>
<polygon fill="#eb5557" points="1663.4,2212.5 1663.4,2246.5 1672.9,2262.9 1663.4,2279.4 1663.4,2331.7 1701.5,2331.7 1701.5,2279.4 1692.0,2262.9 1701.5,2246.5 1701.5,2212.5"/>
<line stroke-width="5.4" x1="1672.9" y1="2262.9" x2="1692.0" y2="2262.9"/>
<line x1="1739.7" y1="2350.9" x2="1739.7" y2="2316.3"/>
<line x1="1739.7" y1="2384.4" x2="1739.7" y2="2412.6"/>
<polygon fill="#2f7cc0" points="1720.6,2350.9 1720.6,2363.7 1730.1,2368.1 1720.6,2372.6 1720.6,2384.4 1758.7,2384.4 1758.7,2372.6 1749.2,2368.1 1758.7,2363.7 1758.7,2350.9"/>
<line stroke-width="5.4" x1="1730.1" y1="2368.1" x2="1749.2" y2="2368.1"/>
<line x1="1777.8" y1="2320.7" x2="1777.8" y2="2221.4"/>
<line x1="1777.8" y1="2390.4" x2="1777.8" y2="2412.6"/>
<polygon fill="#eb5557" points="1758.7,2320.7 1758.7,2350.4 1768.2,2360.0 1758.7,2369.6 1758.7,2390.4 1796.8,2390.4 1796.8,2369.6 1787.3,2360.0 1796.8,2350.4 1796.8,2320.7"/>
<line stroke-width="5.4" x1="1768.2" y1="2360.0" x2="1787.3" y2="2360.0"/>
<polygon fill="#2f7cc0" points="1815.9,2412.6 1815.9,2412.6 1825.4,2412.6 1815.9,2412.6 1815.9,2412.6 1854.0,2412.6 1854.0,2412.6 1844.5,2412.6 1854.0,2412.6 1854.0,2412.6"/>
<line stroke-width="5.4" x1="1825.4" y1="2412.6" x2="1844.5" y2="2412.6"/>
<line x1="1873.0" y1="2409.6" x2="1873.0" y2="2408.2"/>
<polygon fill="#eb5557" points="1854.0,2409.6 1854.0,2412.2 1863.5,2412.6 1854.0,2413.0 1854.0,2412.6 1892.1,2412.6 1892.1,2413.0 1882.6,2412.6 1892.1,2412.2 1892.1,2409.6"/>
<line stroke-width="5.4" x1="1863.5" y1="2412.6" x2="1882.6" y2="2412.6"/>
<line x1="1930.2" y1="2381.8" x2="1930.2" y2="2343.7"/>
<polygon fill="#2f7cc0" points="1911.2,2381.8 1911.2,2408.5 1920.7,2412.6 1911.2,2416.7 1911.2,2412.6 1949.3,2412.6 1949.3,2416.7 1939.8,2412.6 1949.3,2408.5 1949.3,2381.8"/>
<line stroke-width="5.4" x1="1920.7" y1="2412.6" x2="1939.8" y2="2412.6"/>
<line x1="1968.3" y1="2349.6" x2="1968.3" y2="2264.4"/>
<polygon fill="#eb5557" points="1949.3,2349.6 1949.3,2393.5 1958.8,2402.2 1949.3,2410.9 1949.3,2412.6 1987.4,2412.6 1987.4,2410.9 1977.9,2402.2 1987.4,2393.5 1987.4,2349.6"/>
<line stroke-width="5.4" x1="1958.8" y1="2402.2" x2="1977.9" y2="2402.2"/>
<line x1="2025.6" y1="2332.9" x2="2025.6" y2="2215.0"/>
<polygon fill="#2f7cc0" points="2006.5,2332.9 2006.5,2357.6 2016.0,2368.1 2006.5,2378.7 2006.5,2412.6 2044.6,2412.6 2044.6,2378.7 2035.1,2368.1 2044.6,2357.6 2044.6,2332.9"/>
<line stroke-width="5.4" x1="2016.0" y1="2368.1" x2="2035.1" y2="2368.1"/>
<line x1="2063.7" y1="2363.1" x2="2063.7" y2="2291.8"/>
<polygon fill="#eb5557" points="2044.6,2363.1 2044.6,2393.2 2054.1,2400.0 2044.6,2406.8 2044.6,2412.6 2082.7,2412.6 2082.7,2406.8 2073.2,2400.0 2082.7,2393.2 2082.7,2363.1"/>
<line stroke-width="5.4" x1="2054.1" y1="2400.0" x2="2073.2" y2="2400.0"/>
<polygon fill="#2f7cc0" points="2101.8,2412.6 2101.8,2412.6 2111.3,2412.6 2101.8,2412.6 2101.8,2412.6 2139.9,2412.6 2139.9,2412.6 2130.4,2412.6 2139.9,2412.6 2139.9,2412.6"/>
<line stroke-width="5.4" x1="2111.3" y1="2412.6" x2="2130.4" y2="2412.6"/>
<polygon fill="#eb5557" points="2139.9,2412.6 2139.9,2412.6 2149.4,2412.6 2139.9,2412.6 2139.9,2412.6 2178.0,2412.6 2178.0,2412.6 2168.5,2412.6 2178.0,2412.6 2178.0,2412.6"/>
<line stroke-width="5.4" x1="2149.4" y1="2412.6" x2="2168.5" y2="2412.6"/>
<line x1="2216.1" y1="2364.1" x2="2216.1" y2="2320.7"/>
<line x1="2216.1" y1="2397.8" x2="2216.1" y2="2412.6"/>
<polygon fill="#2f7cc0" points="2197.1,2364.1 2197.1,2374.8 2206.6,2379.3 2197.1,2383.7 2197.1,2397.8 2235.2,2397.8 2235.2,2383.7 2225.7,2379.3 2235.2,2374.8 2235.2,2364.1"/>
<line stroke-width="5.4" x1="2206.6" y1="2379.3" x2="2225.7" y2="2379.3"/>
<line x1="2254.2" y1="2354.8" x2="2254.2" y2="2292.0"/>
<line x1="2254.2" y1="2405.6" x2="2254.2" y2="2412.6"/>
<polygon fill="#eb5557" points="2235.2,2354.8 2235.2,2377.4 2244.7,2384.4 2235.2,2391.5 2235.2,2405.6 2273.3,2405.6 2273.3,2391.5 2263.8,2384.4 2273.3,2377.4 2273.3,2354.8"/>
<line stroke-width="5.4" x1="2244.7" y1="2384.4" x2="2263.8" y2="2384.4"/>
<path d="M178 1535V2453.5H2291.6" stroke-width="3"/>
<path d="M233.9 2453.5v11.5M329.2 2453.5v11.5M424.5 2453.5v11.5M519.8 2453.5v11.5M615.1 2453.5v11.5M710.4 2453.5v11.5M805.7 2453.5v11.5M901.0 2453.5v11.5M996.3 2453.5v11.5M1091.6 2453.5v11.5M1186.9 2453.5v11.5M1282.2 2453.5v11.5M1377.5 2453.5v11.5M1472.8 2453.5v11.5M1568.1 2453.5v11.5M1663.4 2453.5v11.5M1758.7 2453.5v11.5M1854.0 2453.5v11.5M1949.3 2453.5v11.5M2044.6 2453.5v11.5M2139.9 2453.5v11.5M2235.2 2453.5v11.5M178 2412.6h-12M178 2116.2h-12M178 1819.8h-12" stroke-width="3"/>
</g>
<g fill="#0a0a0a"><circle cx="214.9" cy="2305.9" r="9.1"/><circle cx="214.9" cy="2268.1" r="9.1"/><circle cx="214.9" cy="2224.4" r="9.1"/><circle cx="214.9" cy="2217.0" r="9.1"/><circle cx="252.9" cy="2354.8" r="9.1"/><circle cx="252.9" cy="2345.2" r="9.1"/><circle cx="252.9" cy="2335.5" r="9.1"/><circle cx="252.9" cy="2325.9" r="9.1"/><circle cx="252.9" cy="2316.3" r="9.1"/><circle cx="252.9" cy="2286.6" r="9.1"/><circle cx="252.9" cy="2273.3" r="9.1"/><circle cx="252.9" cy="2230.3" r="9.1"/><circle cx="310.1" cy="2135.5" r="9.1"/><circle cx="348.2" cy="2175.5" r="9.1"/><circle cx="348.2" cy="2159.2" r="9.1"/><circle cx="405.4" cy="2193.3" r="9.1"/><circle cx="405.4" cy="2172.5" r="9.1"/><circle cx="405.4" cy="2117.7" r="9.1"/><circle cx="405.4" cy="2097.4" r="9.1"/><circle cx="443.6" cy="2227.3" r="9.1"/><circle cx="443.6" cy="2212.5" r="9.1"/><circle cx="443.6" cy="2177.0" r="9.1"/><circle cx="443.6" cy="2160.7" r="9.1"/><circle cx="443.6" cy="2132.5" r="9.1"/><circle cx="443.6" cy="2122.1" r="9.1"/><circle cx="443.6" cy="2090.3" r="9.1"/><circle cx="500.7" cy="1832.1" r="9.1"/><circle cx="538.8" cy="1805.0" r="9.1"/><circle cx="538.8" cy="1763.5" r="9.1"/><circle cx="538.8" cy="1740.1" r="9.1"/><circle cx="596.0" cy="2405.2" r="9.1"/><circle cx="596.0" cy="2395.6" r="9.1"/><circle cx="596.0" cy="2385.9" r="9.1"/><circle cx="596.0" cy="2376.3" r="9.1"/><circle cx="596.0" cy="2366.7" r="9.1"/><circle cx="596.0" cy="2357.0" r="9.1"/><circle cx="596.0" cy="2347.4" r="9.1"/><circle cx="596.0" cy="2337.8" r="9.1"/><circle cx="596.0" cy="2328.1" r="9.1"/><circle cx="596.0" cy="2318.5" r="9.1"/><circle cx="596.0" cy="2308.9" r="9.1"/><circle cx="596.0" cy="2299.2" r="9.1"/><circle cx="596.0" cy="2289.6" r="9.1"/><circle cx="596.0" cy="2280.0" r="9.1"/><circle cx="596.0" cy="2270.3" r="9.1"/><circle cx="596.0" cy="2260.7" r="9.1"/><circle cx="596.0" cy="2251.1" r="9.1"/><circle cx="596.0" cy="2241.4" r="9.1"/><circle cx="596.0" cy="2150.3" r="9.1"/><circle cx="596.0" cy="2138.4" r="9.1"/><circle cx="634.2" cy="2405.2" r="9.1"/><circle cx="634.2" cy="2395.6" r="9.1"/><circle cx="634.2" cy="2385.9" r="9.1"/><circle cx="634.2" cy="2374.1" r="9.1"/><circle cx="634.2" cy="2364.4" r="9.1"/><circle cx="634.2" cy="2354.8" r="9.1"/><circle cx="634.2" cy="2345.2" r="9.1"/><circle cx="634.2" cy="2335.5" r="9.1"/><circle cx="634.2" cy="2325.9" r="9.1"/><circle cx="634.2" cy="2316.3" r="9.1"/><circle cx="634.2" cy="2306.6" r="9.1"/><circle cx="634.2" cy="2282.2" r="9.1"/><circle cx="634.2" cy="2229.6" r="9.1"/><circle cx="634.2" cy="2205.1" r="9.1"/><circle cx="634.2" cy="2145.8" r="9.1"/><circle cx="786.6" cy="2394.8" r="9.1"/><circle cx="786.6" cy="2385.2" r="9.1"/><circle cx="786.6" cy="2375.5" r="9.1"/><circle cx="786.6" cy="2365.9" r="9.1"/><circle cx="786.6" cy="2310.3" r="9.1"/><circle cx="786.6" cy="2285.1" r="9.1"/><circle cx="786.6" cy="2233.3" r="9.1"/><circle cx="824.8" cy="2348.9" r="9.1"/><circle cx="824.8" cy="2339.2" r="9.1"/><circle cx="824.8" cy="2329.6" r="9.1"/><circle cx="824.8" cy="2320.0" r="9.1"/><circle cx="824.8" cy="2310.3" r="9.1"/><circle cx="824.8" cy="2300.7" r="9.1"/><circle cx="824.8" cy="2279.2" r="9.1"/><circle cx="824.8" cy="2202.2" r="9.1"/><circle cx="824.8" cy="2177.0" r="9.1"/><circle cx="882.0" cy="2277.7" r="9.1"/><circle cx="882.0" cy="2243.7" r="9.1"/><circle cx="882.0" cy="2237.7" r="9.1"/><circle cx="977.2" cy="2375.5" r="9.1"/><circle cx="977.2" cy="2354.8" r="9.1"/><circle cx="977.2" cy="2345.2" r="9.1"/><circle cx="977.2" cy="2335.5" r="9.1"/><circle cx="977.2" cy="2325.9" r="9.1"/><circle cx="977.2" cy="2316.3" r="9.1"/><circle cx="977.2" cy="2294.0" r="9.1"/><circle cx="977.2" cy="2286.6" r="9.1"/><circle cx="1015.3" cy="2335.5" r="9.1"/><circle cx="1015.3" cy="2325.9" r="9.1"/><circle cx="1015.3" cy="2316.3" r="9.1"/><circle cx="1015.3" cy="2306.6" r="9.1"/><circle cx="1015.3" cy="2297.0" r="9.1"/><circle cx="1015.3" cy="2273.3" r="9.1"/><circle cx="1072.5" cy="1984.6" r="9.1"/><circle cx="1110.6" cy="2121.2" r="9.1"/><circle cx="1110.6" cy="2032.5" r="9.1"/><circle cx="1167.9" cy="2411.1" r="9.1"/><circle cx="1167.9" cy="2401.5" r="9.1"/><circle cx="1167.9" cy="2391.9" r="9.1"/><circle cx="1167.9" cy="2382.2" r="9.1"/><circle cx="1167.9" cy="2372.6" r="9.1"/><circle cx="1167.9" cy="2363.0" r="9.1"/><circle cx="1167.9" cy="2353.3" r="9.1"/><circle cx="1206.0" cy="2387.9" r="9.1"/><circle cx="1206.0" cy="2380.7" r="9.1"/><circle cx="1206.0" cy="2356.7" r="9.1"/><circle cx="1206.0" cy="2308.9" r="9.1"/><circle cx="1301.2" cy="2142.0" r="9.1"/><circle cx="1358.5" cy="2297.0" r="9.1"/><circle cx="1358.5" cy="2287.4" r="9.1"/><circle cx="1358.5" cy="2277.7" r="9.1"/><circle cx="1358.5" cy="2258.5" r="9.1"/><circle cx="1358.5" cy="2241.4" r="9.1"/><circle cx="1358.5" cy="2227.3" r="9.1"/><circle cx="1358.5" cy="2147.8" r="9.1"/><circle cx="1396.5" cy="2297.0" r="9.1"/><circle cx="1396.5" cy="2283.7" r="9.1"/><circle cx="1453.8" cy="2308.9" r="9.1"/><circle cx="1453.8" cy="2299.2" r="9.1"/><circle cx="1453.8" cy="2289.6" r="9.1"/><circle cx="1453.8" cy="2280.0" r="9.1"/><circle cx="1453.8" cy="2270.3" r="9.1"/><circle cx="1453.8" cy="2175.5" r="9.1"/><circle cx="1453.8" cy="2103.6" r="9.1"/><circle cx="1453.8" cy="2080.6" r="9.1"/><circle cx="1453.8" cy="2000.6" r="9.1"/><circle cx="1453.8" cy="1940.9" r="9.1"/><circle cx="1453.8" cy="1787.3" r="9.1"/><circle cx="1491.8" cy="1724.2" r="9.1"/><circle cx="1491.8" cy="1576.3" r="9.1"/><circle cx="1549.1" cy="2349.5" r="9.1"/><circle cx="1549.1" cy="2363.7" r="9.1"/><circle cx="1549.1" cy="2383.0" r="9.1"/><circle cx="1549.1" cy="2412.6" r="9.1"/><circle cx="1644.4" cy="1925.0" r="9.1"/><circle cx="1644.4" cy="1881.5" r="9.1"/><circle cx="1644.4" cy="1815.4" r="9.1"/><circle cx="1682.5" cy="2027.3" r="9.1"/><circle cx="1682.5" cy="2006.5" r="9.1"/><circle cx="1682.5" cy="1971.0" r="9.1"/><circle cx="1739.7" cy="2301.4" r="9.1"/><circle cx="1739.7" cy="2286.6" r="9.1"/><circle cx="1739.7" cy="2272.6" r="9.1"/><circle cx="1739.7" cy="2260.5" r="9.1"/><circle cx="1777.8" cy="2128.5" r="9.1"/><circle cx="1777.8" cy="2069.4" r="9.1"/><circle cx="1835.0" cy="2411.1" r="9.1"/><circle cx="1835.0" cy="2401.5" r="9.1"/><circle cx="1835.0" cy="2391.9" r="9.1"/><circle cx="1835.0" cy="2372.6" r="9.1"/><circle cx="1835.0" cy="2342.2" r="9.1"/><circle cx="1873.0" cy="2406.7" r="9.1"/><circle cx="1873.0" cy="2397.0" r="9.1"/><circle cx="1873.0" cy="2387.4" r="9.1"/><circle cx="1873.0" cy="2377.8" r="9.1"/><circle cx="1873.0" cy="2368.1" r="9.1"/><circle cx="1873.0" cy="2358.5" r="9.1"/><circle cx="1873.0" cy="2328.1" r="9.1"/><circle cx="1873.0" cy="2311.1" r="9.1"/><circle cx="1873.0" cy="2274.8" r="9.1"/><circle cx="1873.0" cy="2240.7" r="9.1"/><circle cx="1930.2" cy="2340.0" r="9.1"/><circle cx="1930.2" cy="2330.3" r="9.1"/><circle cx="1930.2" cy="2320.7" r="9.1"/><circle cx="1930.2" cy="2311.1" r="9.1"/><circle cx="1930.2" cy="2301.4" r="9.1"/><circle cx="1930.2" cy="2291.8" r="9.1"/><circle cx="1930.2" cy="2282.2" r="9.1"/><circle cx="1930.2" cy="2254.5" r="9.1"/><circle cx="1930.2" cy="2183.8" r="9.1"/><circle cx="1968.3" cy="2227.9" r="9.1"/><circle cx="1968.3" cy="2200.7" r="9.1"/><circle cx="1968.3" cy="2125.1" r="9.1"/><circle cx="1968.3" cy="1988.7" r="9.1"/><circle cx="2025.6" cy="2150.3" r="9.1"/><circle cx="2025.6" cy="2135.5" r="9.1"/><circle cx="2025.6" cy="2094.0" r="9.1"/><circle cx="2025.6" cy="1952.1" r="9.1"/><circle cx="2063.7" cy="2285.1" r="9.1"/><circle cx="2063.7" cy="2242.9" r="9.1"/><circle cx="2063.7" cy="2193.3" r="9.1"/><circle cx="2063.7" cy="2170.3" r="9.1"/><circle cx="2063.7" cy="2020.5" r="9.1"/><circle cx="2120.9" cy="2411.1" r="9.1"/><circle cx="2120.9" cy="2401.5" r="9.1"/><circle cx="2158.9" cy="2411.1" r="9.1"/><circle cx="2158.9" cy="2401.5" r="9.1"/><circle cx="2158.9" cy="2391.9" r="9.1"/><circle cx="2216.1" cy="2311.1" r="9.1"/><circle cx="2254.2" cy="2241.4" r="9.1"/><circle cx="2254.2" cy="2203.6" r="9.1"/></g>
<text x="155" y="2429.1" text-anchor="end" font-size="46">0.0</text>
<text x="155" y="2132.7" text-anchor="end" font-size="46">0.2</text>
<text x="155" y="1836.3" text-anchor="end" font-size="46">0.4</text>
<text transform="translate(64 1993) rotate(-90)" text-anchor="middle" font-size="46">Fraction</text>
<text x="424.5" y="1572" text-anchor="middle" font-size="42">***</text>
<text x="710.4" y="1572" text-anchor="middle" font-size="42">*</text>
<text x="805.7" y="1572" text-anchor="middle" font-size="42">**</text>
<text x="1091.6" y="1572" text-anchor="middle" font-size="42">***</text>
<text x="1282.2" y="1572" text-anchor="middle" font-size="42">*</text>
<text x="1377.5" y="1572" text-anchor="middle" font-size="42">*</text>
<text x="1472.8" y="1572" text-anchor="middle" font-size="42">***</text>
<text x="1568.1" y="1572" text-anchor="middle" font-size="42">***</text>
<text x="1663.4" y="1572" text-anchor="middle" font-size="42">***</text>
<text x="1854.0" y="1572" text-anchor="middle" font-size="42">***</text>
<text x="1949.3" y="1572" text-anchor="middle" font-size="42">**</text>
<text x="2044.6" y="1572" text-anchor="middle" font-size="42">***</text>
<text transform="translate(257.3 2502.5) rotate(-49.7)" text-anchor="end" font-size="47.5">B cells naive</text>
<text transform="translate(352.6 2502.5) rotate(-49.7)" text-anchor="end" font-size="47.5">B cells memory</text>
<text transform="translate(447.9 2502.5) rotate(-49.7)" text-anchor="end" font-size="47.5">Plasma cells</text>
<text transform="translate(543.2 2502.5) rotate(-49.7)" text-anchor="end" font-size="47.5">T cells CD8</text>
<text transform="translate(638.5 2502.5) rotate(-49.7)" text-anchor="end" font-size="47.5">T cells CD4 naive</text>
<text transform="translate(733.8 2502.5) rotate(-49.7)" text-anchor="end" font-size="47.5">T cells CD4 memory resting</text>
<text transform="translate(829.1 2502.5) rotate(-49.7)" text-anchor="end" font-size="47.5">T cells CD4 memory activated</text>
<text transform="translate(924.4 2502.5) rotate(-49.7)" text-anchor="end" font-size="47.5">T cells follicular helper</text>
<text transform="translate(1019.7 2502.5) rotate(-49.7)" text-anchor="end" font-size="47.5">T cells regulatory (Tregs)</text>
<text transform="translate(1115.0 2502.5) rotate(-49.7)" text-anchor="end" font-size="47.5">T cells gamma delta</text>
<text transform="translate(1210.3 2502.5) rotate(-49.7)" text-anchor="end" font-size="47.5">NK cells resting</text>
<text transform="translate(1305.6 2502.5) rotate(-49.7)" text-anchor="end" font-size="47.5">NK cells activated</text>
<text transform="translate(1400.9 2502.5) rotate(-49.7)" text-anchor="end" font-size="47.5">Monocytes</text>
<text transform="translate(1496.2 2502.5) rotate(-49.7)" text-anchor="end" font-size="47.5">Macrophages M0</text>
<text transform="translate(1591.5 2502.5) rotate(-49.7)" text-anchor="end" font-size="47.5">Macrophages M1</text>
<text transform="translate(1686.8 2502.5) rotate(-49.7)" text-anchor="end" font-size="47.5">Macrophages M2</text>
<text transform="translate(1782.1 2502.5) rotate(-49.7)" text-anchor="end" font-size="47.5">Dendritic cells resting</text>
<text transform="translate(1877.4 2502.5) rotate(-49.7)" text-anchor="end" font-size="47.5">Dendritic cells activated</text>
<text transform="translate(1972.7 2502.5) rotate(-49.7)" text-anchor="end" font-size="47.5">Mast cells resting</text>
<text transform="translate(2068.0 2502.5) rotate(-49.7)" text-anchor="end" font-size="47.5">Mast cells activated</text>
<text transform="translate(2163.3 2502.5) rotate(-49.7)" text-anchor="end" font-size="47.5">Eosinophils</text>
<text transform="translate(2258.6 2502.5) rotate(-49.7)" text-anchor="end" font-size="47.5">Neutrophils</text>
<text x="959" y="1444.5" font-size="45.5">Type</text>
<g stroke="#0a0a0a" stroke-width="3"><line x1="1118.5" y1="1400.5" x2="1118.5" y2="1455"/><rect x="1091.0" y="1409.5" width="55" height="36" fill="#2f7cc0"/><line x1="1091.0" y1="1427.5" x2="1146.0" y2="1427.5"/></g>
<text x="1176.5" y="1442" font-size="39.5">Control</text>
<g stroke="#0a0a0a" stroke-width="3"><line x1="1365.5" y1="1400.5" x2="1365.5" y2="1455"/><rect x="1338.0" y="1409.5" width="55" height="36" fill="#eb5557"/><line x1="1338.0" y1="1427.5" x2="1393.0" y2="1427.5"/></g>
<text x="1425.0" y="1442" font-size="39.5">Treat</text>
<text x="34" y="1343" class="sf" font-size="58">B</text>
<text x="1296" y="2356.7" class="sf" font-size="72.5">B</text>
</g>
<g id="panelC">
<g fill="none" stroke="#bdbdbd" stroke-opacity="0.58" stroke-width="2.3"><path d="M976.0 3188.7Q1419.2 3193.8 1820.8 3381.3"/><path d="M1025.4 3238.1Q1438.6 3223.8 1820.8 3381.3"/><path d="M1074.8 3287.5Q1457.9 3253.8 1820.8 3381.3"/><path d="M1124.1 3336.8Q1477.3 3283.8 1820.8 3381.3"/><path d="M1173.5 3386.2Q1496.6 3313.9 1820.8 3381.3"/><path d="M1222.9 3435.6Q1516.0 3343.9 1820.8 3381.3"/><path d="M1272.3 3485.0Q1535.3 3373.9 1820.8 3381.3"/><path d="M1321.7 3534.4Q1554.7 3403.9 1820.8 3381.3"/><path d="M1371.0 3583.7Q1574.1 3433.9 1820.8 3381.3"/><path d="M1420.4 3633.1Q1593.4 3464.0 1820.8 3381.3"/><path d="M1469.8 3682.5Q1612.8 3494.0 1820.8 3381.3"/><path d="M1519.2 3731.9Q1707.9 3589.2 1820.8 3381.3"/><path d="M1568.6 3781.3Q1737.9 3608.5 1820.8 3381.3"/><path d="M1667.3 3880.0Q1797.9 3647.2 1820.8 3381.3"/><path d="M1716.7 3929.4Q1827.9 3666.6 1820.8 3381.3"/><path d="M1766.1 3978.8Q1858.0 3685.9 1820.8 3381.3"/><path d="M1815.5 4028.2Q1888.0 3705.3 1820.8 3381.3"/><path d="M1864.8 4077.5Q1918.0 3724.7 1820.8 3381.3"/><path d="M1914.2 4126.9Q1948.0 3744.0 1820.8 3381.3"/><path d="M1963.6 4176.3Q1978.1 3763.4 1820.8 3381.3"/><path d="M2013.0 4225.7Q2008.1 3782.7 1820.8 3381.3"/><path d="M976.0 3188.7Q1569.2 3309.5 2059.6 3664.3"/><path d="M1025.4 3238.1Q1588.5 3339.5 2059.6 3664.3"/><path d="M1074.8 3287.5Q1607.9 3369.5 2059.6 3664.3"/><path d="M1124.1 3336.8Q1627.2 3399.5 2059.6 3664.3"/><path d="M1173.5 3386.2Q1646.6 3429.6 2059.6 3664.3"/><path d="M1222.9 3435.6Q1665.9 3459.6 2059.6 3664.3"/><path d="M1272.3 3485.0Q1685.3 3489.6 2059.6 3664.3"/><path d="M1321.7 3534.4Q1704.7 3519.6 2059.6 3664.3"/><path d="M1371.0 3583.7Q1724.0 3549.7 2059.6 3664.3"/><path d="M1420.4 3633.1Q1743.4 3579.7 2059.6 3664.3"/><path d="M1469.8 3682.5Q1762.7 3609.7 2059.6 3664.3"/><path d="M1519.2 3731.9Q1796.7 3756.5 2059.6 3664.3"/><path d="M1568.6 3781.3Q1826.7 3775.8 2059.6 3664.3"/><path d="M1667.3 3880.0Q1886.8 3814.5 2059.6 3664.3"/><path d="M1716.7 3929.4Q1916.8 3833.9 2059.6 3664.3"/><path d="M1766.1 3978.8Q1946.8 3853.2 2059.6 3664.3"/><path d="M1815.5 4028.2Q1976.8 3872.6 2059.6 3664.3"/><path d="M1963.6 4176.3Q2066.9 3930.7 2059.6 3664.3"/><path d="M2013.0 4225.7Q2096.9 3950.0 2059.6 3664.3"/></g>
<path d="M1617.9 3830.6Q1767.9 3627.9 1820.8 3381.3" fill="none" stroke="#D95F02" stroke-width="6.9" stroke-linecap="butt"/>
<path d="M1617.9 3830.6Q1856.7 3795.2 2059.6 3664.3" fill="none" stroke="#1B9E77" stroke-width="6.9" stroke-linecap="butt"/>
<path d="M1864.8 4077.5Q2006.8 3892.0 2059.6 3664.3" fill="none" stroke="#D95F02" stroke-width="6.9" stroke-linecap="butt"/>
<path d="M1914.2 4126.9Q2036.9 3911.3 2059.6 3664.3" fill="none" stroke="#1B9E77" stroke-width="6.9" stroke-linecap="butt"/>
<path d="M951.3 3213.4h49.4M1000.7 3213.4v49.4M951.3 3262.8h98.8M1050.1 3262.8v49.4M951.3 3312.1h148.1M1099.5 3312.1v49.4M951.3 3361.5h197.5M1148.8 3361.5v49.4M951.3 3410.9h246.9M1198.2 3410.9v49.4M951.3 3460.3h296.3M1247.6 3460.3v49.4M951.3 3509.7h345.7M1297.0 3509.7v49.4M951.3 3559.0h395.0M1346.3 3559.0v49.4M951.3 3608.4h444.4M1395.7 3608.4v49.4M951.3 3657.8h493.8M1445.1 3657.8v49.4M951.3 3707.2h543.2M1494.5 3707.2v49.4M951.3 3756.6h592.6M1543.9 3756.6v49.4M951.3 3805.9h641.9M1593.2 3805.9v49.4M951.3 3855.3h691.3M1642.6 3855.3v49.4M951.3 3904.7h740.7M1692.0 3904.7v49.4M951.3 3954.1h790.1M1741.4 3954.1v49.4M951.3 4003.5h839.5M1790.8 4003.5v49.4M951.3 4052.8h888.8M1840.2 4052.8v49.4M951.3 4102.2h938.2M1889.5 4102.2v49.4M951.3 4151.6h987.6M1938.9 4151.6v49.4M951.3 4201.0h1037.0M1988.3 4201.0v49.4M951.3 4250.4h1037.0M951.3 3213.4V4250.4M1000.7 3262.8V4250.4M1050.1 3312.1V4250.4M1099.5 3361.5V4250.4M1148.8 3410.9V4250.4M1198.2 3460.3V4250.4M1247.6 3509.7V4250.4M1297.0 3559.0V4250.4M1346.3 3608.4V4250.4M1395.7 3657.8V4250.4M1445.1 3707.2V4250.4M1494.5 3756.6V4250.4M1543.9 3805.9V4250.4M1593.2 3855.3V4250.4M1642.6 3904.7V4250.4M1692.0 3954.1V4250.4M1741.4 4003.5V4250.4M1790.8 4052.8V4250.4M1840.2 4102.2V4250.4M1889.5 4151.6V4250.4M1938.9 4201.0V4250.4" fill="none" stroke="#8c8c8c" stroke-width="1.8"/>
<g stroke="#6a6a6a" stroke-width="1.7"><rect x="955.3" y="3217.4" width="41.3" height="41.3" fill="#256baf"/><rect x="964.2" y="3275.6" width="23.7" height="23.7" fill="#e3eef3"/><rect x="1014.1" y="3276.1" width="22.6" height="22.6" fill="#e17960"/><rect x="966.8" y="3327.6" width="18.5" height="18.5" fill="#f8f3f1"/><rect x="1020.1" y="3331.5" width="10.6" height="10.6" fill="#f9c2a7"/><rect x="1061.5" y="3323.5" width="26.6" height="26.6" fill="#ce5146"/><rect x="968.2" y="3378.4" width="15.6" height="15.6" fill="#f9ebe3"/><rect x="1015.8" y="3376.7" width="19.1" height="19.1" fill="#ee9777"/><rect x="1065.9" y="3377.3" width="17.8" height="17.8" fill="#f8f1ed"/><rect x="1110.8" y="3372.9" width="26.6" height="26.6" fill="#d3e6f0"/><rect x="967.8" y="3427.4" width="16.4" height="16.4" fill="#f5a987"/><rect x="1017.2" y="3427.4" width="16.4" height="16.4" fill="#f5a987"/><rect x="1064.3" y="3425.1" width="21.0" height="21.0" fill="#f1f4f6"/><rect x="1103.8" y="3415.2" width="40.7" height="40.7" fill="#2a71b2"/><rect x="1170.7" y="3432.8" width="5.6" height="5.6" fill="#fbcfb7"/><rect x="965.8" y="3474.8" width="20.4" height="20.4" fill="#e98d6f"/><rect x="1014.3" y="3473.9" width="22.1" height="22.1" fill="#ecf2f5"/><rect x="1069.0" y="3479.2" width="11.6" height="11.6" fill="#f8bea3"/><rect x="1112.8" y="3473.7" width="22.6" height="22.6" fill="#e17960"/><rect x="1168.6" y="3480.0" width="9.9" height="9.9" fill="#f9c4aa"/><rect x="1212.4" y="3474.5" width="21.0" height="21.0" fill="#f1f4f6"/><rect x="971.1" y="3529.4" width="9.9" height="9.9" fill="#fcdfce"/><rect x="1019.9" y="3528.8" width="11.0" height="11.0" fill="#fce1d2"/><rect x="1066.2" y="3525.8" width="17.1" height="17.1" fill="#f4a582"/><rect x="1106.0" y="3516.2" width="36.3" height="36.3" fill="#67001f"/><rect x="1159.3" y="3520.2" width="28.4" height="28.4" fill="#c2deec"/><rect x="1204.3" y="3515.7" width="37.3" height="37.3" fill="#4795c4"/><rect x="1266.2" y="3528.3" width="12.1" height="12.1" fill="#f8bda0"/><rect x="967.8" y="3575.6" width="16.4" height="16.4" fill="#f5a987"/><rect x="1024.0" y="3582.4" width="2.7" height="2.7" fill="#fcd3bc"/><rect x="1067.8" y="3576.8" width="14.0" height="14.0" fill="#fae7dc"/><rect x="1120.6" y="3580.2" width="7.0" height="7.0" fill="#fbccb4"/><rect x="1167.0" y="3577.2" width="13.1" height="13.1" fill="#fbe5d9"/><rect x="1212.7" y="3573.6" width="20.4" height="20.4" fill="#f4f5f6"/><rect x="1258.3" y="3569.8" width="27.9" height="27.9" fill="#c7e0ed"/><rect x="1320.3" y="3582.4" width="2.7" height="2.7" fill="#fcd3bc"/><rect x="971.9" y="3629.1" width="8.1" height="8.1" fill="#fac9b0"/><rect x="1020.4" y="3628.2" width="9.9" height="9.9" fill="#fcdfce"/><rect x="1065.9" y="3624.2" width="17.8" height="17.8" fill="#f2a07f"/><rect x="1116.3" y="3625.3" width="15.6" height="15.6" fill="#f5ad8c"/><rect x="1159.6" y="3619.2" width="27.9" height="27.9" fill="#c7e0ed"/><rect x="1212.4" y="3622.6" width="21.0" height="21.0" fill="#f1f4f6"/><rect x="1266.8" y="3627.6" width="11.0" height="11.0" fill="#fce1d2"/><rect x="1310.3" y="3621.8" width="22.6" height="22.6" fill="#e17960"/><rect x="1368.2" y="3630.3" width="5.6" height="5.6" fill="#fbcfb7"/><rect x="971.9" y="3678.4" width="8.1" height="8.1" fill="#fac9b0"/><rect x="1022.6" y="3679.7" width="5.6" height="5.6" fill="#fbcfb7"/><rect x="1065.5" y="3673.3" width="18.5" height="18.5" fill="#f8f3f1"/><rect x="1118.6" y="3677.0" width="11.0" height="11.0" fill="#fce1d2"/><rect x="1164.6" y="3673.6" width="17.8" height="17.8" fill="#f2a07f"/><rect x="1212.7" y="3672.3" width="20.4" height="20.4" fill="#e98d6f"/><rect x="1271.5" y="3681.7" width="1.6" height="1.6" fill="#fcd3bd"/><rect x="1316.1" y="3677.0" width="11.0" height="11.0" fill="#fce1d2"/><rect x="1364.1" y="3675.5" width="14.0" height="14.0" fill="#fae7dc"/><rect x="1409.7" y="3671.7" width="21.5" height="21.5" fill="#eef3f5"/><rect x="963.4" y="3719.3" width="25.2" height="25.2" fill="#dbeaf2"/><rect x="1018.8" y="3725.3" width="13.1" height="13.1" fill="#f7b99b"/><rect x="1063.4" y="3720.6" width="22.6" height="22.6" fill="#e9f0f4"/><rect x="1117.6" y="3725.3" width="13.1" height="13.1" fill="#f7b99b"/><rect x="1162.5" y="3720.8" width="22.1" height="22.1" fill="#e37e64"/><rect x="1215.9" y="3724.9" width="14.0" height="14.0" fill="#fae7dc"/><rect x="1263.4" y="3723.0" width="17.8" height="17.8" fill="#f8f1ed"/><rect x="1310.9" y="3721.1" width="21.5" height="21.5" fill="#e58368"/><rect x="1362.1" y="3723.0" width="17.8" height="17.8" fill="#f8f1ed"/><rect x="1413.0" y="3724.5" width="14.8" height="14.8" fill="#fae9e0"/><rect x="1458.5" y="3720.6" width="22.6" height="22.6" fill="#e9f0f4"/><rect x="974.6" y="3779.9" width="2.7" height="2.7" fill="#fcd3bc"/><rect x="1020.8" y="3776.6" width="9.2" height="9.2" fill="#fac6ac"/><rect x="1066.2" y="3772.7" width="17.1" height="17.1" fill="#f9efea"/><rect x="1120.8" y="3777.9" width="6.6" height="6.6" fill="#fbcdb5"/><rect x="1165.7" y="3773.5" width="15.6" height="15.6" fill="#f5ad8c"/><rect x="1214.0" y="3772.4" width="17.8" height="17.8" fill="#f2a07f"/><rect x="1269.0" y="3777.9" width="6.6" height="6.6" fill="#fbcdb5"/><rect x="1314.7" y="3774.3" width="14.0" height="14.0" fill="#fae7dc"/><rect x="1370.3" y="3780.5" width="1.6" height="1.6" fill="#fcd3bd"/><rect x="1404.4" y="3765.3" width="32.0" height="32.0" fill="#9ac9e0"/><rect x="1461.2" y="3772.7" width="17.1" height="17.1" fill="#f4a582"/><rect x="1509.6" y="3771.7" width="19.1" height="19.1" fill="#ee9777"/><rect x="965.0" y="3819.6" width="22.1" height="22.1" fill="#e37e64"/><rect x="1016.1" y="3821.4" width="18.5" height="18.5" fill="#f8f3f1"/><rect x="1064.9" y="3820.8" width="19.8" height="19.8" fill="#f6f7f7"/><rect x="1108.7" y="3815.2" width="30.8" height="30.8" fill="#a7d0e4"/><rect x="1162.5" y="3819.6" width="22.1" height="22.1" fill="#e37e64"/><rect x="1221.2" y="3828.9" width="3.5" height="3.5" fill="#fbd2bb"/><rect x="1266.8" y="3825.1" width="11.0" height="11.0" fill="#fce1d2"/><rect x="1308.6" y="3817.6" width="26.1" height="26.1" fill="#d6e7f1"/><rect x="1357.5" y="3817.1" width="27.0" height="27.0" fill="#cc4b43"/><rect x="1408.1" y="3818.3" width="24.7" height="24.7" fill="#deebf2"/><rect x="1463.3" y="3824.1" width="13.1" height="13.1" fill="#f7b99b"/><rect x="1505.7" y="3817.1" width="27.0" height="27.0" fill="#d0e4f0"/><rect x="1555.5" y="3817.6" width="26.1" height="26.1" fill="#d6e7f1"/><rect x="972.7" y="3876.7" width="6.6" height="6.6" fill="#fbcdb5"/><rect x="1024.6" y="3879.2" width="1.6" height="1.6" fill="#fcd3bd"/><rect x="1062.7" y="3867.9" width="24.2" height="24.2" fill="#da6a55"/><rect x="1113.7" y="3869.5" width="21.0" height="21.0" fill="#e7886b"/><rect x="1166.5" y="3873.0" width="14.0" height="14.0" fill="#fae7dc"/><rect x="1215.1" y="3872.2" width="15.6" height="15.6" fill="#f5ad8c"/><rect x="1261.8" y="3869.5" width="21.0" height="21.0" fill="#e7886b"/><rect x="1317.0" y="3875.4" width="9.2" height="9.2" fill="#fac6ac"/><rect x="1359.5" y="3868.4" width="23.2" height="23.2" fill="#e6eff4"/><rect x="1413.9" y="3873.5" width="13.1" height="13.1" fill="#f7b99b"/><rect x="1464.0" y="3874.2" width="11.6" height="11.6" fill="#f8bea3"/><rect x="1512.6" y="3873.5" width="13.1" height="13.1" fill="#fbe5d9"/><rect x="1563.0" y="3874.5" width="11.0" height="11.0" fill="#fce1d2"/><rect x="1603.1" y="3865.2" width="29.6" height="29.6" fill="#b5d7e8"/><rect x="965.2" y="3918.6" width="21.5" height="21.5" fill="#eef3f5"/><rect x="1024.0" y="3928.0" width="2.7" height="2.7" fill="#fcd3bc"/><rect x="1068.7" y="3923.4" width="12.1" height="12.1" fill="#f8bda0"/><rect x="1116.3" y="3921.6" width="15.6" height="15.6" fill="#f5ad8c"/><rect x="1160.7" y="3916.6" width="25.7" height="25.7" fill="#d8e9f1"/><rect x="1213.0" y="3919.5" width="19.8" height="19.8" fill="#f6f7f7"/><rect x="1262.4" y="3919.5" width="19.8" height="19.8" fill="#f6f7f7"/><rect x="1311.5" y="3919.2" width="20.4" height="20.4" fill="#e98d6f"/><rect x="1364.1" y="3922.4" width="14.0" height="14.0" fill="#fae7dc"/><rect x="1410.2" y="3919.2" width="20.4" height="20.4" fill="#e98d6f"/><rect x="1459.9" y="3919.5" width="19.8" height="19.8" fill="#f6f7f7"/><rect x="1514.2" y="3924.5" width="9.9" height="9.9" fill="#f9c4aa"/><rect x="1565.1" y="3925.9" width="7.0" height="7.0" fill="#fbccb4"/><rect x="1604.4" y="3915.9" width="27.0" height="27.0" fill="#d0e4f0"/><rect x="1661.3" y="3923.4" width="12.1" height="12.1" fill="#fbe3d5"/><rect x="963.7" y="3966.4" width="24.7" height="24.7" fill="#deebf2"/><rect x="1013.3" y="3966.7" width="24.2" height="24.2" fill="#da6a55"/><rect x="1071.4" y="3975.5" width="6.6" height="6.6" fill="#fbcdb5"/><rect x="1119.2" y="3973.8" width="9.9" height="9.9" fill="#fcdfce"/><rect x="1162.2" y="3967.5" width="22.6" height="22.6" fill="#e17960"/><rect x="1215.5" y="3971.4" width="14.8" height="14.8" fill="#f6b191"/><rect x="1265.7" y="3972.2" width="13.1" height="13.1" fill="#fbe5d9"/><rect x="1316.1" y="3973.3" width="11.0" height="11.0" fill="#fce1d2"/><rect x="1365.7" y="3973.5" width="10.6" height="10.6" fill="#f9c2a7"/><rect x="1407.6" y="3966.0" width="25.7" height="25.7" fill="#d8e9f1"/><rect x="1467.6" y="3976.6" width="4.4" height="4.4" fill="#fbd1ba"/><rect x="1510.6" y="3970.2" width="17.1" height="17.1" fill="#f4a582"/><rect x="1558.4" y="3968.6" width="20.4" height="20.4" fill="#e98d6f"/><rect x="1614.0" y="3974.9" width="7.8" height="7.8" fill="#facab1"/><rect x="1660.8" y="3972.2" width="13.1" height="13.1" fill="#f7b99b"/><rect x="1711.8" y="3973.8" width="9.9" height="9.9" fill="#fcdfce"/><rect x="965.8" y="4018.0" width="20.4" height="20.4" fill="#e98d6f"/><rect x="1019.3" y="4022.1" width="12.1" height="12.1" fill="#fbe3d5"/><rect x="1065.9" y="4019.3" width="17.8" height="17.8" fill="#f8f1ed"/><rect x="1115.6" y="4019.6" width="17.1" height="17.1" fill="#f9efea"/><rect x="1164.6" y="4019.3" width="17.8" height="17.8" fill="#f8f1ed"/><rect x="1216.4" y="4021.6" width="13.1" height="13.1" fill="#f7b99b"/><rect x="1268.8" y="4024.7" width="7.0" height="7.0" fill="#fddbc7"/><rect x="1316.7" y="4023.2" width="9.9" height="9.9" fill="#fcdfce"/><rect x="1360.9" y="4018.0" width="20.4" height="20.4" fill="#e98d6f"/><rect x="1418.7" y="4026.4" width="3.5" height="3.5" fill="#fbd2bb"/><rect x="1464.9" y="4023.2" width="9.9" height="9.9" fill="#fcdfce"/><rect x="1514.2" y="4023.2" width="9.9" height="9.9" fill="#f9c4aa"/><rect x="1559.0" y="4018.6" width="19.1" height="19.1" fill="#ee9777"/><rect x="1613.9" y="4024.1" width="8.1" height="8.1" fill="#fac9b0"/><rect x="1654.3" y="4015.1" width="26.1" height="26.1" fill="#d6e7f1"/><rect x="1710.2" y="4021.6" width="13.1" height="13.1" fill="#fbe5d9"/><rect x="1757.2" y="4019.3" width="17.8" height="17.8" fill="#f8f1ed"/><rect x="965.0" y="4066.5" width="22.1" height="22.1" fill="#e37e64"/><rect x="1018.8" y="4071.0" width="13.1" height="13.1" fill="#f7b99b"/><rect x="1067.8" y="4070.6" width="14.0" height="14.0" fill="#fae7dc"/><rect x="1111.1" y="4064.5" width="26.1" height="26.1" fill="#d6e7f1"/><rect x="1161.4" y="4065.4" width="24.2" height="24.2" fill="#da6a55"/><rect x="1209.4" y="4064.0" width="27.0" height="27.0" fill="#cc4b43"/><rect x="1267.0" y="4072.2" width="10.6" height="10.6" fill="#f9c2a7"/><rect x="1306.2" y="4062.1" width="30.8" height="30.8" fill="#a7d0e4"/><rect x="1368.0" y="4074.5" width="6.0" height="6.0" fill="#fbceb6"/><rect x="1414.4" y="4071.5" width="12.1" height="12.1" fill="#fbe3d5"/><rect x="1465.9" y="4073.6" width="7.8" height="7.8" fill="#facab1"/><rect x="1514.2" y="4072.6" width="9.9" height="9.9" fill="#fcdfce"/><rect x="1556.2" y="4065.2" width="24.7" height="24.7" fill="#d86551"/><rect x="1613.7" y="4073.3" width="8.6" height="8.6" fill="#fdddcb"/><rect x="1657.1" y="4067.4" width="20.4" height="20.4" fill="#e98d6f"/><rect x="1712.8" y="4073.6" width="7.8" height="7.8" fill="#facab1"/><rect x="1755.6" y="4067.1" width="21.0" height="21.0" fill="#e7886b"/><rect x="1810.5" y="4072.6" width="9.9" height="9.9" fill="#fcdfce"/><rect x="963.2" y="4114.1" width="25.7" height="25.7" fill="#d8e9f1"/><rect x="1019.6" y="4121.1" width="11.6" height="11.6" fill="#f8bea3"/><rect x="1072.6" y="4124.7" width="4.4" height="4.4" fill="#fbd1ba"/><rect x="1114.6" y="4117.4" width="19.1" height="19.1" fill="#ee9777"/><rect x="1161.2" y="4114.6" width="24.7" height="24.7" fill="#deebf2"/><rect x="1210.3" y="4114.3" width="25.2" height="25.2" fill="#dbeaf2"/><rect x="1266.8" y="4121.4" width="11.0" height="11.0" fill="#fce1d2"/><rect x="1306.8" y="4112.1" width="29.6" height="29.6" fill="#bc2c35"/><rect x="1365.0" y="4120.9" width="12.1" height="12.1" fill="#f8bda0"/><rect x="1416.9" y="4123.4" width="7.0" height="7.0" fill="#fbccb4"/><rect x="1465.9" y="4123.0" width="7.8" height="7.8" fill="#facab1"/><rect x="1510.3" y="4118.0" width="17.8" height="17.8" fill="#f2a07f"/><rect x="1560.8" y="4119.1" width="15.6" height="15.6" fill="#f9ebe3"/><rect x="1615.2" y="4124.2" width="5.4" height="5.4" fill="#fbcfb8"/><rect x="1655.2" y="4114.8" width="24.2" height="24.2" fill="#e1ecf3"/><rect x="1710.2" y="4120.4" width="13.1" height="13.1" fill="#f7b99b"/><rect x="1758.3" y="4119.1" width="15.6" height="15.6" fill="#f9ebe3"/><rect x="1807.7" y="4119.1" width="15.6" height="15.6" fill="#f5ad8c"/><rect x="1842.0" y="4104.1" width="45.7" height="45.7" fill="#053061"/><rect x="970.2" y="4170.5" width="11.6" height="11.6" fill="#f8bea3"/><rect x="1019.3" y="4170.3" width="12.1" height="12.1" fill="#fbe3d5"/><rect x="1072.6" y="4174.1" width="4.4" height="4.4" fill="#fbd1ba"/><rect x="1115.2" y="4167.4" width="17.8" height="17.8" fill="#f2a07f"/><rect x="1168.6" y="4171.4" width="9.9" height="9.9" fill="#fcdfce"/><rect x="1215.5" y="4168.9" width="14.8" height="14.8" fill="#fae9e0"/><rect x="1266.8" y="4170.8" width="11.0" height="11.0" fill="#fce1d2"/><rect x="1315.1" y="4169.8" width="13.1" height="13.1" fill="#f7b99b"/><rect x="1365.5" y="4170.8" width="11.0" height="11.0" fill="#fce1d2"/><rect x="1415.1" y="4171.0" width="10.6" height="10.6" fill="#f9c2a7"/><rect x="1466.5" y="4173.0" width="6.6" height="6.6" fill="#fbcdb5"/><rect x="1510.6" y="4167.7" width="17.1" height="17.1" fill="#f4a582"/><rect x="1562.5" y="4170.3" width="12.1" height="12.1" fill="#fbe3d5"/><rect x="1611.4" y="4169.8" width="13.1" height="13.1" fill="#f7b99b"/><rect x="1660.8" y="4169.8" width="13.1" height="13.1" fill="#fbe5d9"/><rect x="1714.2" y="4173.8" width="4.9" height="4.9" fill="#fbd0b9"/><rect x="1759.5" y="4169.8" width="13.1" height="13.1" fill="#fbe5d9"/><rect x="1810.5" y="4171.4" width="9.9" height="9.9" fill="#fcdfce"/><rect x="1858.8" y="4170.3" width="12.1" height="12.1" fill="#fbe3d5"/><rect x="1905.0" y="4167.1" width="18.5" height="18.5" fill="#f09b7b"/><rect x="973.2" y="4222.9" width="5.6" height="5.6" fill="#fbcfb7"/><rect x="1020.4" y="4220.7" width="9.9" height="9.9" fill="#fcdfce"/><rect x="1068.2" y="4219.1" width="13.1" height="13.1" fill="#fbe5d9"/><rect x="1111.8" y="4213.3" width="24.7" height="24.7" fill="#deebf2"/><rect x="1164.3" y="4216.4" width="18.5" height="18.5" fill="#f8f3f1"/><rect x="1216.4" y="4219.1" width="13.1" height="13.1" fill="#f7b99b"/><rect x="1266.8" y="4220.2" width="11.0" height="11.0" fill="#fce1d2"/><rect x="1316.7" y="4220.7" width="9.9" height="9.9" fill="#fcdfce"/><rect x="1366.4" y="4221.1" width="9.2" height="9.2" fill="#fac6ac"/><rect x="1417.7" y="4223.0" width="5.4" height="5.4" fill="#fbcfb8"/><rect x="1463.8" y="4219.6" width="12.1" height="12.1" fill="#fbe3d5"/><rect x="1514.2" y="4220.7" width="9.9" height="9.9" fill="#fcdfce"/><rect x="1557.2" y="4214.4" width="22.6" height="22.6" fill="#e9f0f4"/><rect x="1614.9" y="4222.7" width="6.0" height="6.0" fill="#fbceb6"/><rect x="1663.0" y="4221.4" width="8.6" height="8.6" fill="#fac8af"/><rect x="1703.2" y="4212.2" width="27.0" height="27.0" fill="#cc4b43"/><rect x="1764.3" y="4223.9" width="3.5" height="3.5" fill="#fbd2bb"/><rect x="1811.2" y="4221.4" width="8.6" height="8.6" fill="#fac8af"/><rect x="1859.9" y="4220.7" width="9.9" height="9.9" fill="#fcdfce"/><rect x="1906.0" y="4217.5" width="16.4" height="16.4" fill="#f5a987"/><rect x="1955.0" y="4217.1" width="17.1" height="17.1" fill="#f9efea"/></g>
<g fill="#e8161b" stroke="#2440a8" stroke-width="3"><circle cx="976.0" cy="3188.7" r="8"/><circle cx="1025.4" cy="3238.1" r="8"/><circle cx="1074.8" cy="3287.5" r="8"/><circle cx="1124.1" cy="3336.8" r="8"/><circle cx="1173.5" cy="3386.2" r="8"/><circle cx="1222.9" cy="3435.6" r="8"/><circle cx="1272.3" cy="3485.0" r="8"/><circle cx="1321.7" cy="3534.4" r="8"/><circle cx="1371.0" cy="3583.7" r="8"/><circle cx="1420.4" cy="3633.1" r="8"/><circle cx="1469.8" cy="3682.5" r="8"/><circle cx="1519.2" cy="3731.9" r="8"/><circle cx="1568.6" cy="3781.3" r="8"/><circle cx="1617.9" cy="3830.6" r="8"/><circle cx="1667.3" cy="3880.0" r="8"/><circle cx="1716.7" cy="3929.4" r="8"/><circle cx="1766.1" cy="3978.8" r="8"/><circle cx="1815.5" cy="4028.2" r="8"/><circle cx="1864.8" cy="4077.5" r="8"/><circle cx="1914.2" cy="4126.9" r="8"/><circle cx="1963.6" cy="4176.3" r="8"/><circle cx="2013.0" cy="4225.7" r="8"/><circle cx="1820.8" cy="3381.3" r="8"/><circle cx="2059.6" cy="3664.3" r="8"/></g>
<text x="1847" y="3394" font-size="35.5">EHD4</text>
<text x="2085" y="3677" font-size="35.5">PPARGC1A</text>
<text x="928.5" y="3202.0" text-anchor="end" font-size="36">B cells naive</text>
<text transform="translate(989.3 4272.5) rotate(-90)" text-anchor="end" font-size="36">B cells naive</text>
<text x="928.5" y="3251.4" text-anchor="end" font-size="36">B cells memory</text>
<text transform="translate(1038.7 4272.5) rotate(-90)" text-anchor="end" font-size="36">B cells memory</text>
<text x="928.5" y="3300.8" text-anchor="end" font-size="36">Plasma cells</text>
<text transform="translate(1088.1 4272.5) rotate(-90)" text-anchor="end" font-size="36">Plasma cells</text>
<text x="928.5" y="3350.1" text-anchor="end" font-size="36">T cells CD8</text>
<text transform="translate(1137.4 4272.5) rotate(-90)" text-anchor="end" font-size="36">T cells CD8</text>
<text x="928.5" y="3399.5" text-anchor="end" font-size="36">T cells CD4 naive</text>
<text transform="translate(1186.8 4272.5) rotate(-90)" text-anchor="end" font-size="36">T cells CD4 naive</text>
<text x="928.5" y="3448.9" text-anchor="end" font-size="36">T cells CD4 memory resting</text>
<text transform="translate(1236.2 4272.5) rotate(-90)" text-anchor="end" font-size="36">T cells CD4 memory resting</text>
<text x="928.5" y="3498.3" text-anchor="end" font-size="36">T cells CD4 memory activated</text>
<text transform="translate(1285.6 4272.5) rotate(-90)" text-anchor="end" font-size="36">T cells CD4 memory activated</text>
<text x="928.5" y="3547.7" text-anchor="end" font-size="36">T cells follicular helper</text>
<text transform="translate(1335.0 4272.5) rotate(-90)" text-anchor="end" font-size="36">T cells follicular helper</text>
<text x="928.5" y="3597.0" text-anchor="end" font-size="36">T cells regulatory (Tregs)</text>
<text transform="translate(1384.3 4272.5) rotate(-90)" text-anchor="end" font-size="36">T cells regulatory (Tregs)</text>
<text x="928.5" y="3646.4" text-anchor="end" font-size="36">T cells gamma delta</text>
<text transform="translate(1433.7 4272.5) rotate(-90)" text-anchor="end" font-size="36">T cells gamma delta</text>
<text x="928.5" y="3695.8" text-anchor="end" font-size="36">NK cells resting</text>
<text transform="translate(1483.1 4272.5) rotate(-90)" text-anchor="end" font-size="36">NK cells resting</text>
<text x="928.5" y="3745.2" text-anchor="end" font-size="36">NK cells activated</text>
<text transform="translate(1532.5 4272.5) rotate(-90)" text-anchor="end" font-size="36">NK cells activated</text>
<text x="928.5" y="3794.6" text-anchor="end" font-size="36">Monocytes</text>
<text transform="translate(1581.9 4272.5) rotate(-90)" text-anchor="end" font-size="36">Monocytes</text>
<text x="928.5" y="3843.9" text-anchor="end" font-size="36">Macrophages M0</text>
<text transform="translate(1631.2 4272.5) rotate(-90)" text-anchor="end" font-size="36">Macrophages M0</text>
<text x="928.5" y="3893.3" text-anchor="end" font-size="36">Macrophages M1</text>
<text transform="translate(1680.6 4272.5) rotate(-90)" text-anchor="end" font-size="36">Macrophages M1</text>
<text x="928.5" y="3942.7" text-anchor="end" font-size="36">Macrophages M2</text>
<text transform="translate(1730.0 4272.5) rotate(-90)" text-anchor="end" font-size="36">Macrophages M2</text>
<text x="928.5" y="3992.1" text-anchor="end" font-size="36">Dendritic cells resting</text>
<text transform="translate(1779.4 4272.5) rotate(-90)" text-anchor="end" font-size="36">Dendritic cells resting</text>
<text x="928.5" y="4041.5" text-anchor="end" font-size="36">Dendritic cells activated</text>
<text transform="translate(1828.8 4272.5) rotate(-90)" text-anchor="end" font-size="36">Dendritic cells activated</text>
<text x="928.5" y="4090.8" text-anchor="end" font-size="36">Mast cells resting</text>
<text transform="translate(1878.1 4272.5) rotate(-90)" text-anchor="end" font-size="36">Mast cells resting</text>
<text x="928.5" y="4140.2" text-anchor="end" font-size="36">Mast cells activated</text>
<text transform="translate(1927.5 4272.5) rotate(-90)" text-anchor="end" font-size="36">Mast cells activated</text>
<text x="928.5" y="4189.6" text-anchor="end" font-size="36">Eosinophils</text>
<text transform="translate(1976.9 4272.5) rotate(-90)" text-anchor="end" font-size="36">Eosinophils</text>
<text x="928.5" y="4239.0" text-anchor="end" font-size="36">Neutrophils</text>
<text transform="translate(2026.3 4272.5) rotate(-90)" text-anchor="end" font-size="36">Neutrophils</text>
<text x="193" y="3301.5" font-size="36">pvalue</text>
<rect x="193" y="3323.5" width="56.5" height="171" fill="#f2f2f2"/>
<line x1="198.5" y1="3351.5" x2="244" y2="3351.5" stroke="#1B9E77" stroke-width="3.2"/>
<text x="268" y="3362.0" font-size="29">Negative</text>
<line x1="198.5" y1="3408.8" x2="244" y2="3408.8" stroke="#d6d6d6" stroke-width="3.2"/>
<text x="268" y="3419.3" font-size="29">Not</text>
<line x1="198.5" y1="3465.8" x2="244" y2="3465.8" stroke="#D95F02" stroke-width="3.2"/>
<text x="268" y="3476.3" font-size="29">Postive</text>
<text x="193" y="3598" font-size="36">abs(Cor)</text>
<rect x="193" y="3620.5" width="56.5" height="113.5" fill="#f2f2f2"/>
<line x1="198.5" y1="3648.5" x2="244" y2="3648.5" stroke="#5a5a5a" stroke-width="3.0"/>
<text x="268" y="3659.0" font-size="29">&lt; 0.2</text>
<line x1="198.5" y1="3705.5" x2="244" y2="3705.5" stroke="#5a5a5a" stroke-width="6.4"/>
<text x="268" y="3716.0" font-size="29">0.2 − 0.4</text>
<text x="193" y="3836" font-size="36">Cell−cell cor</text>
<defs><linearGradient id="cb" x1="0" y1="0" x2="0" y2="1"><stop offset="0%" stop-color="#67001F"/><stop offset="10%" stop-color="#B2182B"/><stop offset="20%" stop-color="#D6604D"/><stop offset="30%" stop-color="#F4A582"/><stop offset="40%" stop-color="#FDDBC7"/><stop offset="50%" stop-color="#F7F7F7"/><stop offset="60%" stop-color="#D1E5F0"/><stop offset="70%" stop-color="#92C5DE"/><stop offset="80%" stop-color="#4393C3"/><stop offset="90%" stop-color="#2166AC"/><stop offset="100%" stop-color="#053061"/></linearGradient></defs>
<rect x="193" y="3859" width="56.5" height="284" fill="url(#cb)"/>
<path d="M193 3866.9h11M249.5 3866.9h-11" stroke="#fff" stroke-opacity="0.6" stroke-width="1.5"/>
<text x="268" y="3877.4" font-size="29">0.5</text>
<path d="M193 3968.8h11M249.5 3968.8h-11" stroke="#fff" stroke-opacity="0.6" stroke-width="1.5"/>
<text x="268" y="3979.3" font-size="29">0.0</text>
<path d="M193 4070.7h11M249.5 4070.7h-11" stroke="#fff" stroke-opacity="0.6" stroke-width="1.5"/>
<text x="268" y="4081.2" font-size="29">−0.5</text>
<text x="47" y="3117" class="sf" font-size="58">C</text>
</g>
</svg>
</body></html>
